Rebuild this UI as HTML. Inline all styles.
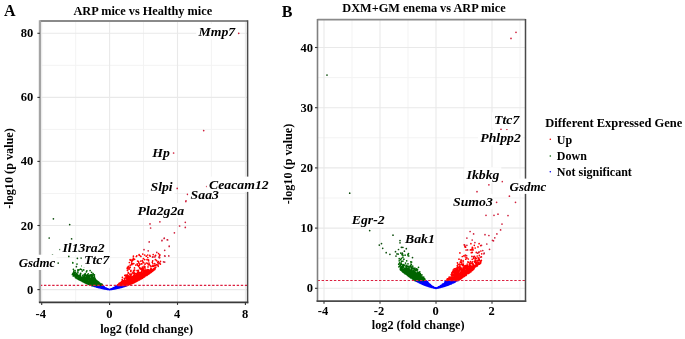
<!DOCTYPE html>
<html><head><meta charset="utf-8"><style>
html,body{margin:0;padding:0;background:#fff;width:685px;height:339px;overflow:hidden}
svg{display:block;filter:blur(0.3px)}
text{font-family:"Liberation Serif", serif;font-weight:bold;fill:#000}
.tk{font-size:12.5px}
.ttl{font-size:12.3px}
.ax{font-size:12.2px}
.lb{font-size:12.2px;font-style:italic}
.pl{font-size:16px}
.lg{font-size:12px}
.lgt{font-size:12.5px}
</style></head><body>
<svg width="685" height="339" viewBox="0 0 685 339">
<rect width="685" height="339" fill="#fff"/>
<!-- Panel A -->
<line x1="75.7" y1="21.0" x2="75.7" y2="302.4" stroke="#f3f3f3" stroke-width="1"/>
<line x1="143.5" y1="21.0" x2="143.5" y2="302.4" stroke="#f3f3f3" stroke-width="1"/>
<line x1="211.4" y1="21.0" x2="211.4" y2="302.4" stroke="#f3f3f3" stroke-width="1"/>
<line x1="39.9" y1="257.6" x2="247.6" y2="257.6" stroke="#f3f3f3" stroke-width="1"/>
<line x1="39.9" y1="193.5" x2="247.6" y2="193.5" stroke="#f3f3f3" stroke-width="1"/>
<line x1="39.9" y1="129.4" x2="247.6" y2="129.4" stroke="#f3f3f3" stroke-width="1"/>
<line x1="39.9" y1="65.3" x2="247.6" y2="65.3" stroke="#f3f3f3" stroke-width="1"/>
<line x1="41.7" y1="21.0" x2="41.7" y2="302.4" stroke="#e9e9e9" stroke-width="1.1"/>
<line x1="109.6" y1="21.0" x2="109.6" y2="302.4" stroke="#e9e9e9" stroke-width="1.1"/>
<line x1="177.5" y1="21.0" x2="177.5" y2="302.4" stroke="#e9e9e9" stroke-width="1.1"/>
<line x1="245.4" y1="21.0" x2="245.4" y2="302.4" stroke="#e9e9e9" stroke-width="1.1"/>
<line x1="39.9" y1="289.6" x2="247.6" y2="289.6" stroke="#e9e9e9" stroke-width="1.1"/>
<line x1="39.9" y1="225.5" x2="247.6" y2="225.5" stroke="#e9e9e9" stroke-width="1.1"/>
<line x1="39.9" y1="161.4" x2="247.6" y2="161.4" stroke="#e9e9e9" stroke-width="1.1"/>
<line x1="39.9" y1="97.4" x2="247.6" y2="97.4" stroke="#e9e9e9" stroke-width="1.1"/>
<line x1="39.9" y1="33.3" x2="247.6" y2="33.3" stroke="#e9e9e9" stroke-width="1.1"/>
<path d="M109.6 289.6h0M104.5 288.5h0M104.9 288.1h0M101.9 287.9h0M108.6 289.5h0M101.2 287.3h0M99.1 287.5h0M101.3 287.3h0M103.5 287.6h0M107.8 289.2h0M109.1 289.5h0M97.8 286.8h0M101.8 287.8h0M105.6 289.0h0M105.0 288.5h0M106.9 289.2h0M106.4 289.1h0M100.5 286.0h0M108.8 289.4h0M107.7 289.0h0M101.5 286.8h0M95.9 285.7h0M109.0 289.5h0M94.6 285.5h0M99.7 287.5h0M107.7 289.3h0M107.7 289.3h0M108.5 289.4h0M108.3 289.4h0M107.6 289.3h0M98.7 287.1h0M108.3 289.4h0M99.8 287.6h0M106.4 288.5h0M108.5 289.4h0M98.3 285.8h0M106.2 289.1h0M101.7 287.2h0M107.4 289.0h0M99.8 286.5h0M106.3 289.1h0M94.3 286.0h0M101.7 287.0h0M107.9 289.1h0M104.0 287.7h0M103.3 288.0h0M105.4 288.5h0M102.3 287.8h0M104.4 287.7h0M103.6 287.2h0M107.6 289.3h0M106.3 288.9h0M109.4 289.6h0M102.1 286.8h0M98.5 287.2h0M109.2 289.5h0M98.3 286.8h0M103.8 287.9h0M109.5 289.6h0M99.7 287.1h0M103.7 288.3h0M104.4 288.3h0M106.8 289.2h0M95.5 285.6h0M106.1 288.8h0M101.2 287.1h0M106.6 288.9h0M106.1 289.1h0M100.8 286.0h0M108.3 289.4h0M109.0 289.5h0M105.2 288.9h0M95.0 286.5h0M93.1 285.5h0M106.3 288.9h0M108.1 289.4h0M99.6 287.5h0M107.6 289.3h0M103.4 288.6h0M95.2 286.0h0M96.4 286.6h0M107.4 289.3h0M108.5 289.3h0M105.0 288.4h0M106.9 288.9h0M100.4 287.5h0M108.7 289.5h0M99.0 287.4h0M107.0 289.1h0M109.4 289.6h0M97.8 286.0h0M104.1 286.7h0M109.5 289.6h0M103.2 288.6h0M104.5 288.6h0M98.2 286.7h0M91.7 285.5h0M103.9 288.5h0M106.1 288.7h0M98.9 287.4h0M97.1 287.1h0M109.2 289.5h0M108.4 289.4h0M96.8 287.1h0M101.9 287.1h0M100.4 287.4h0M107.2 289.2h0M101.0 287.8h0M104.7 287.7h0M109.0 289.5h0M102.1 286.9h0M101.0 287.1h0M98.9 286.4h0M104.5 288.8h0M107.0 289.2h0M109.2 289.5h0M98.1 286.7h0M103.1 287.7h0M100.0 287.5h0M107.2 288.9h0M100.4 287.9h0M96.3 285.5h0M101.9 288.1h0M101.2 288.1h0M94.8 286.2h0M109.4 289.6h0M95.3 286.5h0M105.2 288.5h0M108.8 289.4h0M105.4 288.9h0M108.9 289.4h0M95.0 286.3h0M106.8 289.2h0M101.0 286.7h0M108.6 289.4h0M102.7 288.3h0M98.4 285.8h0M94.6 286.2h0M106.3 288.8h0M103.6 287.6h0M103.8 288.3h0M108.1 289.1h0M109.4 289.6h0M101.8 287.7h0M97.0 286.0h0M108.2 289.2h0M108.2 289.3h0M104.7 288.9h0M109.2 289.5h0M100.6 286.7h0M108.8 289.4h0M106.9 289.1h0M108.8 289.4h0M108.7 289.4h0M108.9 289.5h0M100.2 287.8h0M105.9 289.0h0M100.9 287.5h0M98.0 287.2h0M107.3 289.0h0M109.5 289.6h0M101.7 287.5h0M103.2 288.5h0M105.4 288.8h0M108.6 289.3h0M108.2 289.4h0M105.0 288.2h0M106.6 288.6h0M103.9 288.0h0M109.5 289.6h0M103.0 286.8h0M94.0 286.1h0M98.2 286.8h0M107.7 289.2h0M105.9 288.6h0M105.3 288.8h0M106.1 288.9h0M108.7 289.4h0M100.2 287.5h0M108.6 289.5h0M99.8 287.2h0M98.8 286.8h0M101.0 286.2h0M108.5 289.4h0M103.7 287.8h0M108.5 289.3h0M102.9 287.3h0M105.7 289.0h0M105.8 288.8h0M107.7 289.3h0M105.6 288.9h0M94.6 285.8h0M96.5 286.0h0M99.8 287.4h0M104.3 288.5h0M99.4 287.5h0M106.4 289.1h0M109.6 289.6h0M101.8 287.8h0M105.2 288.4h0M106.2 288.7h0M104.2 288.4h0M105.2 288.7h0M100.2 287.3h0M106.3 289.0h0M99.5 287.7h0M108.9 289.5h0M95.1 286.2h0M101.0 287.4h0M104.6 288.5h0M106.1 288.7h0M106.0 288.7h0M104.6 288.7h0M104.5 288.3h0M108.9 289.5h0M106.1 288.8h0M108.2 289.2h0M101.1 287.4h0M108.7 289.4h0M103.0 287.7h0M95.1 285.9h0M107.1 289.0h0M103.3 288.5h0M98.8 286.2h0M105.9 288.5h0M108.6 289.4h0M106.6 288.9h0M107.6 289.2h0M101.6 285.9h0M107.4 289.2h0M103.0 287.7h0M103.8 288.6h0M96.1 286.8h0M106.4 288.9h0M105.9 288.9h0M106.6 289.0h0M102.9 288.3h0M103.2 288.3h0M106.0 288.9h0M101.7 288.2h0M99.5 287.1h0M103.1 287.8h0M104.6 288.8h0M106.6 289.1h0M98.6 287.3h0M106.8 289.0h0M103.1 288.5h0M103.9 288.5h0M101.8 288.2h0M108.8 289.4h0M100.5 287.9h0M104.4 288.2h0M108.8 289.5h0M94.6 286.2h0M109.5 289.6h0M98.6 286.5h0M100.8 287.3h0M103.0 288.3h0M105.7 288.9h0M99.6 286.7h0M107.0 289.2h0M99.4 287.7h0M108.8 289.5h0M107.9 289.1h0M108.7 289.4h0M108.9 289.5h0M98.5 286.0h0M108.6 289.5h0M97.0 286.4h0M103.2 287.8h0M95.9 286.4h0M99.7 287.0h0M102.3 288.1h0M104.2 287.9h0M105.5 288.5h0M109.1 289.5h0M106.9 289.2h0M108.8 289.4h0M96.9 286.6h0M103.6 288.3h0M100.7 287.2h0M104.8 288.4h0M102.8 288.4h0M94.8 285.8h0M102.9 287.1h0M109.1 289.5h0M108.2 289.3h0M108.0 289.4h0M108.5 289.4h0M108.9 289.5h0M107.3 289.2h0M96.6 286.0h0M108.5 289.3h0M99.3 287.3h0M108.6 289.4h0M107.8 289.3h0M105.4 288.8h0M106.5 289.0h0M97.3 285.8h0M105.6 288.9h0M100.3 287.9h0M105.6 288.3h0M109.5 289.6h0M108.5 289.4h0M99.1 286.5h0M104.6 288.2h0M108.0 289.4h0M107.0 289.1h0M106.9 289.0h0M102.4 288.3h0M103.3 286.5h0M105.0 288.3h0M100.2 287.6h0M108.0 289.3h0M105.6 288.8h0M107.2 289.3h0M107.2 289.1h0M102.1 288.2h0M100.2 287.6h0M101.8 287.2h0M105.5 288.2h0M104.8 288.5h0M103.1 287.7h0M98.5 286.2h0M105.2 288.2h0M98.8 286.4h0M102.3 287.0h0M106.1 289.0h0M105.6 288.6h0M107.1 289.1h0M103.2 287.3h0M98.8 286.7h0M103.3 288.2h0M105.0 288.3h0M107.8 289.2h0M105.5 288.0h0M102.4 288.2h0M102.9 288.2h0M107.7 289.3h0M96.5 287.0h0M108.6 289.5h0M99.7 286.7h0M102.9 287.2h0M104.3 287.7h0M103.5 288.2h0M99.7 287.3h0M108.7 289.5h0M104.4 288.3h0M103.4 288.1h0M99.4 286.6h0M94.9 285.7h0M103.9 288.1h0M103.1 288.3h0M99.4 285.8h0M109.3 289.6h0M107.5 289.1h0M100.4 287.1h0M98.0 286.9h0M104.3 288.6h0M104.5 288.6h0M96.2 286.4h0M100.4 287.3h0M108.9 289.5h0M106.9 289.0h0M108.8 289.4h0M106.2 288.4h0M109.1 289.5h0M106.4 289.0h0M106.2 289.1h0M103.9 288.0h0M98.4 286.7h0M101.2 286.7h0M101.2 285.9h0M101.5 288.0h0M105.5 288.9h0M106.1 289.1h0M97.7 286.1h0M98.1 286.2h0M105.2 288.8h0M108.4 289.3h0M103.6 287.4h0M102.1 286.6h0M108.5 289.4h0M105.9 288.4h0M107.5 289.3h0M107.6 289.1h0M101.9 287.5h0M95.5 286.4h0M98.3 287.2h0M96.7 285.7h0M107.2 288.7h0M106.0 288.7h0M99.1 287.1h0M103.9 287.7h0M101.1 286.5h0M103.5 287.7h0M109.1 289.5h0M103.6 287.5h0M105.8 288.9h0M103.2 287.7h0M107.7 289.3h0M105.6 288.8h0M103.4 287.2h0M101.2 287.2h0M98.2 285.5h0M101.0 286.6h0M100.0 285.9h0M98.8 287.0h0M106.3 289.1h0M102.2 287.2h0M98.0 285.7h0M103.8 288.7h0M103.4 287.6h0M97.0 285.8h0M104.0 286.9h0M99.3 287.1h0M103.8 288.5h0M105.3 288.1h0M109.2 289.5h0M101.1 287.8h0M108.2 289.3h0M103.8 287.9h0M104.6 287.6h0M107.7 289.2h0M104.3 287.9h0M108.4 289.4h0M100.4 287.5h0M109.1 289.5h0M97.6 287.0h0M98.1 287.0h0M108.6 289.3h0M108.4 289.4h0M104.7 288.6h0M108.0 289.3h0M102.2 288.1h0M108.2 289.4h0M103.3 286.8h0M108.4 289.3h0M105.5 289.0h0M100.6 287.2h0M97.6 287.2h0M106.1 288.9h0M105.0 288.8h0M107.5 289.3h0M98.1 286.5h0M108.2 289.4h0M100.8 286.8h0M98.2 287.0h0M100.6 287.9h0M98.3 286.5h0M104.6 288.8h0M100.4 287.5h0M103.3 287.8h0M98.6 286.0h0M103.3 288.0h0M104.3 288.2h0M106.2 288.4h0M96.8 286.0h0M102.2 288.3h0M107.7 289.3h0M103.5 287.0h0M107.8 289.3h0M98.9 286.6h0M109.0 289.5h0M102.4 288.0h0M102.9 288.1h0M102.6 288.1h0M106.8 288.9h0M105.2 288.8h0M106.1 288.9h0M107.8 289.3h0M104.8 288.9h0M108.1 289.3h0M97.4 287.1h0M108.0 289.4h0M98.7 286.7h0M100.2 287.3h0M97.3 286.4h0M108.9 289.5h0M101.7 287.4h0M95.3 286.3h0M101.4 287.5h0M109.1 289.5h0M101.5 286.7h0M102.6 287.1h0M107.1 289.0h0M106.4 288.8h0M101.7 287.5h0M100.2 287.2h0M108.3 289.4h0M98.9 287.1h0M99.8 285.7h0M105.9 288.6h0M101.5 285.6h0M99.4 285.6h0M106.9 289.2h0M96.6 286.1h0M101.1 287.7h0M108.2 289.4h0M104.1 288.7h0M101.3 286.6h0M104.9 288.5h0M109.3 289.6h0M107.7 289.3h0M104.2 288.3h0M105.3 288.3h0M107.0 289.2h0M107.7 289.2h0M101.8 288.2h0M102.2 286.7h0M104.4 288.3h0M104.9 288.7h0M107.6 289.3h0M107.4 289.1h0M109.2 289.6h0M105.5 288.1h0M98.3 286.9h0M106.5 289.1h0M105.9 288.8h0M97.0 285.8h0M107.5 289.3h0M107.9 289.4h0M108.8 289.5h0M106.4 288.6h0M98.2 287.2h0M104.9 288.4h0M97.1 286.0h0M109.0 289.5h0M101.3 286.2h0M100.7 287.9h0M97.7 286.6h0M107.1 288.9h0M108.4 289.4h0M101.8 286.0h0M106.4 288.7h0M98.8 286.8h0M108.0 289.3h0M103.5 288.4h0M102.4 286.2h0M102.7 287.9h0M98.7 286.4h0M103.6 288.3h0M109.1 289.5h0M100.5 286.9h0M101.2 287.1h0M108.5 289.4h0M109.1 289.5h0M100.0 286.4h0M102.4 288.0h0M106.0 289.1h0M94.6 285.9h0M104.2 288.4h0M98.3 287.5h0M97.1 285.8h0M108.4 289.3h0M101.9 287.9h0M108.3 289.4h0M98.8 285.4h0M105.7 288.8h0M94.5 286.1h0M103.3 288.4h0M94.1 286.2h0M109.1 289.5h0M101.2 287.7h0M107.2 289.2h0M109.3 289.5h0M108.0 289.2h0M99.9 286.4h0M103.8 288.2h0M105.5 288.5h0M106.9 289.2h0M108.2 289.4h0M102.8 287.4h0M101.8 286.4h0M95.6 285.7h0M103.5 287.8h0M103.0 287.9h0M102.5 287.7h0M103.3 287.0h0M103.1 288.0h0M102.2 287.7h0M108.6 289.4h0M108.8 289.5h0M104.7 288.8h0M105.8 288.8h0M103.3 288.2h0M97.3 287.0h0M97.5 287.1h0M105.9 288.3h0M105.0 288.7h0M98.5 285.6h0M104.5 288.8h0M104.2 288.8h0M108.6 289.4h0M106.3 288.9h0M107.5 289.3h0M99.7 286.4h0M105.4 288.9h0M108.9 289.5h0M104.6 288.0h0M94.6 286.3h0M103.6 288.2h0M96.2 286.5h0M105.1 288.5h0M107.6 289.2h0M94.8 285.9h0M102.7 287.6h0M95.7 286.3h0M94.6 285.9h0M94.9 285.9h0M103.3 288.5h0M98.9 286.6h0M101.4 285.9h0M94.8 285.7h0M96.9 285.9h0M107.7 289.2h0M105.0 288.4h0M105.7 288.8h0M106.8 289.0h0M105.0 288.7h0M106.0 289.0h0M109.6 289.6h0M97.5 285.9h0M107.4 289.1h0M105.9 288.2h0M94.1 286.1h0M96.1 286.8h0M103.7 288.2h0M98.1 287.1h0M104.5 288.8h0M96.3 286.9h0M105.8 289.0h0M106.1 288.6h0M100.4 286.7h0M106.0 289.1h0M102.8 287.4h0M102.1 286.4h0M108.8 289.5h0M106.5 288.7h0M103.4 288.3h0M101.0 286.3h0M103.6 288.4h0M108.6 289.5h0M107.4 289.1h0M104.4 287.6h0M109.0 289.5h0M101.3 288.0h0M98.1 286.9h0M106.9 288.5h0M97.4 286.3h0M97.2 286.9h0M108.9 289.4h0M98.6 286.1h0M96.7 286.2h0M104.2 288.7h0M109.5 289.6h0M107.2 289.3h0M103.6 287.9h0M99.1 286.5h0M99.2 286.2h0M108.7 289.5h0M108.6 289.4h0M108.0 289.3h0M107.5 288.9h0M106.8 289.0h0M101.3 287.9h0M100.5 287.5h0M108.8 289.5h0M103.3 287.8h0M109.1 289.5h0M101.1 286.5h0M99.5 287.7h0M105.4 288.9h0M103.9 288.7h0M105.9 289.0h0M103.2 286.9h0M108.6 289.5h0M109.5 289.6h0M108.2 289.3h0M107.1 289.2h0M100.3 287.1h0M105.7 288.6h0M98.7 287.5h0M94.4 286.1h0M101.2 287.1h0M107.1 288.8h0M106.6 288.9h0M106.0 288.8h0M100.6 288.0h0M103.3 288.2h0M109.3 289.5h0M92.8 285.5h0M108.2 289.4h0M106.4 288.5h0M95.5 286.3h0M102.8 288.0h0M105.4 288.7h0M99.3 286.7h0M109.1 289.5h0M105.8 288.8h0M98.5 286.6h0M103.5 288.6h0M103.9 288.0h0M104.8 288.8h0M98.4 286.2h0M107.4 289.3h0M104.3 288.7h0M103.1 286.9h0M103.5 287.9h0M93.9 285.6h0M105.9 289.1h0M103.8 288.3h0M98.1 286.9h0M101.9 288.0h0M92.9 285.8h0M106.2 288.8h0M101.4 288.1h0M101.9 287.3h0M105.6 289.0h0M102.4 288.4h0M96.2 286.5h0M101.3 288.1h0M106.6 288.3h0M96.5 285.9h0M98.8 287.6h0M104.0 288.3h0M108.0 289.2h0M97.6 286.7h0M108.7 289.4h0M107.4 289.3h0M97.4 286.4h0M104.0 288.5h0M99.4 286.1h0M100.5 286.6h0M101.0 286.3h0M102.5 287.4h0M106.8 289.2h0M95.2 285.7h0M99.7 287.3h0M107.9 289.2h0M106.2 288.7h0M108.2 289.4h0M106.6 289.1h0M100.6 285.7h0M109.0 289.5h0M105.2 288.4h0M106.4 289.0h0M108.6 289.3h0M96.5 286.7h0M99.4 286.7h0M99.0 287.1h0M106.5 289.1h0M96.8 285.7h0M105.9 288.7h0M104.7 288.8h0M105.2 289.0h0M109.1 289.5h0M105.9 289.1h0M106.0 288.6h0M104.9 288.7h0M102.5 288.1h0M103.0 288.5h0M96.7 286.9h0M108.6 289.4h0M97.5 286.1h0M101.3 287.5h0M106.5 288.8h0M102.7 287.9h0M94.1 285.6h0M105.9 288.8h0M104.1 288.5h0M103.9 288.6h0M103.9 288.2h0M104.4 288.0h0M100.5 287.4h0M99.8 286.2h0M98.7 286.4h0M99.0 287.6h0M99.9 285.9h0M104.3 288.0h0M102.6 288.3h0M104.8 288.2h0M96.8 287.1h0M107.1 289.1h0M97.5 286.6h0M97.6 287.0h0M94.1 286.1h0M109.2 289.5h0M106.6 288.5h0M108.0 289.2h0M106.8 288.8h0M107.8 289.2h0M108.8 289.4h0M103.9 288.7h0M104.9 287.7h0M107.6 289.2h0M105.8 288.8h0M94.4 286.3h0M101.4 287.9h0M97.4 286.9h0M97.6 285.5h0M103.9 288.7h0M104.7 288.8h0M104.9 288.4h0M99.3 286.9h0M99.8 287.6h0M102.7 288.4h0M102.1 288.0h0M107.1 289.1h0M107.9 289.3h0M101.9 288.0h0M103.7 287.7h0M106.7 289.2h0M106.0 288.7h0M107.9 289.0h0M101.7 288.2h0M105.8 288.8h0M108.2 289.4h0M105.2 288.6h0M100.6 288.0h0M108.6 289.4h0M103.7 287.4h0M100.9 287.3h0M101.3 287.8h0M96.8 286.0h0M99.8 286.2h0M104.8 288.6h0M107.9 289.4h0M109.0 289.5h0M106.7 289.1h0M102.9 288.4h0M102.4 285.9h0M102.8 288.3h0M106.2 288.8h0M101.0 287.9h0M105.4 288.8h0M97.4 286.4h0M102.5 285.9h0M102.5 288.3h0M94.5 286.0h0M97.9 286.7h0M98.9 287.3h0M107.1 288.8h0M107.1 289.1h0M103.4 287.8h0M108.1 289.3h0M100.1 286.2h0M102.4 288.0h0M103.2 288.5h0M107.7 289.3h0M106.8 289.1h0M106.2 289.0h0M102.3 288.0h0M110.3 289.5h0M110.2 289.5h0M117.0 288.1h0M112.6 288.9h0M113.3 289.0h0M113.0 288.9h0M113.3 287.8h0M112.7 288.5h0M113.7 288.2h0M112.4 289.1h0M114.4 288.4h0M117.6 287.0h0M119.9 286.9h0M119.8 286.5h0M111.7 289.2h0M115.8 288.4h0M116.4 288.4h0M111.0 289.3h0M112.5 289.0h0M114.6 288.7h0M112.4 289.1h0M121.7 286.1h0M117.5 287.7h0M117.4 287.6h0M114.4 288.8h0M113.9 288.8h0M116.2 288.3h0M112.4 289.1h0M114.7 288.8h0M112.0 289.3h0M112.2 289.2h0M118.4 287.5h0M115.0 287.6h0M112.9 289.0h0M118.0 287.7h0M110.8 289.4h0M114.4 288.7h0M119.4 287.4h0M112.5 289.1h0M111.0 289.4h0M111.6 289.2h0M114.4 288.5h0M117.0 287.7h0M122.4 286.7h0M118.1 288.0h0M121.6 286.9h0M114.0 288.7h0M114.8 288.7h0M115.7 288.6h0M113.5 288.5h0M112.1 288.9h0M117.0 288.0h0M119.5 287.2h0M109.8 289.6h0M114.0 288.3h0M124.7 286.1h0M116.1 288.1h0M110.6 289.4h0M117.3 287.1h0M111.5 289.1h0M110.7 289.4h0M123.1 286.6h0M117.2 286.3h0M115.4 288.6h0M112.1 289.2h0M114.0 287.6h0M126.1 285.7h0M112.5 289.1h0M115.4 287.3h0M116.1 288.5h0M119.0 287.6h0M117.4 286.3h0M119.0 287.3h0M125.8 285.8h0M118.7 286.3h0M112.3 288.8h0M122.3 287.0h0M116.7 287.7h0M116.8 288.1h0M115.3 288.1h0M117.1 286.7h0M125.5 285.5h0M113.3 288.9h0M123.4 285.6h0M112.3 289.1h0M114.1 287.8h0M123.9 286.3h0M119.7 287.3h0M112.7 288.5h0M114.3 288.4h0M120.1 287.0h0M122.8 285.7h0M115.3 288.6h0M117.0 287.1h0M112.5 289.0h0M120.1 286.8h0M120.8 285.5h0M117.5 287.7h0M116.4 288.3h0M118.0 288.0h0M125.8 285.8h0M116.0 288.5h0M122.7 286.0h0M112.1 289.1h0M117.1 287.7h0M112.0 288.9h0M115.8 287.5h0M115.7 288.2h0M109.9 289.5h0M118.8 287.0h0M110.7 289.5h0M116.2 288.1h0M123.8 285.7h0M121.3 286.2h0M117.2 288.2h0M117.8 286.2h0M114.9 288.5h0M114.6 288.7h0M115.1 287.4h0M119.6 286.0h0M124.3 285.8h0M112.0 289.1h0M117.4 288.0h0M113.4 289.0h0M117.0 287.4h0M110.3 289.4h0M116.9 288.2h0M110.5 289.4h0M116.4 287.9h0M110.7 289.4h0M119.0 287.7h0M116.9 287.0h0M118.2 288.1h0M112.4 289.0h0M119.0 287.4h0M112.4 288.8h0M115.2 288.6h0M109.8 289.6h0M117.9 287.8h0M111.2 289.3h0M123.0 286.5h0M114.0 288.9h0M114.0 288.8h0M116.5 288.4h0M118.1 287.4h0M113.5 288.8h0M115.1 288.7h0M123.4 286.3h0M115.1 288.6h0M112.1 289.0h0M118.2 287.1h0M120.8 287.0h0M113.7 288.9h0M122.1 286.9h0M112.4 288.8h0M120.2 286.8h0M113.3 288.7h0M109.9 289.6h0M110.9 289.4h0M112.5 289.1h0M121.1 287.1h0M109.7 289.6h0M116.1 288.3h0M118.0 287.8h0M119.1 286.9h0M110.2 289.4h0M116.5 287.9h0M124.5 285.7h0M115.7 288.0h0M114.2 288.5h0M111.1 289.2h0M121.6 286.5h0M111.6 289.1h0M114.0 288.8h0M122.3 287.0h0M115.0 288.4h0M111.5 289.2h0M122.0 286.5h0M110.3 289.5h0M120.9 286.7h0M115.8 288.5h0M122.8 286.3h0M117.7 287.7h0M111.6 289.1h0M120.8 287.4h0M119.3 285.6h0M116.9 288.0h0M116.5 288.2h0M113.8 288.9h0M114.5 288.9h0M117.6 288.1h0M122.0 286.5h0M119.0 285.5h0M110.8 289.3h0M116.3 288.2h0M110.1 289.5h0M123.4 286.2h0M113.4 288.8h0M117.9 286.4h0M114.5 288.2h0M112.0 288.9h0M122.2 286.4h0M125.3 285.5h0M113.3 288.7h0M113.1 288.7h0M112.5 289.1h0M111.8 289.0h0M118.7 285.5h0M111.2 289.3h0M118.4 288.0h0M120.6 286.9h0M124.0 286.3h0M116.1 287.8h0M111.9 289.1h0M115.7 288.6h0M114.7 287.9h0M114.7 288.6h0M112.3 288.8h0M114.3 288.6h0M116.1 287.9h0M115.4 287.9h0M113.7 288.9h0M113.8 288.7h0M122.2 287.1h0M110.5 289.4h0M118.1 286.8h0M116.8 287.6h0M121.1 287.4h0M116.2 288.4h0M112.6 288.8h0M125.3 285.8h0M120.3 285.7h0M113.4 288.3h0M115.9 288.6h0M113.9 288.3h0M114.5 288.5h0M114.0 288.9h0M117.7 288.0h0M113.2 289.1h0M111.9 289.1h0M124.3 285.5h0M109.7 289.6h0M122.9 286.0h0M114.1 287.6h0M112.1 289.1h0M116.5 287.4h0M118.9 287.7h0M110.3 289.5h0M111.2 289.2h0M112.0 289.2h0M120.8 286.8h0M116.7 288.2h0M114.1 288.3h0M114.6 288.8h0M125.5 285.8h0M121.6 286.9h0M112.7 289.1h0M114.3 288.9h0M115.7 288.5h0M126.1 285.8h0M118.5 287.2h0M119.4 287.2h0M111.6 289.2h0M117.5 288.1h0M112.0 289.3h0M119.6 287.6h0M125.7 285.6h0M114.7 288.5h0M113.1 289.0h0M111.4 289.2h0M124.5 286.1h0M121.4 286.0h0M114.9 288.7h0M117.2 286.9h0M110.9 289.4h0M116.0 288.2h0M115.8 288.4h0M111.8 289.1h0M116.7 288.1h0M121.5 286.8h0M114.0 288.8h0M111.4 289.3h0M112.8 288.3h0M110.5 289.5h0M119.8 287.1h0M120.0 285.4h0M111.1 289.3h0M115.7 286.3h0M114.1 288.7h0M118.2 287.9h0M118.1 287.7h0M118.5 285.9h0M116.1 288.2h0M113.1 288.7h0M118.8 286.3h0M115.9 288.5h0M112.4 289.1h0M117.1 288.1h0M119.7 287.6h0M110.0 289.6h0M118.6 287.3h0M111.8 289.3h0M119.9 285.9h0M114.5 288.7h0M115.6 288.2h0M121.6 287.2h0M121.1 286.8h0M114.9 287.3h0M121.0 287.2h0M112.5 289.0h0M115.8 288.4h0M117.1 288.1h0M112.8 289.1h0M116.4 288.4h0M112.3 288.6h0M110.2 289.5h0M116.2 287.8h0M112.7 289.1h0M122.1 286.4h0M117.6 288.0h0M116.4 288.3h0M113.6 288.5h0M118.2 287.7h0M115.7 288.6h0M112.8 288.9h0M111.1 289.3h0M123.8 286.4h0M111.2 289.4h0M118.3 285.7h0M112.5 289.1h0M110.0 289.5h0M118.2 287.8h0M114.1 288.5h0M112.0 289.2h0M113.1 288.8h0M124.1 285.8h0M116.5 287.4h0M116.0 287.0h0M118.9 286.1h0M113.0 288.7h0M112.5 288.9h0M118.0 288.1h0M121.1 285.6h0M120.1 287.6h0M116.0 287.1h0M121.8 286.8h0M112.4 289.2h0M118.4 285.5h0M123.7 285.9h0M123.3 285.5h0M114.9 288.6h0M117.2 288.2h0M122.1 286.7h0M123.9 286.0h0M112.1 289.2h0M121.1 286.8h0M115.3 287.8h0M117.0 287.4h0M110.6 289.4h0M120.2 286.8h0M116.3 287.8h0M115.3 288.5h0M115.7 288.5h0M114.4 287.7h0M116.6 287.7h0M116.9 287.3h0M120.7 286.7h0M112.8 288.6h0M114.6 287.8h0M113.2 288.3h0M115.9 288.3h0M112.6 288.7h0M109.6 289.6h0M120.5 285.7h0M114.1 288.5h0M119.0 287.8h0M118.2 286.5h0M112.0 289.1h0M110.3 289.5h0M112.0 289.0h0M112.0 289.0h0M113.6 289.0h0M117.8 287.7h0M113.6 288.9h0M113.7 288.9h0M114.5 288.7h0M110.7 289.4h0M110.9 289.2h0M115.2 287.7h0M124.3 286.1h0M124.3 286.4h0M113.7 288.7h0M109.9 289.6h0M120.4 287.5h0M116.0 288.4h0M124.0 285.8h0M122.3 286.4h0M121.3 286.7h0M119.1 285.9h0M114.2 288.5h0M120.6 287.2h0M113.0 288.6h0M114.9 288.7h0M116.0 287.4h0M109.7 289.6h0M115.3 287.8h0M124.4 285.8h0M122.5 286.9h0M118.5 286.7h0M110.3 289.5h0M109.8 289.6h0M113.7 288.8h0M111.8 289.2h0M115.4 286.9h0M113.9 288.8h0M114.9 288.4h0M120.1 286.6h0M122.1 286.7h0M114.2 288.4h0M125.1 285.6h0M109.7 289.6h0M124.8 286.0h0M114.7 287.3h0M120.3 286.0h0M118.5 287.7h0M110.6 289.3h0M123.1 285.8h0M122.0 286.9h0M119.4 287.2h0M120.2 287.0h0M121.3 287.0h0M112.6 288.9h0M120.4 287.0h0M119.0 287.0h0M113.4 288.9h0M117.7 286.3h0M115.2 288.5h0M115.7 287.0h0M112.4 288.6h0M113.9 288.9h0M120.3 287.5h0M111.0 289.4h0M113.3 289.0h0M122.4 286.1h0M111.7 289.0h0M114.3 288.7h0M117.5 286.9h0M122.6 285.5h0M112.4 289.2h0M120.5 285.8h0M110.3 289.4h0M118.7 287.3h0M119.8 287.7h0M114.6 288.4h0M115.4 288.6h0M118.0 286.4h0M114.7 288.0h0M124.1 286.4h0M116.5 287.9h0M115.8 288.2h0M113.3 288.7h0M110.6 289.4h0M118.8 287.1h0M114.6 288.2h0M114.7 288.8h0M112.7 289.0h0M122.9 286.1h0M122.0 287.0h0M123.2 286.0h0M111.3 289.3h0M120.3 287.0h0M121.4 287.2h0M120.8 287.4h0M121.6 285.9h0M113.9 288.9h0M116.5 287.9h0M117.4 287.1h0M117.4 288.0h0M114.6 288.6h0M118.5 285.8h0M112.3 288.9h0M118.2 287.5h0M118.5 287.3h0M122.9 286.6h0M114.2 288.6h0M113.0 288.8h0M120.0 287.0h0M121.6 286.0h0M113.5 289.0h0M119.0 287.9h0M123.4 285.7h0M110.0 289.6h0M109.7 289.6h0M116.0 287.4h0M110.8 289.3h0M116.2 287.4h0M121.0 285.8h0M110.4 289.4h0M119.7 287.7h0M119.4 287.8h0M110.9 289.3h0M118.6 287.6h0M122.3 286.8h0M115.6 288.6h0M121.5 285.8h0M118.8 285.9h0M113.9 288.6h0M109.8 289.6h0M112.9 288.6h0M120.3 287.5h0M111.2 289.1h0M112.8 289.1h0M111.8 288.9h0M122.1 286.7h0M117.2 286.7h0M111.2 289.3h0M115.2 288.5h0M111.1 289.2h0M118.6 285.9h0M117.9 286.6h0M109.8 289.6h0M114.8 288.5h0M119.1 287.8h0M110.4 289.5h0M122.4 285.7h0M112.3 289.0h0M116.5 287.2h0M114.2 288.8h0M112.1 289.1h0M112.1 288.9h0M118.2 286.1h0M117.7 287.7h0M117.7 288.2h0M121.5 286.0h0M119.3 287.5h0M119.4 287.6h0M112.7 289.1h0M124.4 285.7h0M109.7 289.6h0M124.4 285.8h0M111.1 289.4h0M120.0 287.6h0M114.0 288.8h0M120.3 287.5h0M110.7 289.3h0M114.7 288.6h0M120.7 286.9h0M109.8 289.6h0M113.5 289.0h0M113.4 289.0h0M116.0 288.5h0M112.7 289.1h0M123.8 286.5h0M110.6 289.4h0M119.3 287.6h0M112.5 289.1h0M120.2 285.6h0M115.1 288.2h0M125.8 285.5h0M111.4 289.3h0M110.2 289.5h0M113.5 288.9h0M112.7 289.0h0M117.4 287.7h0M110.0 289.5h0M114.5 288.6h0M111.4 289.2h0M111.5 289.3h0M110.7 289.4h0M123.2 286.1h0M118.4 287.2h0M112.2 289.0h0M116.2 288.4h0M120.6 287.1h0M114.4 288.6h0M115.5 288.0h0M121.0 286.1h0M110.0 289.5h0M112.3 289.2h0M110.5 289.3h0M113.8 288.9h0M126.5 285.6h0M110.5 289.5h0M120.0 285.8h0M115.7 288.0h0M125.2 285.9h0M114.6 288.3h0M109.9 289.5h0M116.8 286.3h0M123.8 286.1h0M112.3 289.2h0M121.5 285.5h0M119.1 286.4h0M115.8 288.5h0M112.4 289.2h0M114.5 288.7h0M112.0 289.3h0M116.9 288.2h0M110.4 289.4h0M116.2 287.4h0M112.5 289.1h0M121.1 286.7h0M116.8 288.2h0M113.0 289.1h0M116.3 286.7h0M115.0 288.7h0M120.8 285.6h0M117.5 288.2h0M121.8 286.9h0M111.0 289.3h0M117.1 285.5h0M110.5 289.3h0M115.6 288.5h0M119.0 286.4h0M109.7 289.6h0M115.8 288.5h0M115.9 287.6h0M113.6 288.5h0M112.6 288.9h0M118.1 287.8h0M110.9 289.3h0M124.5 285.9h0M120.4 286.3h0M116.4 287.4h0M118.5 287.4h0M110.9 289.4h0M111.7 289.2h0M113.9 288.6h0M111.3 289.4h0M115.4 288.3h0M114.6 288.1h0M113.3 288.8h0M110.2 289.4h0M119.2 287.4h0M121.6 287.1h0M115.1 288.4h0M111.6 289.3h0M116.4 287.5h0M123.6 285.7h0M117.5 287.0h0M111.9 289.2h0M114.5 288.8h0M123.4 286.7h0M114.2 288.9h0M118.9 287.2h0M121.8 286.4h0M116.5 288.2h0M123.7 286.1h0M125.0 286.2h0M113.2 288.9h0M114.5 287.8h0M113.4 288.8h0M112.5 289.1h0M115.9 288.5h0M123.1 286.2h0M119.4 286.3h0M117.6 286.9h0M112.3 289.2h0M115.5 287.9h0M114.8 287.2h0M119.0 285.4h0M111.7 289.0h0M112.7 288.7h0M112.5 289.2h0M115.9 288.4h0M111.4 289.3h0M115.2 288.4h0M109.8 289.6h0M113.7 288.9h0M117.5 288.0h0M115.8 287.6h0M118.3 287.1h0M117.4 287.9h0M121.4 286.1h0M112.9 289.1h0M113.2 289.0h0M114.7 287.6h0M121.0 285.5h0M117.1 288.2h0M112.1 289.2h0M118.7 287.4h0M115.4 288.5h0M112.5 288.6h0M123.4 285.7h0M114.1 288.7h0M116.6 287.8h0M111.1 289.4h0M114.3 288.9h0M109.6 289.6h0M122.4 286.8h0M116.2 288.2h0M114.1 288.7h0M112.5 289.2h0M117.3 287.7h0M123.2 285.5h0M120.3 287.6h0M111.5 289.1h0M115.3 288.1h0M113.4 288.3h0M123.3 286.1h0M113.4 288.4h0M114.6 288.2h0M111.3 289.2h0M123.1 286.2h0M110.0 289.5h0M121.4 286.7h0M111.8 289.0h0M110.0 289.5h0M114.9 288.8h0M115.3 288.7h0M123.3 285.8h0M111.4 289.2h0M110.5 289.4h0M119.8 287.5h0M117.4 286.5h0M115.2 288.3h0M112.5 289.2h0M119.4 285.9h0M113.1 289.0h0M115.6 287.9h0M112.2 289.1h0M114.3 288.8h0M121.3 286.4h0M117.7 286.0h0M110.0 289.5h0M110.2 289.5h0M122.2 286.5h0M118.4 286.1h0M117.1 287.0h0M122.2 286.8h0M116.1 287.9h0M110.2 289.5h0M117.0 287.7h0M117.2 286.4h0M116.8 288.2h0M120.7 286.3h0M125.2 285.9h0M112.0 289.2h0M113.7 288.9h0M116.5 287.9h0M113.5 288.9h0M119.0 286.9h0M115.3 288.6h0M117.0 286.2h0M118.7 287.4h0M111.4 289.3h0M122.2 286.7h0M113.1 288.7h0M119.0 287.7h0M116.8 288.3h0M117.8 287.4h0M118.9 286.5h0M115.3 288.4h0M115.6 288.5h0M117.7 287.8h0M111.2 289.3h0M121.2 286.1h0M117.7 288.0h0M111.3 289.3h0M121.3 286.4h0M116.4 288.2h0M112.1 289.2h0M119.3 287.5h0M114.5 288.6h0M111.5 289.3h0M116.1 287.9h0M116.4 288.1h0M116.6 287.0h0M118.3 287.6h0M110.2 289.5h0M119.5 287.1h0M111.3 289.3h0M115.3 288.7h0M117.5 287.4h0M118.3 287.8h0M112.1 289.2h0M113.8 288.7h0M121.6 286.7h0M122.9 286.5h0M121.6 286.9h0M115.7 288.5h0M120.0 285.8h0M111.4 289.4h0M115.4 288.5h0M111.8 288.8h0M113.8 288.4h0M114.4 288.2h0M113.3 289.1h0M117.9 286.4h0M118.7 287.7h0M120.0 286.2h0M117.8 288.0h0M114.0 288.0h0M123.7 286.3h0M120.6 286.3h0M120.8 287.0h0M112.2 289.2h0M111.9 289.3h0M116.5 288.3h0M121.0 285.8h0M119.2 286.1h0M118.1 287.0h0M118.8 287.8h0M118.7 287.8h0M115.0 288.7h0M113.8 288.1h0M115.9 288.5h0M123.2 286.5h0M112.5 289.0h0M110.2 289.5h0M124.2 285.5h0M114.7 288.3h0M117.1 287.8h0M119.9 287.0h0M114.1 288.8h0M120.7 286.5h0M114.7 287.4h0M113.9 288.8h0M110.8 289.4h0M110.7 289.5h0M117.5 287.6h0M119.0 287.5h0M115.8 288.3h0M110.5 289.4h0M113.3 288.9h0M119.5 287.5h0M121.6 286.1h0M119.2 286.9h0M114.9 288.8h0M113.5 288.8h0M113.6 288.5h0M113.4 288.8h0M118.1 287.8h0M113.0 289.1h0M120.4 285.7h0M118.6 287.4h0M124.3 285.5h0M113.5 288.9h0M115.3 288.7h0M111.7 289.0h0M125.1 285.4h0M115.4 288.4h0M113.7 288.9h0M113.2 288.0h0M119.1 287.2h0M115.5 288.6h0M113.1 288.4h0M118.9 287.2h0M110.8 289.4h0M125.5 285.9h0M115.2 288.4h0M116.6 286.9h0M110.0 289.5h0M123.6 285.7h0M112.5 289.1h0M113.0 288.8h0M110.3 289.5h0M113.4 289.0h0M112.9 288.9h0M109.9 289.6h0M111.9 289.1h0M116.1 288.5h0M113.0 289.0h0M117.4 287.9h0M110.1 289.5h0M112.8 289.0h0M110.2 289.5h0M119.7 286.1h0M111.4 289.3h0M119.3 287.4h0M114.1 288.8h0M119.8 287.6h0M110.8 289.3h0M113.1 288.9h0M118.1 287.6h0M124.2 285.8h0M113.6 289.0h0M118.5 286.4h0M113.2 288.9h0M115.5 286.9h0M111.0 289.4h0M112.5 288.9h0M117.1 287.1h0M114.2 288.9h0M117.6 287.5h0M117.6 287.7h0M115.2 288.2h0M116.2 287.7h0M121.2 286.2h0M122.1 286.2h0M115.7 288.4h0M113.7 288.7h0M119.6 287.6h0M117.1 287.6h0M116.0 287.7h0M123.5 285.8h0M117.3 287.4h0M119.4 286.4h0M114.1 288.3h0M115.1 288.3h0M114.4 288.0h0M121.0 287.4h0M116.0 288.5h0M118.7 287.8h0M123.4 286.7h0M112.4 288.9h0M123.0 286.3h0M122.7 285.8h0M113.2 288.3h0M117.8 288.1h0M125.4 285.7h0M109.7 289.6h0M116.9 287.1h0M112.1 289.1h0M109.6 289.6h0M109.8 289.6h0M110.5 289.4h0M115.7 287.9h0M122.3 285.5h0M125.7 285.5h0M116.1 288.3h0M122.0 286.1h0M114.8 288.7h0M116.0 286.6h0M117.5 286.0h0M120.8 286.0h0M112.8 288.7h0M118.9 286.5h0M114.0 288.7h0M124.2 285.7h0M121.9 285.7h0M115.2 288.6h0M113.5 288.8h0M121.7 286.5h0M110.0 289.5h0M123.7 286.1h0M117.6 288.1h0M123.0 286.3h0M115.3 288.0h0M116.8 288.0h0M114.4 287.3h0M121.8 287.1h0M119.5 287.2h0M110.4 289.4h0M119.3 287.5h0M119.0 286.8h0M116.2 288.4h0M118.0 288.1h0M119.4 286.1h0M122.0 286.1h0M112.0 289.2h0M121.6 287.1h0M110.4 289.5h0M113.4 288.5h0M118.0 287.1h0M114.0 288.7h0M111.6 289.2h0M112.8 288.6h0M116.9 287.7h0M110.9 289.4h0M115.3 287.0h0M115.7 288.6h0M111.5 289.3h0M116.1 288.5h0M111.1 289.3h0M122.5 285.7h0M122.1 286.7h0M116.1 287.8h0M120.4 287.4h0M112.6 289.1h0M121.4 287.2h0M124.2 285.8h0M115.6 288.6h0M121.3 287.1h0M118.0 286.4h0M119.5 286.2h0M118.6 287.6h0M112.3 289.2h0M112.0 289.2h0M120.3 287.5h0M111.0 289.3h0M117.8 288.2h0M119.0 287.0h0M113.1 288.6h0M119.3 287.5h0M110.9 289.4h0M110.7 289.4h0M116.9 288.3h0M119.9 286.8h0M118.2 286.5h0M120.1 287.2h0M122.0 287.0h0M118.2 287.1h0M111.9 289.3h0M116.4 288.4h0M120.3 287.1h0M114.1 288.8h0M117.9 288.2h0M110.7 289.4h0M114.9 288.3h0M112.2 289.2h0M120.0 286.1h0M124.7 285.6h0M121.0 286.7h0M110.4 289.5h0M113.6 287.9h0M113.3 288.6h0M118.2 287.0h0M118.9 285.8h0M110.3 289.5h0M121.3 286.9h0M114.3 288.6h0M113.1 289.0h0M118.9 287.0h0M114.6 288.4h0M114.8 288.4h0M113.5 288.7h0M113.9 288.9h0M111.9 289.1h0M112.1 288.7h0M117.5 287.9h0M115.9 287.2h0M117.7 287.6h0M113.2 289.0h0M114.0 288.5h0M118.4 287.6h0M125.0 285.5h0M114.9 288.5h0M115.3 288.2h0M114.7 288.4h0M111.9 289.2h0M118.3 287.9h0M112.4 289.1h0M116.7 287.9h0M112.4 289.2h0M116.4 287.4h0M119.7 287.1h0M109.9 289.5h0M113.4 289.0h0M115.8 288.5h0M110.2 289.5h0M110.1 289.5h0M117.6 287.6h0M110.7 289.4h0M115.4 288.5h0" stroke="#0000ff" stroke-width="1.70" stroke-linecap="round" fill="none"/>
<path d="M94.5 283.8h0M92.8 277.1h0M86.9 281.0h0M93.8 285.4h0M86.8 279.0h0M77.3 275.8h0M87.7 282.5h0M78.3 279.1h0M88.1 283.1h0M83.6 279.6h0M93.0 282.6h0M91.6 274.8h0M95.9 282.9h0M88.8 284.0h0M86.5 282.6h0M83.3 281.2h0M95.0 284.2h0M75.7 272.3h0M96.7 285.1h0M89.2 284.3h0M98.0 281.8h0M85.2 279.0h0M98.1 285.0h0M89.5 282.9h0M90.2 274.9h0M87.1 278.4h0M96.1 284.4h0M98.6 284.1h0M75.8 276.2h0M88.3 283.4h0M97.9 283.9h0M83.7 279.3h0M90.7 280.4h0M89.8 284.7h0M91.7 283.5h0M87.7 274.7h0M81.0 277.4h0M75.1 276.4h0M94.3 283.2h0M99.0 284.4h0M97.7 284.5h0M92.1 284.9h0M91.7 280.2h0M75.7 276.8h0M90.4 281.3h0M73.5 274.7h0M80.0 276.5h0M96.8 284.6h0M95.3 284.7h0M83.5 278.0h0M88.4 283.0h0M85.1 282.4h0M93.1 283.4h0M91.0 284.8h0M96.1 281.8h0M87.9 283.5h0M88.3 276.7h0M93.2 282.7h0M100.1 285.2h0M86.2 281.3h0M95.9 282.3h0M81.5 280.2h0M85.7 280.7h0M84.9 275.4h0M79.7 279.6h0M90.8 282.0h0M89.0 281.8h0M86.9 279.6h0M89.6 279.6h0M86.1 283.1h0M93.5 284.9h0M93.2 279.0h0M95.5 279.6h0M94.0 283.8h0M83.9 276.7h0M88.4 283.9h0M95.0 279.1h0M77.7 276.1h0M84.4 281.2h0M90.2 284.4h0M80.9 278.6h0M95.7 284.9h0M92.4 276.0h0M81.7 280.4h0M73.8 271.2h0M83.9 280.5h0M93.1 283.3h0M81.7 279.6h0M92.8 283.4h0M92.6 283.4h0M96.3 285.3h0M75.2 275.6h0M86.0 281.2h0M94.5 285.4h0M85.0 280.4h0M90.0 278.5h0M97.9 283.0h0M76.2 278.0h0M87.0 277.7h0M89.7 283.2h0M93.6 280.3h0M90.4 280.7h0M95.9 284.8h0M91.9 283.0h0M91.0 284.2h0M88.0 282.8h0M87.1 283.4h0M80.4 275.3h0M84.8 278.7h0M96.5 283.9h0M91.3 274.8h0M89.4 283.0h0M83.7 279.2h0M100.2 284.2h0M78.8 278.6h0M83.0 281.2h0M93.2 278.4h0M83.9 282.1h0M82.4 277.1h0M90.8 280.7h0M94.8 284.9h0M82.6 281.4h0M95.1 284.6h0M83.7 280.4h0M92.7 274.9h0M75.4 275.2h0M91.9 285.2h0M88.4 281.6h0M90.8 284.0h0M87.9 277.3h0M94.2 284.5h0M91.2 283.7h0M83.7 279.8h0M76.5 276.4h0M86.6 282.9h0M84.5 282.3h0M93.3 278.3h0M93.6 282.2h0M77.9 275.2h0M99.6 284.4h0M81.0 280.3h0M76.6 274.5h0M85.7 282.2h0M97.6 282.2h0M80.6 280.5h0M98.1 284.8h0M96.4 284.4h0M89.7 275.4h0M90.1 284.6h0M90.1 283.3h0M90.7 282.3h0M91.6 283.5h0M91.2 285.1h0M100.9 284.4h0M87.5 280.4h0M85.1 281.3h0M92.6 279.1h0M80.2 278.0h0M96.3 284.9h0M92.1 277.7h0M89.0 277.7h0M93.8 284.1h0M95.9 284.7h0M77.4 275.9h0M86.7 281.7h0M86.8 278.9h0M90.5 283.7h0M82.7 279.6h0M81.2 279.3h0M92.9 283.5h0M88.4 277.5h0M91.4 282.5h0M91.9 284.9h0M101.1 283.9h0M95.6 283.0h0M92.2 284.9h0M87.7 283.8h0M83.6 281.0h0M93.0 282.3h0M95.1 285.1h0M84.2 282.3h0M96.4 285.3h0M96.8 284.1h0M91.2 275.8h0M93.3 282.2h0M94.2 282.5h0M80.4 274.8h0M91.2 284.8h0M78.9 275.7h0M90.8 283.3h0M83.7 278.9h0M91.1 282.3h0M90.4 278.2h0M97.4 285.1h0M96.8 283.5h0M93.1 273.7h0M89.0 279.4h0M78.5 276.5h0M78.0 278.2h0M77.2 274.6h0M92.0 284.6h0M83.2 281.0h0M92.4 285.2h0M86.9 281.0h0M95.7 285.4h0M93.3 281.1h0M86.0 281.4h0M86.0 282.8h0M91.3 275.3h0M91.9 283.4h0M91.3 285.2h0M84.0 281.1h0M93.0 278.9h0M86.1 280.7h0M95.7 284.0h0M77.5 275.2h0M90.6 284.8h0M87.7 274.5h0M77.9 272.7h0M97.0 285.1h0M91.9 282.9h0M99.3 285.3h0M93.5 281.2h0M86.5 283.2h0M86.8 283.3h0M74.4 273.3h0M93.0 274.7h0M89.2 284.2h0M81.4 280.3h0M83.9 277.0h0M100.5 285.0h0M89.8 276.3h0M92.5 280.8h0M83.2 279.1h0M93.6 284.0h0M84.3 279.0h0M87.6 277.0h0M88.0 282.9h0M79.9 275.1h0M82.5 281.3h0M88.2 273.8h0M97.8 285.3h0M92.7 282.3h0M97.2 284.6h0M91.4 280.8h0M92.6 282.6h0M81.8 278.2h0M80.8 279.2h0M94.4 284.8h0M96.8 284.8h0M80.7 280.5h0M90.3 279.9h0M94.2 283.8h0M76.4 277.3h0M86.8 280.7h0M84.7 280.2h0M93.2 277.3h0M96.3 284.3h0M91.9 284.6h0M84.0 277.2h0M94.1 280.8h0M83.8 281.7h0M92.0 278.4h0M92.1 278.4h0M91.0 283.3h0M94.1 284.9h0M95.1 284.8h0M93.9 282.6h0M94.1 281.9h0M98.9 283.6h0M89.0 283.3h0M75.7 277.1h0M83.6 281.8h0M93.0 285.2h0M81.7 279.2h0M85.2 281.8h0M94.5 281.5h0M92.2 283.2h0M90.4 282.8h0M97.1 283.4h0M97.7 284.8h0M82.5 279.4h0M92.0 281.9h0M93.4 283.1h0M97.5 285.4h0M74.7 273.4h0M89.0 275.7h0M76.9 277.6h0M80.6 279.8h0M98.0 282.3h0M75.2 276.0h0M80.9 280.3h0M88.9 282.1h0M90.7 280.5h0M76.0 277.6h0M79.0 277.5h0M94.4 276.6h0M89.1 281.2h0M75.6 274.9h0M84.0 276.9h0M99.2 284.4h0M81.0 277.1h0M78.3 275.7h0M76.0 277.6h0M87.2 278.8h0M85.1 282.3h0M91.2 276.1h0M90.7 278.6h0M94.0 284.6h0M83.2 280.2h0M84.3 280.0h0M76.5 275.0h0M99.3 285.4h0M85.9 281.4h0M82.9 280.2h0M96.9 284.6h0M98.3 284.4h0M94.0 279.7h0M74.4 272.6h0M84.2 274.7h0M82.7 279.8h0M83.6 279.2h0M94.0 280.8h0M88.9 284.2h0M98.7 282.2h0M76.0 277.4h0M97.8 284.1h0M88.6 283.9h0M84.9 279.0h0M86.5 280.6h0M81.9 279.5h0M89.0 282.1h0M80.6 278.5h0M93.0 284.2h0M92.5 284.6h0M96.3 281.1h0M90.1 284.7h0M93.0 283.1h0M93.4 284.1h0M74.0 274.8h0M85.1 282.7h0M79.5 278.5h0M96.1 285.0h0M94.5 284.6h0M89.8 279.8h0M96.0 284.5h0M85.0 281.9h0M89.9 284.5h0M93.7 282.2h0M89.1 282.6h0M80.0 279.0h0M87.3 275.8h0M95.8 285.2h0M90.9 283.7h0M94.9 283.2h0M74.0 275.4h0M96.5 283.7h0M79.3 278.3h0M93.9 283.4h0M97.0 283.6h0M90.2 284.6h0M94.7 281.2h0M93.2 278.8h0M91.4 283.8h0M91.6 272.4h0M90.3 282.5h0M75.3 276.3h0M83.3 281.3h0M87.2 279.5h0M91.7 284.1h0M85.7 277.8h0M73.4 274.8h0M94.3 285.2h0M92.0 281.1h0M97.6 283.9h0M89.4 277.2h0M86.1 281.3h0M89.4 284.5h0M90.9 285.2h0M88.2 282.7h0M87.5 283.7h0M93.8 283.2h0M89.4 280.9h0M97.5 281.3h0M90.7 282.8h0M89.2 283.9h0M99.6 284.0h0M95.6 284.2h0M95.9 284.7h0M78.1 279.0h0M80.7 280.3h0M76.4 273.7h0M93.2 283.3h0M96.2 283.4h0M98.5 283.3h0M92.2 283.2h0M92.1 283.2h0M93.3 285.2h0M94.1 284.6h0M83.0 278.8h0M92.2 281.2h0M91.8 285.4h0M91.6 281.5h0M94.3 285.4h0M92.2 284.6h0M75.3 276.2h0M79.4 275.8h0M93.3 284.1h0M98.4 284.6h0M78.9 279.6h0M85.3 280.6h0M79.9 278.9h0M91.5 279.9h0M75.0 275.8h0M93.2 285.4h0M82.6 279.8h0M91.7 283.6h0M86.3 276.6h0M99.9 283.8h0M79.8 279.9h0M93.1 281.2h0M95.5 284.4h0M80.1 276.2h0M75.9 275.2h0M86.2 277.2h0M90.2 282.4h0M90.8 282.9h0M92.6 285.3h0M97.9 284.4h0M90.6 283.8h0M83.3 278.2h0M97.7 285.1h0M96.9 284.4h0M77.9 271.0h0M89.7 282.2h0M90.1 284.3h0M90.0 281.4h0M93.4 284.6h0M82.4 280.6h0M84.6 281.5h0M90.8 277.9h0M90.3 282.0h0M73.3 272.9h0M98.7 285.1h0M75.0 276.5h0M84.8 280.8h0M100.3 285.2h0M97.0 284.2h0M89.2 281.7h0M94.4 284.6h0M91.9 280.0h0M96.7 281.6h0M91.2 280.2h0M86.8 281.7h0M96.9 284.3h0M90.2 281.2h0M96.3 282.6h0M75.5 277.6h0M91.6 279.5h0M86.9 282.6h0M79.4 276.1h0M91.7 284.6h0M87.6 279.3h0M91.6 277.0h0M93.5 285.2h0M95.2 282.8h0M102.2 284.4h0M91.8 283.0h0M95.7 284.7h0M81.8 279.3h0M93.9 284.5h0M92.4 285.3h0M78.7 278.2h0M90.1 283.5h0M82.1 278.5h0M72.5 274.4h0M95.9 284.4h0M77.7 278.8h0M95.1 284.6h0M93.9 284.3h0M89.7 283.4h0M90.3 278.0h0M86.0 282.9h0M95.6 285.4h0M86.4 282.3h0M80.0 276.1h0M94.5 279.1h0M94.5 282.4h0M79.9 278.7h0M84.2 278.7h0M95.0 281.3h0M84.9 282.0h0M89.3 283.4h0M87.4 283.8h0M83.8 277.6h0M88.2 283.8h0M98.1 283.5h0M98.7 285.2h0M89.5 283.8h0M89.0 281.0h0M89.5 282.0h0M86.5 275.4h0M83.6 278.9h0M94.1 283.5h0M85.1 277.4h0M98.3 285.1h0M93.9 285.2h0M91.6 282.6h0M89.4 282.3h0M90.3 275.4h0M75.2 274.6h0M88.7 284.3h0M97.6 285.3h0M93.9 284.3h0M86.1 283.2h0M94.4 274.9h0M88.1 282.3h0M99.7 283.2h0M85.9 279.4h0M91.6 282.3h0M83.9 279.4h0M84.4 282.1h0M89.6 284.2h0M85.2 273.6h0M82.6 281.2h0M88.7 278.4h0M80.5 277.8h0M92.6 279.7h0M82.3 276.8h0M80.7 277.5h0M94.2 280.1h0M95.3 285.3h0M82.6 281.4h0M90.8 278.6h0M83.2 280.8h0M85.6 274.8h0M85.3 279.6h0M78.9 278.7h0M82.1 281.3h0M94.6 285.0h0M97.4 285.4h0M88.2 282.9h0M100.4 284.9h0M92.9 275.2h0M86.9 279.2h0M88.6 283.0h0M94.6 277.7h0M87.7 283.2h0M87.4 281.7h0M88.1 283.9h0M78.2 278.0h0M86.7 283.1h0M81.9 278.3h0M75.5 276.5h0M84.2 281.8h0M98.1 284.3h0M80.6 275.0h0M90.0 281.5h0M87.3 279.2h0M86.3 283.3h0M92.9 282.1h0M79.3 277.2h0M99.9 285.4h0M73.3 276.0h0M82.8 275.3h0M72.4 274.4h0M90.5 282.5h0M93.4 284.8h0M88.7 281.9h0M92.9 280.6h0M89.9 281.7h0M99.0 284.1h0M78.7 277.9h0M84.7 279.1h0M82.6 281.4h0M83.2 280.5h0M89.2 283.4h0M80.7 273.3h0M92.8 282.8h0M76.8 273.9h0M87.6 276.2h0M89.1 283.5h0M96.4 284.1h0M94.2 285.3h0M88.5 279.1h0M87.2 282.7h0M81.9 279.8h0M96.8 283.4h0M90.1 275.9h0M88.6 281.1h0M84.9 280.1h0M96.0 283.7h0M80.4 273.9h0M85.5 281.5h0M93.3 283.0h0M85.5 282.6h0M95.8 280.2h0M93.6 284.8h0M96.9 281.4h0M80.6 278.3h0M95.1 278.7h0M84.7 277.4h0M83.9 280.7h0M84.2 282.0h0M98.5 284.9h0M82.8 281.6h0M92.1 285.2h0M84.4 279.5h0M98.0 285.2h0M89.2 284.5h0M97.5 284.1h0M77.1 278.6h0M88.3 282.7h0M87.1 282.8h0M93.6 284.1h0M91.9 283.7h0M98.5 283.8h0M94.2 277.4h0M92.2 284.2h0M95.3 282.6h0M95.1 284.4h0M94.2 285.1h0M92.6 282.6h0M97.0 285.2h0M88.9 278.8h0M81.7 278.6h0M79.2 279.0h0M96.1 283.7h0M84.3 280.7h0M88.8 281.4h0M89.6 280.2h0M80.8 279.5h0M96.6 280.5h0M87.9 279.9h0M98.2 284.0h0M101.7 285.3h0M85.0 281.7h0M75.2 276.1h0M89.5 280.6h0M97.0 282.0h0M80.4 279.1h0M96.7 281.8h0M77.5 275.3h0M92.3 279.3h0M85.7 279.4h0M89.0 282.7h0M84.1 281.4h0M86.2 266.1h0M73.4 269.3h0M77.9 269.9h0M86.5 263.6h0M88.3 266.3h0M78.9 269.9h0M82.3 271.0h0M80.4 269.2h0M90.0 262.6h0M77.0 264.1h0M75.1 270.6h0M84.1 266.9h0M86.4 271.8h0M72.8 263.0h0M72.8 262.5h0M90.1 270.6h0M81.6 269.5h0M83.7 269.9h0M86.9 270.8h0M82.1 265.9h0" stroke="#006400" stroke-width="1.70" stroke-linecap="round" fill="none"/>
<path d="M129.9 282.7h0M129.9 277.5h0M120.7 283.1h0M130.0 280.3h0M140.4 277.2h0M132.8 276.5h0M123.6 284.6h0M141.9 272.2h0M127.7 280.5h0M131.7 278.6h0M130.6 284.0h0M128.9 281.7h0M133.0 282.9h0M154.7 269.4h0M127.6 283.6h0M136.0 280.4h0M123.4 282.2h0M121.3 285.0h0M131.3 282.3h0M139.5 272.9h0M125.9 280.3h0M127.0 284.4h0M137.1 276.7h0M144.3 275.5h0M124.5 284.0h0M121.0 284.9h0M128.7 280.8h0M138.4 272.2h0M151.7 269.3h0M140.3 276.6h0M141.6 275.1h0M121.5 284.6h0M127.3 285.2h0M129.6 281.3h0M118.6 285.2h0M136.3 280.8h0M126.2 276.9h0M125.1 282.5h0M130.0 276.3h0M124.7 278.6h0M129.4 283.8h0M143.2 276.4h0M136.2 278.5h0M148.6 272.9h0M120.4 285.2h0M142.2 275.4h0M129.0 282.4h0M129.8 278.0h0M125.2 284.2h0M134.3 280.3h0M128.0 284.4h0M138.6 280.0h0M131.0 283.2h0M131.5 277.3h0M123.1 285.3h0M132.0 282.7h0M136.8 279.2h0M140.4 277.8h0M121.1 285.3h0M150.0 271.8h0M128.7 281.3h0M130.7 280.6h0M138.2 274.5h0M128.2 282.1h0M138.4 278.3h0M127.6 281.8h0M134.8 281.9h0M129.1 283.8h0M121.4 283.2h0M135.8 280.9h0M121.8 284.9h0M129.6 274.1h0M127.2 284.0h0M132.5 272.9h0M143.6 272.4h0M131.4 281.5h0M151.4 270.5h0M129.4 282.0h0M132.9 282.3h0M134.6 280.5h0M127.6 283.1h0M137.9 277.5h0M123.6 283.1h0M140.3 278.5h0M123.4 284.9h0M123.0 282.6h0M132.1 281.4h0M133.4 278.4h0M123.1 283.1h0M125.4 283.1h0M133.1 281.2h0M132.7 280.8h0M126.7 283.0h0M150.2 272.6h0M137.7 279.8h0M125.6 284.9h0M128.5 284.6h0M120.9 285.3h0M131.0 281.3h0M127.6 281.7h0M133.5 278.2h0M139.9 278.1h0M134.4 281.4h0M146.6 273.4h0M149.6 272.5h0M142.4 277.7h0M124.7 283.6h0M128.7 277.6h0M141.2 277.6h0M135.5 279.3h0M127.6 279.6h0M147.0 271.8h0M150.5 272.6h0M145.2 275.0h0M142.2 274.4h0M143.6 275.3h0M126.4 283.7h0M122.6 280.7h0M130.3 274.8h0M133.1 282.7h0M127.9 282.9h0M124.0 285.0h0M135.3 281.6h0M142.0 276.2h0M121.4 284.3h0M122.4 284.0h0M122.8 283.3h0M121.8 283.0h0M138.5 277.9h0M127.3 282.9h0M131.6 280.5h0M133.2 281.9h0M123.7 285.4h0M120.5 285.3h0M127.6 283.5h0M141.8 272.7h0M127.6 283.5h0M145.3 275.8h0M144.6 274.5h0M126.6 278.6h0M155.0 269.0h0M124.6 284.1h0M122.7 284.9h0M151.2 270.9h0M126.3 285.0h0M136.1 278.7h0M141.1 277.4h0M121.9 283.8h0M121.3 284.2h0M124.6 281.7h0M126.4 283.5h0M137.6 272.5h0M127.4 282.8h0M138.2 279.5h0M128.1 273.1h0M124.5 278.9h0M131.5 282.4h0M138.4 277.9h0M131.0 278.6h0M134.0 281.2h0M135.2 281.4h0M139.7 277.5h0M123.2 283.9h0M152.6 269.5h0M130.8 279.2h0M124.7 278.5h0M129.9 276.2h0M146.4 274.6h0M129.6 284.0h0M142.5 275.3h0M121.1 284.9h0M149.8 272.7h0M135.5 280.7h0M126.8 283.1h0M124.0 283.7h0M129.5 281.7h0M149.9 271.8h0M133.1 280.7h0M126.8 283.8h0M131.3 283.6h0M128.8 282.0h0M149.7 272.3h0M153.0 270.0h0M150.2 272.8h0M124.7 284.3h0M133.4 282.0h0M144.6 276.6h0M145.4 273.1h0M139.9 279.5h0M142.7 276.4h0M136.9 275.1h0M127.2 285.4h0M130.3 281.8h0M149.6 272.9h0M127.7 277.0h0M144.2 272.4h0M124.8 284.4h0M132.0 283.5h0M130.3 282.6h0M139.8 277.0h0M142.7 275.6h0M123.6 284.5h0M123.0 283.4h0M127.5 279.5h0M145.2 271.1h0M132.9 280.7h0M137.0 280.5h0M150.5 272.2h0M147.3 270.6h0M135.5 281.5h0M132.4 282.8h0M122.7 285.3h0M121.8 282.6h0M145.4 274.0h0M149.6 271.0h0M130.8 277.1h0M131.9 282.2h0M132.3 282.3h0M129.1 277.5h0M126.3 280.0h0M125.8 282.2h0M144.1 277.0h0M128.1 283.6h0M150.5 272.1h0M124.0 283.4h0M136.6 280.8h0M133.3 280.2h0M144.2 274.3h0M147.8 273.9h0M129.4 284.3h0M132.7 277.2h0M139.7 278.5h0M124.6 284.5h0M137.9 280.1h0M139.6 279.7h0M154.4 269.5h0M140.5 276.8h0M142.4 277.0h0M135.0 278.8h0M127.4 283.6h0M127.4 284.2h0M128.4 283.5h0M122.9 284.8h0M149.5 272.9h0M134.2 275.5h0M121.0 284.3h0M124.8 284.9h0M124.0 282.8h0M133.5 282.3h0M144.5 273.7h0M134.0 276.1h0M126.7 285.2h0M142.9 274.2h0M147.5 273.7h0M136.9 281.0h0M131.5 280.5h0M137.5 279.0h0M134.9 280.6h0M128.4 284.6h0M124.3 278.6h0M147.5 273.6h0M120.6 283.6h0M137.9 278.2h0M139.5 278.7h0M128.3 281.9h0M130.1 282.1h0M154.7 268.2h0M141.0 278.9h0M147.7 272.1h0M131.3 282.2h0M128.7 283.2h0M127.0 283.6h0M141.2 277.1h0M136.8 274.0h0M128.2 281.0h0M139.2 279.5h0M149.7 273.2h0M141.3 275.7h0M127.5 276.4h0M133.6 282.1h0M122.2 284.8h0M142.5 275.1h0M145.4 273.9h0M151.4 271.6h0M137.5 280.5h0M141.3 277.2h0M131.4 283.7h0M128.1 277.8h0M122.3 284.3h0M134.7 276.3h0M135.2 278.7h0M140.3 279.1h0M146.7 273.5h0M135.0 278.4h0M139.7 278.5h0M140.2 279.2h0M142.2 272.8h0M134.8 281.8h0M133.1 282.3h0M152.1 271.3h0M131.2 280.6h0M140.3 279.1h0M134.9 281.9h0M134.4 279.9h0M135.5 277.3h0M132.2 280.6h0M134.8 282.0h0M134.1 282.3h0M133.0 281.4h0M151.3 272.0h0M134.1 282.3h0M130.5 274.4h0M148.5 273.8h0M150.1 272.1h0M134.4 276.1h0M126.6 284.6h0M151.3 270.9h0M132.9 280.0h0M124.0 285.0h0M121.6 281.7h0M127.9 281.7h0M127.0 283.5h0M127.8 279.5h0M130.5 279.2h0M138.1 279.8h0M125.0 283.3h0M126.6 275.9h0M123.7 284.1h0M126.7 284.7h0M127.5 274.9h0M121.1 284.9h0M130.0 283.6h0M140.7 277.2h0M131.4 280.2h0M128.8 282.9h0M147.9 274.2h0M133.0 283.1h0M123.0 280.6h0M142.3 277.0h0M154.9 268.7h0M135.0 281.9h0M137.9 277.2h0M122.4 277.4h0M123.8 284.1h0M146.6 272.6h0M124.6 285.0h0M134.0 281.0h0M117.6 284.8h0M124.9 283.1h0M122.5 282.8h0M126.4 283.5h0M130.9 282.2h0M122.8 284.7h0M143.2 274.3h0M122.1 283.9h0M153.4 270.3h0M125.8 284.7h0M136.5 280.7h0M130.6 280.9h0M149.7 273.0h0M141.3 277.5h0M120.8 284.8h0M136.3 281.5h0M125.8 284.2h0M144.1 270.2h0M127.6 279.2h0M142.7 277.4h0M147.0 273.6h0M134.3 282.4h0M135.7 278.6h0M128.4 283.4h0M133.4 273.7h0M133.7 281.1h0M134.4 281.3h0M128.4 283.3h0M136.8 281.1h0M130.3 278.3h0M124.7 280.3h0M138.7 279.1h0M122.4 282.9h0M132.8 278.6h0M125.7 284.5h0M126.7 282.0h0M138.1 277.3h0M124.1 285.4h0M137.5 279.9h0M139.1 272.6h0M131.0 281.6h0M126.3 285.0h0M129.4 284.5h0M134.0 282.3h0M130.2 279.6h0M134.8 278.0h0M118.9 284.9h0M144.6 275.6h0M129.4 281.2h0M137.3 277.1h0M140.0 274.6h0M144.7 273.1h0M123.9 284.3h0M148.4 273.1h0M135.0 279.1h0M154.9 268.6h0M138.5 278.7h0M128.7 284.1h0M128.2 284.1h0M131.6 283.1h0M155.1 268.6h0M136.5 279.0h0M140.2 278.1h0M126.5 282.1h0M128.8 278.4h0M130.0 279.7h0M134.4 282.0h0M130.5 276.3h0M133.6 282.0h0M125.6 284.7h0M129.5 280.3h0M141.3 278.2h0M133.0 277.0h0M129.3 276.8h0M136.4 281.0h0M119.4 283.1h0M134.1 273.7h0M129.2 282.3h0M148.7 272.7h0M150.4 272.5h0M127.3 280.7h0M133.8 276.0h0M135.5 276.9h0M124.6 284.6h0M143.8 271.8h0M138.9 274.1h0M139.3 272.6h0M122.0 284.0h0M125.3 284.5h0M124.3 283.8h0M136.2 278.5h0M127.3 284.3h0M146.3 275.0h0M128.6 284.3h0M142.2 274.0h0M127.6 282.0h0M150.9 271.6h0M126.9 285.1h0M124.6 283.5h0M150.9 268.2h0M128.3 277.4h0M129.0 283.9h0M132.8 282.5h0M135.0 281.3h0M131.2 283.3h0M154.9 268.9h0M135.9 279.6h0M133.3 282.8h0M122.4 285.2h0M119.1 284.3h0M130.5 284.1h0M136.6 280.2h0M126.8 283.6h0M141.1 277.1h0M143.0 274.7h0M131.6 282.3h0M135.0 281.6h0M119.5 284.8h0M152.4 270.2h0M134.6 273.4h0M121.3 284.5h0M131.9 282.8h0M150.6 272.5h0M145.3 275.2h0M125.6 285.0h0M131.7 283.6h0M130.0 276.8h0M142.9 275.9h0M147.7 273.7h0M148.6 272.8h0M131.0 283.6h0M140.5 272.6h0M138.5 276.7h0M129.8 283.4h0M131.2 274.0h0M132.3 280.4h0M128.1 281.2h0M142.9 277.5h0M143.2 274.5h0M123.4 281.4h0M126.6 277.1h0M127.0 285.3h0M122.5 284.8h0M120.9 282.9h0M150.9 271.8h0M130.8 283.3h0M142.0 276.8h0M150.7 269.6h0M137.3 278.2h0M130.5 279.5h0M138.7 279.9h0M145.7 274.4h0M136.0 281.0h0M147.3 274.5h0M129.5 283.0h0M130.2 283.6h0M129.5 281.5h0M124.3 283.5h0M141.3 275.7h0M129.5 283.1h0M132.4 278.6h0M128.5 278.3h0M136.9 280.4h0M126.6 283.7h0M128.6 281.3h0M125.9 284.1h0M147.7 270.9h0M123.8 282.1h0M136.3 278.5h0M131.4 274.6h0M133.4 271.2h0M127.5 282.8h0M122.4 285.0h0M136.1 280.4h0M121.9 282.9h0M126.8 284.5h0M135.5 281.5h0M126.4 285.1h0M133.7 282.8h0M132.4 282.2h0M120.6 284.1h0M154.3 269.4h0M129.4 279.6h0M132.5 281.7h0M125.7 284.6h0M151.4 270.0h0M127.7 285.1h0M127.2 282.7h0M132.1 278.8h0M121.5 282.5h0M125.4 277.9h0M137.8 278.7h0M122.8 285.2h0M148.9 273.3h0M130.6 282.6h0M123.1 284.6h0M137.4 279.1h0M135.1 279.9h0M128.2 278.8h0M124.8 283.9h0M138.3 276.7h0M144.3 273.5h0M132.4 282.6h0M146.9 274.3h0M136.1 281.5h0M123.4 282.3h0M138.3 279.0h0M131.1 278.5h0M137.4 279.7h0M125.2 285.4h0M133.8 282.1h0M124.3 285.4h0M126.2 282.2h0M154.4 268.9h0M150.6 270.7h0M124.2 280.6h0M137.3 280.1h0M143.9 274.4h0M148.8 269.9h0M124.0 284.7h0M136.9 273.7h0M125.5 285.0h0M123.0 282.7h0M136.5 277.7h0M126.2 282.0h0M140.8 273.4h0M144.8 275.5h0M139.0 279.7h0M144.1 276.0h0M124.2 284.3h0M122.1 285.1h0M134.0 276.5h0M132.6 281.8h0M143.7 274.6h0M139.3 278.5h0M142.6 277.6h0M128.6 278.8h0M127.3 283.0h0M134.2 281.0h0M139.4 276.9h0M136.7 278.7h0M128.8 282.0h0M135.8 280.7h0M141.6 275.3h0M136.8 279.8h0M130.6 282.5h0M127.0 285.3h0M133.6 273.0h0M139.2 275.8h0M135.5 280.7h0M134.4 281.1h0M119.3 284.2h0M137.3 275.9h0M122.4 283.9h0M128.6 277.9h0M152.6 271.1h0M152.8 269.6h0M137.3 275.7h0M132.8 282.8h0M133.5 275.8h0M133.2 282.2h0M137.3 278.1h0M147.1 273.5h0M153.3 269.6h0M122.0 282.6h0M141.0 277.6h0M148.6 273.9h0M126.2 282.6h0M137.2 274.3h0M122.4 283.9h0M150.7 272.6h0M127.3 285.4h0M134.7 277.7h0M124.3 283.6h0M140.7 277.0h0M139.4 276.2h0M131.8 280.6h0M134.8 282.1h0M121.5 284.4h0M137.2 279.2h0M124.2 282.7h0M145.9 274.0h0M124.8 284.4h0M137.9 273.3h0M141.8 276.8h0M146.3 274.7h0M151.1 271.0h0M131.2 281.8h0M140.2 278.7h0M145.8 274.6h0M144.1 274.4h0M125.3 284.9h0M135.5 281.4h0M129.7 279.2h0M148.1 274.3h0M125.0 284.2h0M136.6 279.9h0M136.6 273.6h0M119.0 285.3h0M138.7 278.5h0M118.9 284.7h0M123.8 283.7h0M121.1 283.8h0M128.3 280.1h0M129.8 280.5h0M147.3 272.6h0M126.7 281.7h0M125.4 285.3h0M129.6 282.2h0M124.8 275.4h0M134.2 270.1h0M119.4 284.8h0M124.8 284.1h0M152.7 269.7h0M129.7 280.4h0M121.5 285.0h0M137.2 278.5h0M127.7 279.6h0M131.3 279.5h0M144.2 276.0h0M128.1 283.4h0M134.8 281.2h0M141.2 275.5h0M123.2 285.3h0M139.0 276.8h0M151.0 269.4h0M131.3 281.1h0M137.2 280.2h0M132.1 283.4h0M142.5 276.7h0M137.0 276.7h0M137.7 276.8h0M128.3 284.6h0M137.9 280.6h0M121.0 284.2h0M135.8 275.1h0M136.1 279.7h0M136.0 280.8h0M135.1 280.9h0M131.2 283.5h0M139.0 274.3h0M144.5 275.6h0M149.1 273.1h0M125.5 280.9h0M149.9 272.0h0M141.1 276.2h0M132.4 280.3h0M132.5 280.9h0M138.3 279.9h0M138.0 275.4h0M149.1 272.8h0M128.2 281.6h0M147.7 273.3h0M137.5 277.2h0M128.7 283.8h0M125.0 282.9h0M141.2 276.8h0M125.6 283.5h0M127.7 277.0h0M140.0 276.5h0M145.9 275.6h0M122.4 284.6h0M135.8 277.4h0M149.9 271.3h0M141.6 275.9h0M145.1 273.8h0M138.7 276.3h0M152.1 271.5h0M123.9 282.2h0M144.5 274.0h0M120.9 283.1h0M141.6 277.6h0M124.6 285.2h0M134.2 278.9h0M127.5 284.8h0M145.1 275.3h0M132.1 278.8h0M137.6 278.7h0M131.1 276.4h0M131.1 282.6h0M135.9 281.0h0M119.1 284.4h0M122.7 281.9h0M134.9 281.6h0M149.9 273.1h0M140.6 277.3h0M130.6 274.3h0M140.7 277.3h0M141.0 275.5h0M142.4 277.6h0M143.3 277.5h0M127.2 282.9h0M122.7 285.2h0M132.3 283.1h0M138.4 275.0h0M129.2 281.4h0M127.9 282.1h0M130.1 282.4h0M148.7 273.3h0M131.0 280.5h0M125.0 281.2h0M129.3 278.1h0M125.2 284.4h0M142.9 276.1h0M143.3 276.5h0M151.4 270.0h0M134.4 274.4h0M132.4 281.4h0M120.9 282.3h0M132.2 282.8h0M149.1 271.8h0M126.9 281.0h0M123.1 281.8h0M139.1 279.5h0M131.6 277.4h0M128.8 276.2h0M125.3 280.0h0M134.4 272.8h0M132.7 280.7h0M153.6 270.1h0M125.0 282.2h0M142.0 274.9h0M122.9 281.7h0M130.7 282.5h0M131.0 283.7h0M122.3 283.8h0M124.5 282.6h0M119.2 284.6h0M144.5 274.5h0M144.1 275.5h0M122.2 283.3h0M135.5 281.7h0M133.6 281.8h0M131.0 279.9h0M121.6 283.2h0M138.7 279.7h0M147.2 272.7h0M148.4 273.6h0M122.2 279.7h0M139.9 277.0h0M144.4 275.8h0M148.9 273.7h0M134.4 275.1h0M139.8 279.0h0M146.3 274.3h0M132.9 277.5h0M137.7 280.0h0M131.6 280.8h0M147.0 273.8h0M149.8 271.7h0M154.5 269.3h0M136.2 278.6h0M150.6 271.3h0M130.5 279.4h0M125.0 284.1h0M135.0 277.5h0M125.3 280.4h0M136.8 276.3h0M124.2 283.1h0M140.1 279.3h0M136.3 279.5h0M120.0 285.4h0M146.2 273.8h0M143.2 274.0h0M127.5 284.1h0M140.5 275.6h0M142.6 275.3h0M134.4 280.6h0M146.7 274.7h0M153.6 270.2h0M127.0 280.4h0M130.8 282.1h0M151.1 271.6h0M141.4 274.6h0M129.5 280.4h0M133.8 278.7h0M131.4 279.8h0M130.7 280.5h0M135.2 280.0h0M147.5 272.8h0M135.1 278.1h0M136.5 278.0h0M128.7 282.7h0M127.6 284.3h0M127.9 284.3h0M149.4 273.5h0M144.6 275.6h0M132.1 279.9h0M123.9 280.7h0M122.2 283.0h0M152.7 270.8h0M122.2 285.4h0M136.9 280.2h0M153.1 269.5h0M143.0 270.8h0M118.4 284.8h0M129.3 281.0h0M136.5 281.2h0M131.3 283.2h0M137.2 281.0h0M128.9 281.5h0M131.5 280.8h0M135.6 278.5h0M146.6 275.4h0M141.4 277.4h0M127.7 281.0h0M137.0 274.8h0M139.5 275.3h0M130.8 271.5h0M137.3 278.0h0M125.7 282.9h0M127.7 276.1h0M128.5 280.7h0M134.6 270.4h0M136.2 280.1h0M143.2 277.4h0M129.0 284.0h0M126.0 276.4h0M132.0 282.5h0M121.0 285.0h0M131.4 282.9h0M140.3 277.2h0M127.4 283.3h0M141.7 276.4h0M120.4 284.0h0M126.6 280.1h0M128.9 284.7h0M133.7 280.5h0M124.7 285.2h0M128.6 284.6h0M144.8 276.5h0M129.6 283.2h0M139.8 275.8h0M147.3 274.9h0M137.7 279.1h0M128.2 280.0h0M132.2 281.1h0M144.3 273.5h0M128.1 278.9h0M149.3 272.0h0M127.2 285.3h0M125.3 285.2h0M130.9 270.6h0M125.7 284.1h0M141.8 278.5h0M120.6 284.0h0M132.1 282.7h0M129.7 282.0h0M133.8 281.4h0M146.7 274.4h0M151.2 271.0h0M126.5 284.1h0M141.9 277.1h0M121.3 282.5h0M131.8 281.6h0M125.7 281.4h0M127.6 284.7h0M141.5 276.7h0M139.7 279.5h0M134.4 277.7h0M154.0 269.9h0M145.8 273.2h0M128.7 281.4h0M143.8 274.6h0M129.8 280.0h0M124.9 285.2h0M129.1 277.6h0M131.5 280.5h0M136.0 277.6h0M131.4 280.7h0M134.8 273.2h0M136.4 281.0h0M136.0 278.0h0M135.3 281.9h0M140.3 277.8h0M127.1 283.9h0M125.1 283.9h0M144.3 276.0h0M141.0 275.5h0M146.0 273.5h0M137.1 276.7h0M132.9 276.4h0M137.6 280.8h0M124.1 281.0h0M139.2 279.9h0M127.0 284.4h0M145.2 272.9h0M150.6 271.6h0M144.3 276.9h0M125.1 281.9h0M125.8 284.2h0M132.6 276.8h0M150.4 271.2h0M145.7 273.4h0M126.2 285.0h0M137.0 279.5h0M140.0 273.9h0M129.2 282.1h0M137.3 280.5h0M136.5 278.9h0M142.7 277.6h0M130.9 279.5h0M130.0 283.2h0M128.1 282.9h0M148.8 271.9h0M132.1 281.6h0M154.4 269.5h0M133.4 282.2h0M130.0 283.9h0M131.0 283.6h0M125.8 285.0h0M131.7 283.0h0M124.0 285.0h0M145.3 275.7h0M128.3 281.5h0M126.8 282.6h0M135.4 280.4h0M142.7 276.4h0M134.3 282.4h0M134.4 276.3h0M131.1 283.9h0M134.0 272.4h0M141.2 275.0h0M139.1 276.8h0M132.9 282.0h0M154.0 268.6h0M138.8 277.4h0M132.1 280.2h0M133.7 282.6h0M142.1 276.6h0M125.3 284.9h0M121.8 282.8h0M127.8 277.9h0M140.8 278.7h0M132.7 278.6h0M152.4 270.0h0M134.2 280.0h0M127.3 284.6h0M137.9 278.2h0M140.4 277.3h0M120.0 285.1h0M134.8 279.4h0M134.0 277.1h0M141.7 276.8h0M149.3 273.4h0M137.1 276.9h0M120.6 283.6h0M126.8 284.2h0M136.9 275.3h0M129.2 282.3h0M118.2 285.4h0M135.7 281.7h0M152.7 270.6h0M139.1 277.7h0M127.8 281.6h0M123.3 284.5h0M126.6 282.5h0M145.8 270.6h0M129.1 278.9h0M127.4 284.9h0M132.3 282.8h0M135.1 279.3h0M145.7 273.9h0M135.3 280.4h0M135.8 280.4h0M150.9 272.0h0M125.9 280.4h0M126.7 283.6h0M146.2 274.5h0M128.4 272.7h0M124.9 284.2h0M130.2 282.5h0M131.7 279.2h0M128.4 276.9h0M119.5 284.5h0M132.9 278.3h0M125.8 275.0h0M145.9 271.7h0M127.1 282.5h0M130.6 281.6h0M132.9 282.0h0M136.9 275.4h0M141.4 275.8h0M119.9 285.3h0M145.7 273.5h0M127.7 285.2h0M134.5 278.4h0M134.4 279.4h0M128.9 284.4h0M149.8 272.8h0M145.6 273.4h0M122.1 284.6h0M141.0 278.9h0M131.7 283.0h0M140.2 277.7h0M119.2 285.3h0M130.2 274.5h0M154.0 269.0h0M141.0 277.7h0M122.9 284.0h0M123.6 284.0h0M142.3 278.2h0M152.1 270.8h0M128.8 277.1h0M135.1 273.5h0M126.2 283.5h0M148.6 273.7h0M120.8 284.5h0M128.2 283.2h0M138.2 279.8h0M122.7 285.0h0M125.3 284.3h0M131.0 270.8h0M138.5 276.5h0M123.8 282.3h0M134.8 279.1h0M154.5 269.6h0M128.2 284.9h0M130.9 275.2h0M145.9 274.8h0M126.1 285.3h0M152.7 270.6h0M126.7 275.0h0M137.5 276.7h0M145.2 272.5h0M128.7 284.1h0M126.9 284.0h0M121.5 283.4h0M119.7 284.7h0M125.6 283.1h0M124.6 280.1h0M125.3 283.7h0M140.5 277.2h0M142.0 271.6h0M155.0 268.8h0M135.8 276.7h0M130.5 283.0h0M128.5 280.5h0M134.3 273.2h0M124.7 283.5h0M125.7 281.9h0M132.4 283.3h0M130.1 281.0h0M125.2 285.4h0M135.9 281.6h0M140.2 274.3h0M151.1 272.3h0M133.4 273.5h0M133.6 280.2h0M136.6 278.1h0M124.5 284.6h0M126.9 285.1h0M134.6 282.1h0M140.8 278.9h0M128.5 276.2h0M133.8 280.4h0M127.5 284.8h0M136.8 276.3h0M131.6 281.6h0M118.7 283.8h0M132.5 282.0h0M141.3 274.5h0M124.3 284.2h0M127.3 285.3h0M127.3 285.3h0M123.4 284.4h0M153.7 270.1h0M151.4 271.5h0M132.4 279.4h0M133.8 281.5h0M127.5 283.0h0M138.7 278.7h0M124.1 284.4h0M134.2 276.2h0M135.4 278.5h0M127.8 283.3h0M132.0 282.6h0M125.9 285.4h0M135.4 278.1h0M137.1 279.8h0M146.2 275.2h0M122.0 282.1h0M145.8 274.9h0M139.8 279.2h0M133.6 276.3h0M139.2 273.8h0M130.6 275.5h0M122.0 285.1h0M135.4 280.2h0M139.8 274.0h0M122.6 285.0h0M147.7 272.3h0M126.8 283.6h0M134.8 281.3h0M125.3 283.4h0M143.1 276.9h0M154.4 268.7h0M121.6 284.7h0M123.6 283.2h0M137.4 280.4h0M143.7 275.7h0M123.7 281.1h0M149.1 273.0h0M139.5 278.7h0M127.8 282.2h0M134.0 282.0h0M133.6 282.5h0M125.3 284.7h0M133.4 256.2h0M159.4 263.0h0M153.1 265.4h0M137.6 261.1h0M152.7 271.0h0M140.9 256.4h0M130.1 267.2h0M148.0 266.9h0M160.3 264.1h0M149.1 270.5h0M157.7 262.3h0M133.3 258.1h0M143.7 262.7h0M136.8 255.8h0M158.6 253.7h0M131.7 264.7h0M127.5 270.6h0M144.7 255.0h0M140.7 269.1h0M133.8 263.6h0M157.9 265.3h0M136.4 256.5h0M134.6 259.3h0M149.5 264.3h0M159.6 255.6h0M140.8 261.1h0M152.3 262.2h0M128.5 266.4h0M155.2 255.9h0M144.9 266.5h0M148.6 260.8h0M142.4 267.2h0M127.2 268.4h0M139.7 264.2h0M132.1 259.7h0M132.7 263.8h0M154.8 263.6h0M138.4 270.6h0M154.6 269.3h0M152.5 257.1h0M150.2 265.6h0M142.8 254.1h0M128.9 268.2h0M154.3 269.2h0M127.5 267.3h0M139.6 267.7h0M156.7 260.5h0M152.2 271.0h0M146.3 256.2h0M148.0 269.6h0M158.3 263.2h0M152.8 266.0h0M145.0 264.2h0M139.2 255.2h0M130.4 260.2h0M154.8 265.4h0M153.5 266.3h0M148.5 259.9h0M156.9 264.6h0M127.6 270.4h0M130.1 259.7h0M147.0 259.7h0M160.5 261.3h0M158.2 265.1h0M148.3 264.8h0M130.2 267.4h0M145.2 268.0h0M147.5 263.3h0M153.1 269.3h0M159.9 263.2h0M152.9 263.5h0M144.0 266.3h0M152.1 266.3h0M138.6 261.5h0M142.4 270.7h0M144.7 259.6h0M139.1 254.6h0M159.9 254.9h0M136.3 256.5h0M148.5 271.0h0M134.5 267.9h0M160.4 264.1h0M138.4 270.4h0M147.1 269.7h0M158.2 266.3h0M149.8 255.3h0M146.3 263.0h0M129.2 269.1h0M140.9 268.8h0M141.6 271.2h0M150.2 271.1h0M143.0 261.9h0M135.8 265.1h0M144.6 267.8h0M139.4 265.3h0M154.3 265.8h0M142.4 260.7h0M142.0 263.8h0M150.7 266.1h0M144.8 271.2h0M141.3 263.9h0M129.4 262.5h0M142.2 268.7h0M155.9 265.2h0M159.5 257.4h0M155.5 267.6h0M130.2 265.2h0M156.6 260.7h0M143.4 258.7h0M150.1 256.2h0M147.8 257.5h0M143.4 269.5h0M133.8 259.1h0M138.8 262.9h0M138.5 266.3h0M152.7 270.8h0M131.7 263.2h0M128.9 268.4h0M155.4 259.7h0M149.0 263.0h0M145.7 270.1h0M131.6 261.1h0M130.9 270.3h0M149.2 270.1h0M131.8 261.6h0M155.6 255.4h0M132.3 260.4h0M147.7 255.0h0M134.6 270.0h0M137.2 270.6h0M137.6 265.2h0M127.4 270.3h0M140.8 268.3h0M155.9 267.0h0M143.5 268.1h0M133.1 259.9h0M144.2 266.4h0M158.3 261.6h0M142.4 269.9h0M143.0 262.2h0M152.7 260.8h0M128.9 269.1h0M137.2 263.9h0M140.0 268.7h0M137.0 270.6h0M145.2 269.8h0M153.0 270.8h0M140.5 256.0h0M153.2 254.6h0M141.6 269.8h0" stroke="#ff0000" stroke-width="1.70" stroke-linecap="round" fill="none"/>
<path d="M238.7 33.3h0M203.7 130.6h0M173.6 153.0h0M177.2 188.4h0M187.5 194.3h0M206.7 186.6h0M186.0 200.8h0M185.8 201.6h0M150.0 223.9h0M159.9 221.8h0M150.6 228.0h0M185.3 222.3h0M179.6 226.0h0M185.3 227.4h0M174.4 232.8h0M164.1 238.4h0M167.2 239.8h0M162.0 240.4h0M149.2 241.9h0M169.2 246.0h0M144.0 249.7h0M148.2 250.8h0M156.8 252.4h0M164.7 250.3h0M168.8 255.9h0M164.7 255.9h0M158.9 257.0h0M154.8 257.0h0M164.7 262.1h0M161.9 240.7h0M164.3 238.2h0M167.6 239.9h0M169.2 246.4h0M165.1 256.1h0M159.5 257.7h0M163.5 261.8h0M158.6 263.4h0M153.0 256.9h0" stroke="#d0203c" stroke-width="1.7" stroke-linecap="round" fill="none"/>
<path d="M53.4 218.8h0M69.7 224.6h0M49.2 238.0h0M71.6 238.9h0M60.1 249.5h0M52.5 255.2h0M68.8 256.4h0M75.5 253.9h0M58.2 263.1h0M77.4 258.3h0M81.2 258.1h0M76.4 266.7h0" stroke="#0e4e0e" stroke-width="1.7" stroke-linecap="round" fill="none"/>
<line x1="39.9" y1="285.4" x2="247.6" y2="285.4" stroke="#dc2040" stroke-width="1.1" stroke-dasharray="2.4 1.7"/>
<line x1="39.9" y1="21.0" x2="247.6" y2="21.0" stroke="#8a8a8a" stroke-width="1.8"/>
<line x1="247.6" y1="20.2" x2="247.6" y2="303.2" stroke="#4a4a4a" stroke-width="1.5"/>
<line x1="39.9" y1="20.2" x2="39.9" y2="302.4" stroke="#a4a4a4" stroke-width="2.2"/>
<line x1="38.9" y1="302.4" x2="248.29999999999998" y2="302.4" stroke="#3a3a3a" stroke-width="1.6"/>
<line x1="41.7" y1="302.4" x2="41.7" y2="304.9" stroke="#333" stroke-width="1.1"/>
<text x="40.7" y="318.0" text-anchor="middle" class="tk">-4</text>
<line x1="109.6" y1="302.4" x2="109.6" y2="304.9" stroke="#333" stroke-width="1.1"/>
<text x="109.3" y="318.0" text-anchor="middle" class="tk">0</text>
<line x1="177.5" y1="302.4" x2="177.5" y2="304.9" stroke="#333" stroke-width="1.1"/>
<text x="177.2" y="318.0" text-anchor="middle" class="tk">4</text>
<line x1="245.4" y1="302.4" x2="245.4" y2="304.9" stroke="#333" stroke-width="1.1"/>
<text x="245.1" y="318.0" text-anchor="middle" class="tk">8</text>
<line x1="37.4" y1="289.6" x2="39.9" y2="289.6" stroke="#333" stroke-width="1.1"/>
<text x="33.3" y="293.6" text-anchor="end" class="tk">0</text>
<line x1="37.4" y1="225.5" x2="39.9" y2="225.5" stroke="#333" stroke-width="1.1"/>
<text x="33.3" y="229.5" text-anchor="end" class="tk">20</text>
<line x1="37.4" y1="161.4" x2="39.9" y2="161.4" stroke="#333" stroke-width="1.1"/>
<text x="33.3" y="165.4" text-anchor="end" class="tk">40</text>
<line x1="37.4" y1="97.4" x2="39.9" y2="97.4" stroke="#333" stroke-width="1.1"/>
<text x="33.3" y="101.4" text-anchor="end" class="tk">60</text>
<line x1="37.4" y1="33.3" x2="39.9" y2="33.3" stroke="#333" stroke-width="1.1"/>
<text x="33.3" y="37.3" text-anchor="end" class="tk">80</text>
<rect x="196.2" y="24.0" width="41.4" height="15.3" fill="#fff"/>
<rect x="150.0" y="144.7" width="21.6" height="15.3" fill="#fff"/>
<rect x="148.2" y="179.5" width="26.3" height="15.3" fill="#fff"/>
<rect x="206.7" y="176.6" width="60.9" height="15.3" fill="#fff"/>
<rect x="188.3" y="187.5" width="31.9" height="15.3" fill="#fff"/>
<rect x="135.3" y="202.8" width="50.5" height="15.3" fill="#fff"/>
<rect x="60.2" y="239.8" width="45.4" height="15.3" fill="#fff"/>
<rect x="81.8" y="252.5" width="28.1" height="15.3" fill="#fff"/>
<rect x="16.4" y="254.7" width="40.1" height="15.3" fill="#fff"/>
<text transform="translate(198.5 35.9) scale(1.13 1)" class="lb">Mmp7</text>
<text transform="translate(152.3 156.6) scale(1.13 1)" class="lb">Hp</text>
<text transform="translate(150.5 191.4) scale(1.13 1)" class="lb">Slpi</text>
<text transform="translate(209.0 188.5) scale(1.13 1)" class="lb">Ceacam12</text>
<text transform="translate(190.6 199.4) scale(1.13 1)" class="lb">Saa3</text>
<text transform="translate(137.6 214.7) scale(1.13 1)" class="lb">Pla2g2a</text>
<text transform="translate(62.5 251.7) scale(1.13 1)" class="lb">Il13ra2</text>
<text transform="translate(84.1 264.4) scale(1.13 1)" class="lb">Ttc7</text>
<text transform="translate(18.7 266.6) scale(1.06 1)" class="lb">Gsdmc</text>
<text x="4" y="15.8" class="pl">A</text>
<text x="142.8" y="14.7" text-anchor="middle" class="ttl">ARP mice vs Healthy mice</text>
<text x="146.6" y="332.5" text-anchor="middle" class="ax">log2 (fold change)</text>
<text transform="translate(12.8 168.5) rotate(-90)" text-anchor="middle" class="ax">-log10 (p value)</text>
<!-- Panel B -->
<line x1="352.0" y1="19.7" x2="352.0" y2="301.2" stroke="#f3f3f3" stroke-width="1"/>
<line x1="408.0" y1="19.7" x2="408.0" y2="301.2" stroke="#f3f3f3" stroke-width="1"/>
<line x1="464.0" y1="19.7" x2="464.0" y2="301.2" stroke="#f3f3f3" stroke-width="1"/>
<line x1="520.0" y1="19.7" x2="520.0" y2="301.2" stroke="#f3f3f3" stroke-width="1"/>
<line x1="317.5" y1="258.2" x2="525.5" y2="258.2" stroke="#f3f3f3" stroke-width="1"/>
<line x1="317.5" y1="198.0" x2="525.5" y2="198.0" stroke="#f3f3f3" stroke-width="1"/>
<line x1="317.5" y1="137.8" x2="525.5" y2="137.8" stroke="#f3f3f3" stroke-width="1"/>
<line x1="317.5" y1="77.6" x2="525.5" y2="77.6" stroke="#f3f3f3" stroke-width="1"/>
<line x1="324.0" y1="19.7" x2="324.0" y2="301.2" stroke="#e9e9e9" stroke-width="1.1"/>
<line x1="380.0" y1="19.7" x2="380.0" y2="301.2" stroke="#e9e9e9" stroke-width="1.1"/>
<line x1="436.0" y1="19.7" x2="436.0" y2="301.2" stroke="#e9e9e9" stroke-width="1.1"/>
<line x1="492.0" y1="19.7" x2="492.0" y2="301.2" stroke="#e9e9e9" stroke-width="1.1"/>
<line x1="317.5" y1="288.3" x2="525.5" y2="288.3" stroke="#e9e9e9" stroke-width="1.1"/>
<line x1="317.5" y1="228.1" x2="525.5" y2="228.1" stroke="#e9e9e9" stroke-width="1.1"/>
<line x1="317.5" y1="167.9" x2="525.5" y2="167.9" stroke="#e9e9e9" stroke-width="1.1"/>
<line x1="317.5" y1="107.7" x2="525.5" y2="107.7" stroke="#e9e9e9" stroke-width="1.1"/>
<line x1="317.5" y1="47.5" x2="525.5" y2="47.5" stroke="#e9e9e9" stroke-width="1.1"/>
<path d="M423.2 282.8h0M432.5 286.5h0M433.2 287.6h0M434.5 288.0h0M434.5 288.0h0M427.4 283.7h0M428.5 286.2h0M423.6 281.6h0M424.7 284.8h0M431.2 286.4h0M426.6 285.1h0M427.7 284.6h0M433.6 287.7h0M428.6 285.2h0M418.8 280.9h0M428.2 285.8h0M426.9 285.8h0M431.3 287.1h0M429.3 286.1h0M422.1 282.5h0M427.7 285.9h0M430.3 285.3h0M425.2 283.9h0M430.9 286.3h0M419.7 282.4h0M432.4 286.7h0M424.0 284.4h0M433.5 287.5h0M435.5 288.1h0M426.7 285.6h0M429.6 286.5h0M425.7 284.0h0M431.5 287.1h0M433.6 287.4h0M427.5 284.9h0M427.2 282.5h0M425.6 283.3h0M421.5 283.3h0M434.7 288.0h0M425.2 284.7h0M426.7 281.9h0M429.8 286.7h0M433.4 287.7h0M427.0 284.3h0M420.8 282.5h0M421.9 282.1h0M417.6 281.7h0M428.5 284.0h0M421.7 282.3h0M430.1 285.8h0M433.0 287.5h0M421.5 281.3h0M431.6 286.0h0M428.1 283.3h0M429.6 286.2h0M433.3 287.1h0M425.8 283.2h0M435.0 287.9h0M435.2 288.1h0M423.8 284.2h0M422.2 282.9h0M424.5 281.9h0M423.7 283.4h0M425.0 282.0h0M423.5 284.2h0M424.3 283.2h0M434.8 288.0h0M427.8 284.7h0M428.1 285.0h0M434.5 287.9h0M435.6 288.2h0M431.0 287.0h0M421.4 283.0h0M425.2 284.6h0M435.9 288.3h0M433.5 287.4h0M430.1 285.5h0M434.3 287.9h0M427.7 283.7h0M434.7 287.8h0M424.4 283.8h0M424.4 283.0h0M420.7 282.4h0M433.2 287.6h0M429.4 285.1h0M428.5 285.9h0M420.6 281.1h0M431.1 286.5h0M428.0 285.6h0M429.3 284.5h0M425.9 284.3h0M428.0 286.2h0M428.7 285.7h0M425.9 282.3h0M432.5 287.1h0M431.6 287.1h0M423.5 283.3h0M419.8 280.6h0M425.0 284.7h0M430.8 286.7h0M428.6 285.2h0M425.0 283.3h0M430.1 286.0h0M427.2 285.4h0M431.8 286.0h0M427.4 282.5h0M431.8 287.0h0M434.8 287.9h0M434.3 287.6h0M422.7 283.6h0M435.0 288.0h0M431.7 287.0h0M423.4 284.4h0M428.0 286.2h0M420.9 282.9h0M429.0 286.2h0M431.0 287.0h0M423.6 283.3h0M432.6 287.0h0M431.5 286.8h0M419.7 280.9h0M429.4 285.1h0M428.5 285.6h0M421.5 283.3h0M426.4 285.0h0M430.1 286.7h0M428.0 284.6h0M416.9 280.7h0M422.7 283.4h0M423.9 281.6h0M427.3 285.1h0M431.1 286.8h0M435.9 288.3h0M435.0 287.9h0M434.1 287.7h0M431.4 287.2h0M435.1 288.0h0M424.2 283.9h0M430.2 285.4h0M434.8 288.0h0M424.4 283.7h0M430.4 285.8h0M429.2 286.5h0M429.5 286.3h0M429.7 286.4h0M430.2 286.7h0M432.1 286.9h0M431.1 286.9h0M432.8 287.3h0M427.2 285.6h0M429.4 286.1h0M432.8 287.5h0M429.2 286.3h0M429.6 286.4h0M426.5 281.7h0M429.7 285.8h0M430.8 286.8h0M421.4 280.9h0M424.9 281.9h0M425.2 281.4h0M424.2 284.0h0M435.6 288.2h0M432.0 286.6h0M425.5 285.2h0M433.3 287.5h0M434.9 288.0h0M425.0 283.8h0M435.8 288.2h0M427.0 284.0h0M423.3 283.9h0M424.2 282.9h0M422.1 280.8h0M422.3 280.6h0M428.3 286.0h0M426.0 284.8h0M429.3 285.2h0M417.3 280.6h0M432.6 287.4h0M419.2 281.6h0M434.9 288.0h0M425.9 285.2h0M423.8 282.6h0M431.5 286.9h0M428.0 283.7h0M424.8 283.2h0M436.0 288.3h0M424.2 283.0h0M435.8 288.2h0M424.1 284.7h0M426.1 283.5h0M427.3 281.5h0M433.0 287.6h0M420.1 282.5h0M434.3 287.8h0M435.6 288.2h0M420.8 283.3h0M434.9 288.0h0M423.6 284.3h0M430.2 286.8h0M428.5 285.9h0M432.9 287.5h0M434.4 287.9h0M423.6 281.8h0M430.3 286.9h0M430.4 286.4h0M430.4 285.7h0M433.5 287.8h0M434.0 287.7h0M423.4 282.0h0M427.2 285.0h0M430.2 286.9h0M421.9 283.1h0M430.0 285.9h0M426.6 284.7h0M434.3 287.9h0M434.2 287.9h0M432.9 287.1h0M428.9 285.4h0M428.8 286.5h0M427.6 284.2h0M430.8 286.7h0M425.7 284.8h0M434.4 287.8h0M432.5 286.7h0M425.4 285.2h0M429.6 286.6h0M431.2 285.9h0M434.2 287.7h0M432.4 287.3h0M431.9 287.3h0M424.2 283.8h0M435.2 288.1h0M422.8 281.5h0M419.6 282.3h0M428.5 286.2h0M421.2 281.7h0M433.1 287.1h0M421.9 283.5h0M423.9 283.7h0M427.5 283.2h0M426.0 284.3h0M434.8 288.0h0M423.5 281.8h0M432.9 287.3h0M417.3 281.4h0M431.8 286.1h0M435.2 288.0h0M425.2 284.4h0M430.3 286.9h0M423.9 284.7h0M435.2 288.1h0M418.1 281.7h0M422.1 283.7h0M429.0 286.2h0M433.9 287.7h0M429.6 286.0h0M424.9 283.7h0M423.0 281.0h0M430.4 286.6h0M434.3 287.9h0M433.7 287.5h0M431.7 286.5h0M424.4 283.5h0M433.4 287.6h0M427.7 285.2h0M422.8 282.6h0M425.3 285.0h0M419.1 281.0h0M435.9 288.3h0M426.2 285.2h0M423.3 284.5h0M426.1 284.7h0M422.6 283.7h0M433.9 287.7h0M424.7 281.2h0M424.3 281.8h0M420.5 283.1h0M423.4 281.6h0M433.4 287.7h0M421.7 282.1h0M424.1 284.6h0M434.1 287.7h0M432.7 287.4h0M433.8 287.8h0M431.9 287.2h0M429.3 285.1h0M430.7 286.1h0M435.4 288.1h0M423.3 284.2h0M428.1 285.6h0M420.4 282.9h0M429.3 286.3h0M434.7 288.0h0M428.2 285.8h0M434.5 287.9h0M428.5 285.3h0M425.5 282.6h0M434.3 287.8h0M420.1 282.7h0M427.5 285.4h0M426.7 285.7h0M428.1 286.1h0M425.8 285.3h0M430.7 287.0h0M428.8 284.3h0M431.2 287.2h0M434.4 287.9h0M433.4 287.3h0M435.7 288.2h0M433.4 287.3h0M434.8 288.0h0M430.7 286.3h0M426.0 285.2h0M424.4 281.2h0M423.4 283.7h0M424.1 281.8h0M425.7 283.0h0M432.3 287.2h0M431.0 286.9h0M429.7 285.4h0M432.0 287.2h0M433.5 287.7h0M429.7 286.3h0M425.7 285.4h0M430.9 286.5h0M418.3 280.5h0M432.1 287.0h0M424.3 283.5h0M427.6 285.8h0M431.2 287.1h0M425.6 284.8h0M427.6 284.9h0M423.4 284.3h0M434.1 287.9h0M425.1 281.5h0M420.5 283.0h0M422.9 282.1h0M432.8 287.3h0M420.3 281.1h0M433.6 287.7h0M428.1 285.0h0M417.3 281.3h0M431.2 287.0h0M433.2 287.5h0M433.9 287.7h0M435.1 288.1h0M427.7 284.2h0M430.7 286.9h0M432.7 287.5h0M427.4 284.6h0M425.5 284.8h0M429.1 286.0h0M428.0 285.6h0M430.0 286.6h0M423.0 284.3h0M425.8 285.2h0M425.5 282.9h0M429.2 286.6h0M425.9 281.2h0M434.4 287.8h0M427.5 285.7h0M429.2 286.4h0M423.7 283.5h0M431.2 286.6h0M423.8 283.5h0M434.1 287.9h0M430.9 287.1h0M428.4 286.1h0M426.7 285.3h0M425.9 284.9h0M430.3 285.5h0M434.5 287.9h0M422.0 282.8h0M418.4 281.2h0M427.9 285.8h0M430.7 286.4h0M425.7 285.3h0M431.4 287.2h0M431.0 287.1h0M433.8 287.8h0M422.3 283.9h0M417.4 280.8h0M428.3 285.5h0M432.7 287.4h0M432.4 287.4h0M427.7 284.7h0M434.1 287.8h0M427.0 285.7h0M425.0 284.6h0M431.4 285.8h0M425.4 284.9h0M427.2 282.7h0M426.9 285.7h0M431.1 286.2h0M421.3 281.8h0M433.2 287.2h0M428.4 286.3h0M424.2 283.6h0M431.2 286.4h0M434.2 287.7h0M433.4 287.4h0M431.1 286.7h0M429.4 285.8h0M429.2 284.4h0M433.0 287.0h0M429.7 286.7h0M426.7 285.7h0M423.5 282.5h0M429.0 285.7h0M417.3 280.6h0M433.8 287.8h0M433.5 287.6h0M429.4 286.4h0M419.0 282.4h0M432.3 287.0h0M431.5 287.2h0M428.1 285.7h0M433.1 287.5h0M427.8 282.3h0M432.5 287.1h0M430.7 285.8h0M421.7 281.8h0M434.5 287.7h0M424.1 284.8h0M434.4 287.9h0M432.7 287.1h0M430.2 285.7h0M426.1 284.0h0M433.2 287.6h0M428.6 286.1h0M421.8 281.2h0M425.1 284.5h0M424.0 284.1h0M425.5 283.9h0M427.6 286.0h0M426.9 285.4h0M434.6 287.8h0M421.4 282.8h0M434.7 287.8h0M425.8 284.7h0M419.0 281.8h0M419.6 282.8h0M426.5 283.2h0M425.1 284.6h0M423.5 283.4h0M428.5 285.7h0M420.2 282.7h0M433.1 287.4h0M425.0 284.5h0M427.3 284.5h0M430.2 286.4h0M427.9 286.0h0M418.2 281.4h0M434.9 288.0h0M427.8 284.1h0M432.1 287.4h0M426.7 284.9h0M429.4 286.6h0M427.7 284.9h0M424.1 284.4h0M432.3 287.4h0M432.6 287.1h0M418.5 280.8h0M434.0 287.3h0M429.5 286.6h0M433.1 287.2h0M435.7 288.2h0M425.3 282.9h0M434.9 287.9h0M435.7 288.2h0M425.0 283.3h0M434.1 287.7h0M424.0 284.6h0M422.5 282.0h0M429.5 285.7h0M421.6 282.0h0M430.4 286.4h0M436.0 288.3h0M435.6 288.2h0M421.4 282.6h0M426.0 282.3h0M429.8 286.1h0M421.7 283.3h0M435.3 288.1h0M427.7 284.0h0M427.5 286.0h0M433.2 286.8h0M430.3 285.1h0M429.4 284.8h0M422.8 283.6h0M429.0 285.8h0M435.0 288.0h0M433.1 287.4h0M420.7 280.7h0M424.5 284.8h0M429.7 284.8h0M422.3 283.6h0M433.6 287.5h0M429.9 286.3h0M419.1 280.6h0M419.7 281.7h0M425.7 284.6h0M430.2 286.9h0M422.1 281.7h0M425.6 284.8h0M426.1 285.3h0M434.0 287.7h0M427.7 285.5h0M435.2 288.1h0M435.5 288.2h0M428.0 286.1h0M429.2 286.5h0M433.6 287.7h0M419.9 280.6h0M425.9 283.4h0M435.5 288.1h0M426.1 282.8h0M433.9 287.6h0M431.3 287.0h0M431.8 287.3h0M423.1 281.7h0M433.9 287.8h0M435.8 288.3h0M432.1 287.1h0M434.5 287.9h0M429.2 286.1h0M434.1 287.8h0M418.7 280.8h0M415.2 280.5h0M421.2 283.2h0M432.5 287.2h0M426.6 282.8h0M433.5 287.6h0M419.4 281.0h0M430.3 284.7h0M428.5 285.1h0M419.5 281.0h0M420.6 280.7h0M435.3 288.1h0M433.2 287.4h0M423.0 284.2h0M426.7 284.1h0M429.7 284.2h0M428.4 286.2h0M435.3 288.0h0M422.6 281.7h0M430.9 286.5h0M423.9 283.7h0M434.2 287.9h0M434.1 287.8h0M423.9 281.1h0M422.2 283.9h0M431.9 287.1h0M430.2 284.7h0M426.4 283.1h0M425.6 284.9h0M429.9 286.5h0M427.8 286.1h0M426.0 284.6h0M433.0 287.6h0M432.4 286.8h0M429.9 286.0h0M426.7 284.8h0M432.5 287.0h0M423.7 282.8h0M428.1 285.5h0M432.0 287.3h0M434.9 288.1h0M422.0 283.4h0M422.6 281.0h0M431.4 286.0h0M420.3 282.2h0M421.0 283.3h0M420.0 282.1h0M429.1 286.1h0M433.9 287.8h0M435.8 288.3h0M418.1 282.0h0M430.7 287.0h0M421.0 282.8h0M435.0 288.1h0M427.7 285.2h0M430.2 286.5h0M428.5 283.8h0M429.8 286.0h0M423.3 282.3h0M425.4 284.1h0M419.9 282.8h0M425.4 282.0h0M425.0 282.5h0M432.7 287.1h0M421.9 282.3h0M433.9 287.7h0M432.2 287.3h0M425.2 284.4h0M434.6 288.0h0M431.4 287.0h0M429.8 285.8h0M435.9 288.3h0M435.7 288.2h0M431.4 287.0h0M435.2 288.1h0M433.3 287.0h0M430.4 286.9h0M418.1 281.3h0M424.5 283.4h0M433.6 287.3h0M428.3 286.1h0M427.9 285.8h0M419.5 282.6h0M425.1 282.9h0M431.2 286.5h0M431.8 286.7h0M428.4 285.9h0M434.1 287.9h0M424.7 284.1h0M434.8 288.1h0M429.1 285.7h0M421.5 282.7h0M435.8 288.2h0M423.7 280.6h0M429.7 286.5h0M431.4 285.6h0M424.6 280.7h0M416.6 281.2h0M425.4 283.4h0M428.6 283.5h0M423.6 282.2h0M424.0 284.5h0M427.3 284.1h0M430.0 286.6h0M427.9 284.7h0M425.6 282.0h0M433.1 286.8h0M433.7 287.8h0M430.1 286.0h0M424.4 284.4h0M427.4 286.0h0M430.3 286.8h0M430.0 286.8h0M435.7 288.2h0M423.6 284.6h0M435.3 288.1h0M435.5 288.1h0M430.1 286.6h0M417.9 281.6h0M431.2 287.0h0M427.3 284.2h0M431.7 287.3h0M430.1 286.7h0M433.5 287.6h0M428.7 286.4h0M427.3 283.7h0M419.0 281.3h0M435.0 288.1h0M431.5 286.8h0M423.1 281.9h0M423.9 284.0h0M427.3 285.6h0M433.2 287.4h0M434.9 288.0h0M426.0 284.5h0M430.6 287.0h0M434.8 288.0h0M420.9 281.3h0M428.4 285.8h0M427.7 286.0h0M434.2 287.8h0M432.5 287.0h0M427.8 285.7h0M425.8 283.9h0M433.9 287.6h0M431.0 286.5h0M428.5 285.8h0M428.7 284.9h0M427.1 285.9h0M429.4 286.1h0M421.5 280.8h0M435.3 288.1h0M431.8 286.8h0M430.4 286.6h0M434.2 287.8h0M432.3 287.0h0M420.9 282.7h0M431.4 286.6h0M427.7 284.9h0M417.3 280.8h0M423.7 283.9h0M435.8 288.2h0M417.4 281.2h0M433.1 287.6h0M435.1 288.0h0M423.0 283.0h0M431.3 287.1h0M423.8 283.9h0M432.4 287.4h0M428.2 286.3h0M423.8 282.7h0M424.4 284.0h0M423.7 283.6h0M423.8 280.8h0M425.5 281.9h0M421.8 281.6h0M424.7 282.0h0M422.6 283.1h0M432.7 287.5h0M422.1 282.8h0M434.4 287.9h0M421.5 282.5h0M426.4 285.5h0M432.6 287.2h0M433.8 287.6h0M434.3 287.9h0M434.8 288.0h0M423.0 283.1h0M431.8 287.1h0M428.9 284.9h0M434.5 287.7h0M431.2 286.6h0M435.6 288.2h0M425.2 285.2h0M435.1 288.1h0M428.2 285.8h0M426.2 285.5h0M419.9 282.0h0M425.6 284.5h0M434.8 287.9h0M430.0 285.2h0M427.4 284.9h0M422.7 283.5h0M422.3 280.7h0M428.6 283.3h0M426.2 283.3h0M423.7 281.0h0M424.7 284.9h0M425.8 285.0h0M425.2 281.3h0M432.9 287.5h0M432.8 287.4h0M422.9 281.8h0M435.0 288.1h0M425.0 282.0h0M434.2 287.7h0M430.0 286.5h0M428.0 285.2h0M429.3 286.3h0M428.5 284.5h0M429.3 285.6h0M428.6 284.5h0M422.7 281.7h0M420.2 281.0h0M430.1 286.2h0M422.9 281.3h0M426.4 284.8h0M419.3 281.3h0M424.3 281.9h0M430.7 287.0h0M425.2 282.6h0M431.3 286.9h0M420.0 282.7h0M428.7 286.2h0M434.5 287.7h0M432.7 287.5h0M426.7 284.8h0M423.4 284.0h0M429.2 284.8h0M432.4 287.0h0M426.7 284.4h0M432.7 287.1h0M433.9 287.6h0M434.9 288.1h0M432.9 287.4h0M429.4 286.5h0M426.4 284.2h0M435.9 288.3h0M421.6 282.6h0M427.5 285.0h0M419.3 282.2h0M424.0 284.4h0M423.6 281.9h0M421.8 283.7h0M429.6 285.4h0M430.0 286.8h0M422.3 281.9h0M427.3 283.1h0M429.9 286.8h0M427.3 285.8h0M428.1 285.1h0M429.0 285.4h0M435.2 288.1h0M425.1 284.6h0M424.3 284.6h0M421.6 283.2h0M422.4 281.5h0M416.5 280.6h0M428.0 285.3h0M435.2 288.1h0M431.3 286.8h0M424.3 281.4h0M424.3 284.6h0M431.7 286.3h0M435.7 288.2h0M427.8 285.1h0M423.7 281.1h0M432.9 287.3h0M430.6 286.3h0M430.6 286.5h0M430.4 286.6h0M432.4 287.5h0M432.6 287.2h0M434.4 287.9h0M427.5 285.5h0M422.7 283.3h0M432.0 287.3h0M428.1 285.8h0M434.7 288.0h0M433.7 287.5h0M431.2 286.2h0M418.1 280.7h0M434.3 287.9h0M418.7 281.0h0M422.6 282.4h0M431.0 286.4h0M428.8 286.1h0M434.3 287.9h0M417.5 281.2h0M429.4 286.4h0M418.9 281.9h0M424.5 283.3h0M432.0 287.1h0M430.5 286.1h0M426.5 285.1h0M425.1 282.9h0M424.9 281.5h0M424.7 284.8h0M422.4 280.9h0M421.1 283.5h0M434.4 287.9h0M420.0 280.5h0M427.5 285.3h0M427.9 285.5h0M415.7 280.5h0M423.2 283.4h0M427.0 285.1h0M428.8 285.4h0M415.8 280.5h0M422.0 283.8h0M433.0 287.6h0M426.9 285.4h0M425.5 285.2h0M424.8 282.6h0M428.1 284.7h0M422.0 280.7h0M425.7 282.6h0M432.9 287.1h0M430.8 286.8h0M429.2 286.3h0M426.6 282.8h0M427.2 285.6h0M428.8 285.5h0M430.4 286.6h0M425.7 284.6h0M435.4 288.1h0M429.6 286.5h0M434.4 287.8h0M433.2 287.0h0M417.6 280.7h0M432.7 287.4h0M429.4 285.2h0M435.3 288.1h0M435.0 288.0h0M430.0 285.6h0M419.2 281.0h0M426.9 285.1h0M425.0 282.7h0M431.3 286.4h0M428.4 286.3h0M435.9 288.3h0M433.8 287.8h0M426.0 282.4h0M416.4 281.0h0M429.6 286.2h0M420.9 283.0h0M427.5 285.9h0M421.8 283.7h0M434.7 287.9h0M431.7 286.8h0M432.6 287.0h0M422.7 283.0h0M432.5 287.1h0M426.1 281.0h0M435.8 288.3h0M424.4 284.8h0M433.1 287.4h0M432.6 287.5h0M428.0 285.1h0M434.4 287.9h0M420.1 282.8h0M430.2 286.7h0M431.2 287.1h0M430.1 286.4h0M432.8 287.2h0M422.0 281.5h0M430.3 286.3h0M426.8 285.3h0M422.3 282.6h0M435.6 288.2h0M425.9 285.1h0M418.7 282.1h0M432.2 287.4h0M435.7 288.2h0M426.7 281.0h0M431.7 287.1h0M430.9 287.0h0M434.7 287.9h0M431.3 286.4h0M428.9 286.2h0M424.3 284.8h0M429.1 286.1h0M418.7 281.2h0M432.0 287.1h0M425.1 285.2h0M430.1 286.5h0M435.0 288.0h0M432.0 287.3h0M424.6 283.9h0M434.1 287.8h0M434.0 287.8h0M435.4 288.1h0M433.7 287.6h0M431.2 285.9h0M425.2 285.2h0M422.8 283.9h0M425.4 281.4h0M424.4 284.7h0M419.7 280.9h0M427.5 285.5h0M432.5 286.9h0M418.0 280.9h0M424.9 280.8h0M427.8 282.9h0M427.5 285.5h0M433.4 287.3h0M420.9 281.6h0M427.4 285.3h0M427.7 285.0h0M432.6 287.3h0M429.5 286.4h0M420.8 283.3h0M433.5 287.7h0M426.3 283.6h0M432.8 287.4h0M426.2 285.5h0M434.4 287.9h0M425.6 284.0h0M427.0 284.2h0M434.2 287.9h0M431.7 287.3h0M434.2 287.8h0M431.3 286.1h0M427.8 283.5h0M424.9 282.6h0M435.9 288.3h0M427.8 282.2h0M428.5 285.3h0M435.8 288.2h0M427.2 286.0h0M426.5 285.0h0M434.1 287.8h0M422.1 282.5h0M433.7 287.5h0M434.1 287.8h0M429.2 286.5h0M419.6 281.0h0M425.1 282.8h0M429.4 285.8h0M424.7 281.9h0M427.9 285.5h0M425.1 282.3h0M430.2 286.7h0M424.2 281.0h0M422.9 284.2h0M426.5 285.3h0M423.7 283.2h0M434.2 287.9h0M421.1 283.3h0M422.7 284.2h0M429.9 286.5h0M432.4 287.0h0M418.2 280.8h0M425.7 284.6h0M431.4 287.2h0M435.1 288.1h0M430.9 286.2h0M435.9 288.3h0M427.4 285.6h0M431.7 286.4h0M431.0 286.9h0M424.1 284.7h0M435.5 288.2h0M427.1 285.9h0M423.2 281.3h0M433.9 287.7h0M422.4 280.9h0M424.2 283.9h0M426.1 284.9h0M424.4 284.8h0M422.0 282.0h0M435.5 288.2h0M423.6 283.9h0M433.6 287.7h0M427.9 286.0h0M426.6 285.3h0M432.0 287.0h0M434.8 288.1h0M432.5 287.4h0M435.0 288.0h0M433.9 287.7h0M423.5 283.9h0M420.5 283.1h0M423.0 283.4h0M423.3 284.5h0M423.6 281.4h0M434.7 287.8h0M431.5 286.6h0M428.4 285.8h0M429.4 286.2h0M428.5 284.2h0M430.8 286.7h0M423.7 281.6h0M421.2 282.8h0M434.1 287.7h0M424.7 283.6h0M422.6 284.2h0M430.2 286.8h0M427.4 283.5h0M428.5 285.9h0M423.7 280.7h0M430.9 286.8h0M433.4 287.5h0M425.9 285.2h0M428.1 286.2h0M420.8 282.7h0M435.0 288.0h0M423.0 283.4h0M423.7 283.6h0M425.2 284.3h0M429.8 285.9h0M432.6 287.5h0M417.6 280.6h0M431.8 287.3h0M430.7 286.5h0M426.3 282.6h0M424.3 283.2h0M434.6 287.9h0M435.4 288.2h0M423.5 284.2h0M425.0 281.7h0M430.0 286.0h0M415.7 280.7h0M423.4 281.0h0M420.9 281.8h0M427.0 285.1h0M431.6 287.2h0M420.4 282.5h0M430.6 286.8h0M425.9 282.9h0M427.2 284.4h0M424.8 284.0h0M433.9 287.7h0M429.5 286.4h0M431.7 286.8h0M429.8 285.6h0M418.1 280.5h0M435.5 288.2h0M423.2 283.3h0M426.3 285.0h0M425.1 283.4h0M433.2 287.5h0M427.2 285.7h0M427.1 282.2h0M430.2 286.8h0M432.9 286.7h0M428.7 284.9h0M421.2 282.7h0M431.3 286.3h0M434.0 287.8h0M432.0 287.2h0M432.5 287.5h0M423.5 282.4h0M430.3 286.8h0M422.0 283.7h0M419.0 282.0h0M425.3 283.6h0M433.3 287.1h0M433.2 287.7h0M434.9 288.0h0M433.3 287.4h0M423.7 282.8h0M433.0 287.0h0M424.3 282.6h0M430.6 286.8h0M435.9 288.3h0M430.1 285.8h0M427.3 284.6h0M434.1 287.7h0M425.7 284.2h0M431.4 286.4h0M425.5 285.0h0M424.9 284.4h0M435.9 288.3h0M430.6 286.9h0M434.2 287.9h0M432.8 287.3h0M430.7 286.7h0M431.4 287.1h0M420.7 282.1h0M434.3 287.8h0M423.4 284.0h0M418.0 281.4h0M423.5 283.8h0M432.6 287.1h0M435.4 288.1h0M425.1 285.0h0M426.5 284.5h0M427.9 285.1h0M421.7 281.7h0M427.9 284.4h0M431.8 287.2h0M434.4 287.9h0M420.9 282.4h0M418.2 280.9h0M427.1 284.0h0M427.4 284.7h0M426.9 282.3h0M433.3 287.4h0M426.6 281.9h0M434.6 287.9h0M432.2 286.9h0M434.2 287.9h0M434.3 287.7h0M432.0 287.3h0M435.1 288.0h0M426.9 284.2h0M431.9 287.2h0M418.1 280.7h0M425.0 283.2h0M433.9 287.8h0M434.1 287.7h0M426.1 284.4h0M423.8 284.4h0M435.0 288.1h0M431.5 286.4h0M423.5 282.8h0M420.1 282.7h0M432.1 286.8h0M430.8 286.7h0M420.8 282.4h0M433.6 287.7h0M435.5 288.2h0M433.3 287.6h0M423.2 283.9h0M421.1 283.1h0M422.9 283.5h0M421.9 282.2h0M420.6 280.6h0M421.6 281.2h0M430.2 286.3h0M423.7 281.2h0M424.7 284.6h0M432.1 286.6h0M436.0 288.3h0M420.9 282.4h0M451.5 281.6h0M442.5 286.6h0M441.6 286.8h0M444.6 285.6h0M442.6 286.0h0M456.1 280.6h0M447.9 284.8h0M445.8 281.0h0M452.3 282.0h0M448.3 282.8h0M443.7 286.2h0M447.3 280.8h0M438.8 287.6h0M436.1 288.3h0M440.7 286.8h0M447.1 280.6h0M446.0 285.5h0M455.1 281.4h0M439.8 287.4h0M446.1 282.6h0M448.9 284.0h0M437.5 287.9h0M442.0 285.8h0M444.5 283.6h0M443.6 285.8h0M446.7 284.5h0M443.3 286.5h0M442.9 286.4h0M447.0 284.8h0M436.6 288.2h0M449.2 282.4h0M442.2 285.6h0M453.4 281.7h0M439.4 287.5h0M447.3 284.4h0M443.7 284.8h0M442.8 285.9h0M442.3 285.6h0M449.4 283.1h0M441.2 286.7h0M440.4 286.9h0M447.2 284.5h0M443.0 286.3h0M451.0 281.8h0M453.0 281.9h0M438.9 287.6h0M446.1 285.6h0M436.3 288.2h0M440.5 286.5h0M438.5 287.7h0M441.5 286.7h0M440.8 287.0h0M444.8 284.3h0M444.5 284.8h0M444.3 285.6h0M445.0 285.6h0M438.8 287.4h0M451.8 282.2h0M438.2 287.5h0M440.2 287.2h0M453.1 281.3h0M442.8 286.4h0M439.6 287.5h0M445.7 285.1h0M443.9 284.0h0M438.5 287.7h0M438.4 287.5h0M451.1 282.5h0M445.2 281.2h0M450.4 284.0h0M437.7 287.9h0M454.3 281.2h0M436.9 288.0h0M441.5 286.8h0M441.3 286.7h0M441.9 286.6h0M447.2 280.9h0M440.4 286.7h0M438.8 287.5h0M447.1 285.2h0M445.3 285.2h0M436.5 288.2h0M449.5 284.3h0M442.4 286.8h0M444.9 285.9h0M449.2 284.1h0M450.8 283.7h0M448.4 284.1h0M440.8 286.8h0M447.2 285.2h0M445.6 284.6h0M443.9 286.1h0M441.3 287.0h0M453.1 280.8h0M451.3 282.7h0M442.8 284.6h0M450.5 282.0h0M443.7 286.1h0M439.4 287.5h0M440.4 286.9h0M443.0 286.6h0M438.4 287.8h0M442.7 286.5h0M451.1 283.1h0M437.8 287.9h0M439.0 287.2h0M442.3 286.1h0M439.2 287.6h0M442.8 286.5h0M447.2 282.1h0M453.3 282.5h0M446.0 285.4h0M450.1 283.1h0M446.7 284.3h0M441.0 287.1h0M454.1 282.1h0M453.0 281.0h0M450.5 282.5h0M445.1 285.5h0M450.8 283.5h0M438.9 287.7h0M452.7 283.0h0M439.7 287.3h0M454.0 280.9h0M436.7 288.1h0M447.4 280.9h0M447.1 282.6h0M437.6 287.9h0M446.6 283.8h0M436.2 288.3h0M443.6 286.3h0M441.7 287.0h0M436.7 288.1h0M436.2 288.3h0M447.3 283.8h0M438.8 287.7h0M445.8 283.9h0M444.4 285.7h0M440.3 287.3h0M439.8 287.4h0M449.7 283.2h0M439.5 286.9h0M438.1 287.4h0M449.9 284.0h0M439.7 287.2h0M451.0 282.3h0M456.1 280.7h0M438.8 287.6h0M447.8 283.3h0M438.6 287.6h0M438.6 287.3h0M437.3 288.0h0M436.8 288.0h0M448.3 284.9h0M442.0 286.6h0M452.0 281.4h0M438.3 287.8h0M455.2 281.8h0M444.2 285.9h0M444.8 285.5h0M437.5 288.0h0M436.1 288.3h0M440.7 286.8h0M444.4 285.5h0M448.4 284.7h0M451.2 282.7h0M437.6 288.0h0M446.1 285.0h0M445.9 285.2h0M441.2 285.9h0M438.3 287.6h0M437.0 288.1h0M450.0 283.1h0M451.4 280.8h0M439.8 287.5h0M437.8 287.8h0M454.3 281.1h0M438.9 287.6h0M436.1 288.3h0M439.3 287.3h0M448.2 283.3h0M436.1 288.3h0M444.0 286.1h0M445.2 283.3h0M450.1 283.8h0M438.4 287.5h0M439.4 287.6h0M441.4 287.0h0M450.6 282.8h0M442.5 286.6h0M440.2 287.1h0M439.3 287.4h0M444.0 286.0h0M445.9 285.7h0M436.4 288.2h0M440.4 286.9h0M441.3 287.1h0M437.4 288.0h0M436.3 288.2h0M440.1 287.4h0M452.6 282.3h0M446.8 284.8h0M445.8 285.1h0M442.2 286.9h0M438.6 287.5h0M443.4 284.7h0M451.3 283.1h0M441.8 286.8h0M437.8 287.7h0M445.1 283.8h0M448.2 283.4h0M443.2 284.0h0M452.7 281.8h0M442.1 286.7h0M437.2 288.0h0M446.9 285.4h0M452.3 283.0h0M436.2 288.2h0M444.1 286.0h0M446.9 283.9h0M441.7 286.7h0M441.3 287.0h0M443.3 285.9h0M441.6 287.0h0M448.0 281.2h0M445.6 285.1h0M445.1 283.4h0M446.6 283.4h0M443.0 286.0h0M452.2 282.5h0M455.2 280.9h0M446.9 285.1h0M447.6 285.0h0M445.2 285.5h0M444.1 286.1h0M447.0 283.8h0M439.4 287.5h0M437.6 287.8h0M442.5 286.7h0M450.7 283.9h0M438.8 287.3h0M445.0 284.3h0M444.0 285.1h0M450.0 283.4h0M439.7 286.9h0M440.5 287.1h0M448.2 283.8h0M449.7 281.8h0M447.9 283.7h0M437.7 287.9h0M441.5 286.7h0M447.1 284.4h0M443.2 285.9h0M436.1 288.3h0M449.3 283.9h0M441.3 286.4h0M444.6 284.4h0M444.8 285.5h0M444.1 284.8h0M444.4 285.6h0M452.9 282.4h0M442.0 286.0h0M441.0 287.0h0M449.9 282.4h0M448.6 284.0h0M441.4 286.5h0M438.6 287.8h0M438.4 287.7h0M445.3 285.8h0M450.1 283.1h0M440.0 286.8h0M436.5 288.2h0M438.6 287.5h0M439.5 287.0h0M436.1 288.3h0M440.9 286.9h0M450.8 283.2h0M446.6 285.2h0M443.6 285.7h0M439.8 286.6h0M449.3 281.8h0M441.0 286.7h0M447.4 284.7h0M444.6 285.6h0M449.8 282.4h0M439.0 287.4h0M453.3 280.7h0M437.1 287.9h0M448.1 281.5h0M440.6 287.0h0M436.0 288.3h0M444.5 285.5h0M449.6 280.8h0M452.4 280.7h0M439.5 287.2h0M436.1 288.3h0M437.4 288.0h0M442.1 286.0h0M448.1 284.9h0M444.6 285.1h0M441.0 286.4h0M445.5 285.8h0M450.0 281.1h0M444.4 286.2h0M441.2 286.4h0M437.9 287.8h0M437.8 287.9h0M447.0 282.1h0M447.3 281.8h0M440.3 286.9h0M441.9 286.7h0M447.0 284.5h0M438.1 287.5h0M442.8 286.3h0M440.2 286.4h0M437.8 287.9h0M436.1 288.3h0M436.1 288.3h0M440.0 287.2h0M436.8 288.1h0M449.3 282.3h0M437.1 288.1h0M452.5 280.6h0M445.6 285.4h0M448.6 284.2h0M441.9 285.4h0M451.9 283.2h0M441.6 286.7h0M441.1 286.7h0M445.1 285.9h0M439.1 287.5h0M439.3 287.4h0M443.3 285.0h0M449.4 282.6h0M445.0 284.3h0M441.3 287.1h0M440.5 286.5h0M437.8 287.9h0M454.0 281.2h0M450.5 281.1h0M444.5 285.6h0M436.9 287.9h0M436.3 288.2h0M446.4 285.0h0M443.9 286.3h0M443.1 285.1h0M442.0 286.5h0M448.8 283.1h0M450.3 283.8h0M444.6 284.9h0M436.4 288.2h0M444.3 285.8h0M436.8 288.1h0M450.1 282.3h0M436.1 288.3h0M442.9 286.4h0M455.2 281.1h0M442.0 286.7h0M444.9 284.2h0M439.7 287.5h0M439.5 286.9h0M441.4 286.6h0M441.0 286.4h0M438.2 287.5h0M454.6 281.2h0M441.7 287.0h0M442.5 285.9h0M441.3 286.8h0M437.9 287.6h0M453.6 282.3h0M443.4 286.3h0M444.1 285.5h0M441.5 285.4h0M438.4 287.7h0M439.3 287.6h0M438.3 287.6h0M453.2 282.6h0M447.0 284.0h0M444.9 284.5h0M437.1 288.0h0M447.6 283.3h0M446.0 284.2h0M448.8 284.4h0M443.2 286.5h0M442.4 286.7h0M436.6 288.2h0M440.1 287.3h0M447.3 282.0h0M449.5 282.6h0M441.8 287.0h0M441.9 285.7h0M440.7 286.4h0M436.3 288.2h0M446.8 282.5h0M440.3 287.0h0M445.6 281.9h0M448.5 284.7h0M447.9 280.7h0M443.2 286.1h0M437.8 287.7h0M445.6 285.5h0M437.9 287.9h0M438.3 287.8h0M455.5 280.6h0M454.4 281.0h0M438.2 287.7h0M440.4 287.0h0M438.3 287.5h0M439.2 287.3h0M447.7 282.8h0M449.2 282.5h0M440.5 287.1h0M436.9 288.1h0M440.0 286.7h0M442.0 286.6h0M440.6 285.6h0M437.4 287.9h0M440.3 286.9h0M438.4 287.7h0M447.3 282.5h0M436.2 288.3h0M450.6 282.8h0M449.0 283.1h0M449.7 283.7h0M444.1 285.9h0M441.7 286.7h0M447.5 284.9h0M453.6 281.3h0M444.5 284.7h0M448.6 283.5h0M450.1 281.8h0M442.0 286.8h0M445.5 284.4h0M451.8 282.8h0M443.2 286.4h0M446.5 282.3h0M442.1 286.6h0M445.5 285.3h0M439.1 287.5h0M441.5 286.9h0M438.7 287.5h0M439.0 287.6h0M436.0 288.3h0M440.5 286.4h0M440.6 286.9h0M454.4 280.7h0M442.4 286.3h0M451.1 281.7h0M454.2 282.3h0M444.0 286.0h0M437.5 288.0h0M442.6 286.6h0M445.7 285.1h0M450.7 282.9h0M440.6 287.2h0M439.0 287.6h0M441.5 286.0h0M445.9 281.2h0M442.8 285.0h0M443.1 284.7h0M448.9 283.5h0M439.2 287.6h0M442.9 286.6h0M436.7 288.2h0M447.9 282.0h0M455.0 281.9h0M440.9 287.2h0M439.7 287.4h0M437.8 287.7h0M439.8 287.0h0M454.3 281.7h0M448.0 282.0h0M447.9 284.8h0M455.7 280.5h0M439.3 287.4h0M441.8 286.5h0M442.7 284.9h0M448.2 283.3h0M439.0 287.6h0M443.2 286.5h0M452.5 282.4h0M445.9 283.7h0M438.4 287.8h0M453.4 282.7h0M437.5 287.9h0M442.7 285.5h0M447.4 283.4h0M440.1 287.2h0M445.2 285.3h0M443.8 286.1h0M446.2 285.4h0M450.2 283.4h0M446.7 284.8h0M448.6 282.2h0M439.8 287.5h0M443.7 285.8h0M443.7 286.3h0M442.7 286.6h0M451.5 281.4h0M436.8 288.1h0M455.4 280.9h0M439.7 287.4h0M441.8 287.0h0M439.0 287.7h0M439.3 287.3h0M449.8 284.2h0M444.6 285.5h0M445.3 284.8h0M437.2 287.8h0M443.0 286.5h0M442.1 286.7h0M436.7 288.2h0M437.1 288.0h0M438.6 287.7h0M442.6 286.7h0M440.5 286.8h0M446.7 283.0h0M447.8 281.5h0M440.4 286.9h0M449.8 281.0h0M452.5 282.4h0M447.0 284.1h0M440.8 287.2h0M452.7 281.6h0M440.3 287.1h0M453.1 282.7h0M438.7 287.7h0M451.3 283.3h0M445.1 285.8h0M443.8 285.5h0M442.1 285.3h0M454.8 280.5h0M438.0 287.5h0M446.8 283.1h0M444.6 285.1h0M446.9 284.7h0M449.4 284.5h0M450.1 280.5h0M455.8 281.2h0M443.8 286.1h0M447.7 284.6h0M448.5 282.5h0M440.8 286.8h0M449.2 283.6h0M451.9 281.9h0M441.3 286.7h0M444.2 286.0h0M441.6 286.3h0M444.3 285.0h0M437.8 287.9h0M445.5 285.3h0M436.9 287.9h0M443.0 286.1h0M444.4 286.1h0M437.8 287.7h0M441.8 286.7h0M455.9 281.2h0M441.4 286.3h0M438.1 287.9h0M450.0 283.9h0M441.3 286.9h0M446.9 284.9h0M450.1 284.0h0M438.0 287.4h0M444.9 284.4h0M437.8 287.7h0M447.4 284.8h0M441.1 286.6h0M446.9 284.5h0M449.6 282.4h0M448.2 284.5h0M445.2 282.4h0M438.0 287.6h0M446.5 283.7h0M443.8 285.7h0M451.6 283.5h0M447.9 283.1h0M437.9 287.9h0M450.5 280.7h0M449.7 284.0h0M447.7 283.9h0M438.9 287.6h0M451.1 281.4h0M445.1 283.1h0M437.9 287.7h0M447.4 284.0h0M445.2 283.3h0M439.0 287.6h0M447.3 282.1h0M451.4 281.5h0M453.2 281.0h0M451.8 281.2h0M449.0 283.3h0M446.2 284.9h0M439.9 287.4h0M449.3 283.8h0M440.5 287.3h0M448.4 281.2h0M448.3 284.7h0M438.9 287.3h0M447.3 285.2h0M441.0 286.7h0M436.9 288.0h0M444.1 286.3h0M446.2 283.9h0M442.8 286.2h0M443.5 285.8h0M440.3 287.0h0M451.7 282.4h0M442.4 284.8h0M444.8 284.5h0M446.7 283.5h0M436.5 288.2h0M439.1 287.2h0M443.0 284.8h0M451.3 283.0h0M446.6 282.7h0M454.4 281.1h0M439.0 287.6h0M442.8 286.1h0M447.9 281.8h0M454.2 281.7h0M438.2 287.8h0M444.2 285.4h0M454.9 281.5h0M446.2 285.2h0M449.0 283.3h0M439.8 286.9h0M443.6 285.7h0M440.0 286.6h0M442.9 286.5h0M453.4 281.2h0M453.4 282.0h0M438.2 287.7h0M442.5 285.6h0M445.2 285.9h0M445.8 284.7h0M437.7 287.8h0M444.8 285.0h0M452.4 281.6h0M438.9 286.9h0M438.7 287.4h0M438.6 287.5h0M442.3 285.1h0M443.6 285.5h0M452.3 280.5h0M437.3 287.9h0M448.2 284.4h0M440.9 286.5h0M453.0 281.3h0M447.0 285.3h0M437.5 287.9h0M440.4 287.1h0M440.7 287.0h0M451.0 281.6h0M442.3 285.9h0M446.9 283.7h0M441.8 286.9h0M449.4 284.0h0M448.7 283.9h0M448.2 284.6h0M436.5 288.2h0M452.2 283.0h0M447.6 284.2h0M450.7 282.6h0M439.7 286.5h0M442.8 286.0h0M437.3 287.9h0M438.4 287.8h0M438.4 287.6h0M449.1 283.5h0M446.8 284.3h0M437.9 287.9h0M451.6 283.4h0M450.4 280.7h0M445.5 285.8h0M445.1 285.1h0M441.0 286.6h0M453.2 282.2h0M444.0 286.1h0M436.3 288.2h0M441.1 286.4h0M438.5 287.3h0M441.2 286.8h0M452.6 282.1h0M445.5 284.7h0M441.1 286.9h0M453.4 281.2h0M440.1 287.3h0M440.5 286.9h0M436.6 288.2h0M436.6 288.2h0M444.4 286.0h0M441.6 286.1h0M448.0 283.0h0M442.1 286.0h0M436.2 288.3h0M437.3 287.9h0M449.2 284.4h0M439.6 287.4h0M437.9 287.8h0M447.4 283.2h0M450.3 281.3h0M450.0 283.2h0M445.4 285.7h0M447.8 283.1h0M438.2 287.8h0M443.6 285.0h0M436.9 288.1h0M443.5 286.3h0M437.6 287.8h0M450.4 281.5h0M439.9 287.5h0M443.6 286.3h0M443.6 285.9h0M438.9 286.9h0M449.3 283.8h0M444.0 285.9h0M438.0 287.9h0M439.9 287.0h0M436.4 288.2h0M437.4 287.9h0M444.1 286.2h0M442.8 286.3h0M441.2 287.0h0M440.0 287.4h0M452.5 283.0h0M436.8 288.1h0M453.7 280.6h0M445.9 284.8h0M447.1 284.0h0M439.7 287.3h0M450.1 284.0h0M446.8 281.8h0M439.9 286.8h0M438.1 287.7h0M439.9 287.4h0M451.1 282.0h0M447.3 284.8h0M447.4 283.1h0M439.7 287.3h0M450.6 281.4h0M445.4 285.9h0M436.5 288.2h0M448.1 283.6h0M451.6 281.1h0M437.5 287.6h0M443.9 285.4h0M450.2 284.0h0M453.6 280.5h0M440.1 286.3h0M439.8 286.4h0M437.9 287.9h0M441.4 286.5h0M452.6 281.5h0M445.5 284.3h0M443.7 285.5h0M441.6 286.4h0M436.4 288.2h0M437.8 287.8h0M454.5 282.0h0M436.4 288.2h0M449.2 280.6h0M441.8 286.7h0M448.1 282.9h0M440.4 287.2h0M439.2 287.3h0M447.4 282.4h0M436.9 288.1h0M452.4 281.0h0M439.8 287.1h0M436.3 288.2h0M448.7 280.8h0M442.8 285.3h0M444.0 285.1h0M436.8 288.1h0M440.4 286.5h0M448.9 283.1h0M442.1 286.8h0M450.8 283.3h0M442.1 286.7h0M447.1 285.0h0M442.2 286.2h0M445.0 284.6h0M453.3 281.3h0M441.7 285.0h0M436.8 288.1h0M442.0 286.8h0M438.3 287.7h0M444.8 284.2h0M436.4 288.2h0M438.5 287.7h0M447.9 285.0h0M447.1 285.3h0M436.3 288.2h0M439.9 287.0h0M438.5 287.3h0M448.4 283.2h0M448.6 281.1h0M443.5 284.8h0M445.3 285.0h0M447.1 284.5h0M450.9 281.2h0M444.3 286.1h0M444.1 286.3h0M449.5 282.1h0M441.3 286.1h0M451.6 282.4h0M439.1 286.9h0M436.4 288.2h0M443.7 286.0h0M438.4 287.8h0M446.5 283.4h0M439.8 286.7h0M445.9 285.2h0M454.9 281.7h0M447.8 285.0h0M441.5 286.0h0M442.9 286.2h0M440.9 286.4h0M437.6 287.8h0M451.2 283.4h0M445.3 284.6h0M447.5 284.4h0M442.0 285.3h0M448.3 281.8h0M439.5 287.5h0M441.4 287.0h0M447.0 285.1h0M442.5 284.6h0M447.3 283.3h0M446.6 284.2h0M453.9 281.3h0M446.8 282.7h0M439.3 287.2h0M443.8 286.4h0M436.2 288.3h0M441.0 286.5h0M450.0 281.5h0M445.5 285.5h0M441.6 286.5h0M437.8 287.9h0M447.2 283.6h0M437.5 288.0h0M444.9 285.3h0M443.2 285.9h0M451.3 283.7h0M446.9 282.8h0M443.5 286.5h0M442.3 286.1h0M454.8 281.4h0M437.9 287.8h0M440.9 286.5h0M450.9 283.4h0M443.3 285.1h0M439.7 287.4h0M441.4 286.8h0M440.2 287.1h0M439.0 287.6h0M441.1 286.6h0M446.1 285.1h0M436.5 288.2h0M446.9 282.2h0M445.5 284.7h0M448.0 284.9h0M439.7 287.5h0M450.0 282.2h0M439.3 287.5h0M439.1 287.6h0M448.7 284.7h0M442.6 285.2h0M445.3 282.7h0M454.6 281.9h0M440.1 286.8h0M446.9 284.4h0M447.8 285.0h0M445.7 284.9h0M450.3 283.4h0M444.7 285.3h0M437.6 287.9h0M438.6 287.7h0M436.1 288.3h0M453.1 282.8h0M449.9 283.1h0M448.1 283.6h0M455.6 281.2h0M454.3 282.2h0M436.4 288.2h0M455.0 281.8h0M440.2 287.2h0M450.8 282.2h0M439.9 286.8h0M452.9 280.8h0M446.3 283.4h0M442.4 286.5h0M438.9 287.5h0M450.9 281.8h0M445.9 284.2h0M436.5 288.1h0M442.7 285.1h0M439.7 287.2h0M445.9 285.7h0M446.7 284.6h0M438.0 287.7h0M447.9 283.8h0M438.2 287.7h0M447.3 283.9h0M444.0 285.9h0M447.5 285.0h0M438.3 287.5h0M444.8 285.4h0M447.2 282.9h0M443.6 286.1h0M437.9 287.7h0M447.1 281.3h0M445.5 285.5h0M436.2 288.3h0M440.9 287.0h0M440.1 287.2h0M436.5 288.2h0M447.3 285.2h0M439.7 287.5h0M454.3 281.6h0M454.0 282.3h0M438.7 287.7h0M448.1 284.0h0M455.4 280.9h0M441.1 286.6h0M436.4 288.2h0M445.0 285.3h0M444.3 283.4h0M436.9 287.9h0M448.7 283.3h0M437.1 288.0h0M441.2 286.4h0M436.4 288.2h0M446.6 284.4h0M436.5 288.2h0M439.3 287.5h0M455.2 281.2h0M440.0 287.4h0M443.2 286.3h0M444.5 286.0h0M438.1 287.8h0M443.8 285.6h0M445.4 283.6h0M453.5 282.7h0M437.3 288.0h0M442.9 286.4h0M446.7 285.0h0M439.7 287.5h0M443.1 285.9h0M437.3 287.9h0M441.1 285.4h0M437.8 287.7h0M437.2 288.0h0M448.4 283.7h0M442.5 286.6h0M447.3 284.9h0M441.9 286.4h0M440.8 286.7h0M446.1 284.8h0M451.6 282.7h0M451.9 281.9h0M447.4 284.7h0M440.0 286.9h0M453.8 281.3h0M453.3 282.6h0M440.7 287.1h0M440.1 287.4h0M447.6 284.8h0M436.9 288.1h0M444.8 284.2h0M453.2 281.1h0M450.0 283.4h0M443.3 286.2h0M452.8 282.7h0M445.5 283.5h0M448.1 284.9h0M438.9 287.3h0M450.7 281.6h0M445.3 285.5h0M451.3 281.6h0M441.7 286.9h0M449.5 281.6h0M452.4 282.7h0M444.9 284.8h0M448.1 284.8h0M440.4 286.5h0M441.8 286.5h0M445.4 285.3h0M452.6 280.9h0M446.2 285.1h0M442.4 286.8h0M441.7 285.8h0M444.5 284.5h0M454.7 280.6h0M439.8 286.7h0M442.3 285.7h0M437.3 288.0h0M436.6 288.1h0M446.1 283.4h0M437.1 288.0h0M437.0 288.0h0M446.7 281.9h0M436.1 288.3h0M442.9 286.6h0M441.1 285.8h0M455.2 280.7h0M444.8 285.6h0M445.0 285.8h0M442.0 286.1h0M438.8 287.7h0M439.6 286.6h0M437.1 288.0h0M446.2 284.6h0M437.5 287.9h0M443.2 286.4h0M443.6 285.5h0M447.4 282.3h0M443.4 285.8h0M447.3 284.6h0M439.9 286.9h0M440.0 287.4h0M444.4 285.0h0M452.6 282.4h0M436.2 288.2h0M452.2 281.4h0M441.0 287.0h0M454.9 281.1h0M440.8 286.5h0M448.1 281.7h0M445.9 285.3h0M449.3 284.0h0M446.3 284.9h0M436.2 288.3h0M443.3 286.2h0M438.1 287.8h0M440.5 287.3h0M444.0 286.3h0M439.6 286.7h0M446.2 284.6h0M436.8 288.1h0M447.2 283.8h0M439.6 286.9h0M436.3 288.2h0M439.3 287.5h0M452.5 282.0h0M453.8 281.9h0M445.9 285.1h0M445.2 285.8h0M446.4 285.4h0M450.6 281.0h0M440.7 286.0h0M442.9 284.3h0M452.7 281.7h0M440.1 287.3h0M442.4 286.6h0M439.2 287.5h0M443.9 283.6h0M449.1 282.6h0M437.2 288.1h0M438.4 287.7h0M449.8 281.5h0M439.4 287.4h0M444.2 286.2h0M437.5 287.9h0M439.3 287.2h0M447.2 283.3h0M442.9 285.2h0M436.2 288.3h0M437.2 288.0h0M445.1 284.1h0M450.8 281.1h0M442.4 286.3h0M449.0 282.4h0M445.5 285.9h0M445.0 286.0h0M437.6 287.8h0M447.6 285.0h0M444.0 286.2h0M437.9 287.9h0M438.5 287.4h0M436.9 288.1h0M445.2 284.2h0M437.0 288.1h0M439.9 287.2h0M443.6 284.7h0M439.2 287.0h0M447.5 284.0h0M450.4 281.0h0M445.4 285.3h0M448.9 284.5h0M452.4 280.6h0M445.3 284.8h0M449.3 283.0h0M442.3 285.1h0M442.5 285.9h0M445.6 285.0h0M450.3 282.4h0M438.2 287.6h0M446.0 285.7h0M455.5 280.6h0M453.9 281.2h0M451.9 281.2h0M438.1 287.7h0M446.8 284.3h0M436.9 288.1h0M438.2 287.7h0M443.4 284.9h0M448.0 284.5h0M444.9 284.6h0M442.4 285.6h0M454.5 280.7h0M443.4 286.1h0M444.6 284.8h0M444.9 285.1h0M438.2 287.5h0M444.4 285.1h0M439.8 286.7h0M455.6 280.5h0M440.7 286.9h0M445.2 285.9h0M441.6 286.5h0M445.4 285.0h0M450.8 281.2h0M443.5 286.4h0M437.5 288.0h0M441.0 286.8h0M444.5 284.8h0M442.8 286.5h0M444.0 285.8h0M439.2 287.6h0M447.6 284.3h0M438.4 287.8h0M443.3 285.3h0M441.0 286.7h0M449.9 282.3h0M445.5 283.8h0M449.1 284.4h0M437.8 287.7h0M449.3 281.0h0M437.6 287.7h0M441.9 286.7h0M438.2 287.8h0M451.0 283.6h0M441.3 286.1h0M445.0 285.4h0M447.4 283.9h0M443.8 286.4h0M445.8 284.9h0M449.4 282.8h0M444.7 284.3h0M437.9 287.6h0M452.0 283.1h0M447.0 285.2h0M438.1 287.7h0M444.7 285.0h0M438.0 287.7h0M444.7 285.3h0M443.9 286.2h0M437.2 287.9h0M453.3 282.0h0M450.1 281.4h0M440.3 286.6h0M443.3 286.1h0M441.1 286.5h0M443.0 286.6h0M441.5 286.7h0M439.7 286.8h0M441.3 286.8h0M453.0 282.1h0M436.5 288.1h0M449.1 284.3h0M439.5 287.4h0M448.3 282.9h0M440.0 286.9h0M450.1 281.9h0M436.6 288.2h0M446.1 283.8h0M443.9 286.2h0M445.0 285.4h0M447.6 282.7h0M442.2 285.6h0M437.3 288.0h0M451.0 283.0h0M437.1 288.0h0M442.9 284.6h0M446.3 282.7h0M443.9 284.6h0M444.1 285.6h0M440.7 287.0h0M437.8 287.7h0M442.2 286.6h0M438.8 287.4h0M438.9 287.6h0M443.7 285.2h0M451.5 282.6h0M447.1 284.2h0M441.3 285.4h0M444.3 285.6h0M450.5 282.4h0M444.0 286.2h0M437.0 288.0h0M440.1 286.8h0M441.2 286.9h0M436.8 288.0h0M436.3 288.2h0M446.0 285.1h0M440.1 287.3h0M447.7 283.4h0M438.0 287.8h0M438.7 287.5h0M440.3 287.0h0M437.0 288.0h0M438.7 287.3h0M439.2 287.4h0M441.0 286.2h0M442.5 286.6h0M445.3 285.1h0M446.0 284.2h0M445.5 284.6h0M444.1 285.7h0M453.9 281.4h0M448.2 282.7h0M448.0 284.9h0M448.5 284.7h0M443.6 284.6h0M452.3 280.7h0M445.6 285.0h0M446.5 282.5h0M445.4 283.6h0M437.9 287.8h0M443.3 286.5h0M450.2 283.5h0M439.3 287.6h0M441.7 286.1h0M447.6 284.6h0M454.5 281.9h0M438.7 287.5h0M444.7 285.2h0M449.3 283.6h0M439.0 287.2h0M443.8 286.0h0M446.9 285.2h0M436.5 288.2h0M453.9 281.9h0M454.9 281.0h0M451.3 280.8h0M437.7 287.8h0M449.8 283.6h0M447.9 280.8h0M446.6 283.2h0M450.3 281.6h0M453.2 281.6h0M443.1 286.2h0M451.3 283.7h0M442.8 285.1h0M441.7 286.4h0M452.1 283.1h0M436.5 288.2h0M442.6 286.7h0M444.4 286.2h0M450.0 280.9h0M436.6 288.2h0M446.4 285.2h0M446.6 285.2h0M439.2 287.5h0M437.7 288.0h0M442.6 286.6h0M439.8 287.3h0M449.8 284.0h0M445.0 285.0h0M437.3 287.9h0M440.5 287.2h0M446.5 285.0h0M439.2 287.4h0M442.5 286.7h0M442.0 285.7h0M446.5 284.6h0M441.6 286.1h0M441.2 286.8h0M442.3 286.0h0M442.3 286.3h0M448.5 283.7h0M440.4 287.1h0M438.2 287.8h0M442.0 286.0h0M452.8 281.4h0M442.1 286.4h0M448.8 283.3h0M444.0 286.2h0M443.7 286.3h0M441.7 286.9h0M450.6 282.8h0M443.3 286.0h0M444.4 286.1h0M438.8 287.3h0M436.5 288.1h0M437.3 288.0h0M447.5 283.6h0M445.3 285.9h0M443.4 286.3h0M444.2 284.9h0M441.4 286.3h0M445.0 285.7h0M451.5 281.2h0M439.1 287.3h0M445.4 285.4h0M444.5 284.8h0M443.6 286.4h0M443.0 286.4h0M441.0 286.8h0M440.8 286.4h0M450.5 282.2h0M436.2 288.2h0M447.7 283.9h0M445.1 284.7h0M442.5 286.6h0M445.6 285.3h0M439.7 287.2h0M436.5 288.2h0M442.9 285.8h0M438.6 287.8h0M441.6 286.7h0M446.6 283.6h0M445.9 282.9h0M444.1 286.0h0M444.6 286.0h0M436.4 288.2h0M443.7 286.4h0M437.3 287.9h0M449.5 281.7h0M443.4 284.4h0M438.4 287.3h0M442.3 286.0h0M441.8 285.7h0M449.7 282.1h0M437.5 287.8h0M444.9 285.5h0M446.1 284.7h0M440.5 287.3h0M445.8 283.7h0M447.0 285.1h0M450.9 281.2h0M449.9 281.6h0M439.4 287.5h0M441.6 286.2h0M437.4 287.9h0M446.3 285.2h0M446.4 284.4h0M454.9 280.8h0M444.6 286.1h0M440.2 287.2h0M440.2 287.2h0M441.1 287.1h0M440.9 286.7h0M437.1 288.1h0M444.5 285.5h0M440.5 286.9h0M442.5 285.8h0M437.9 287.9h0M443.0 285.6h0M436.3 288.2h0M437.0 288.0h0M451.3 283.2h0M437.0 288.1h0M447.9 283.9h0M449.4 283.0h0M436.0 288.3h0M453.7 282.1h0M444.7 284.6h0M451.6 281.3h0M436.9 288.1h0M449.7 282.2h0M448.2 280.7h0M448.9 282.9h0M443.9 286.3h0M446.3 283.1h0M444.9 286.1h0M442.8 285.9h0M449.0 284.5h0M447.7 284.6h0M447.8 285.1h0M451.7 280.8h0M438.5 287.6h0M444.3 284.4h0M443.5 285.9h0M449.8 281.5h0M439.7 287.4h0M449.7 283.3h0M453.7 281.0h0M443.2 286.6h0M448.8 281.5h0M445.6 285.8h0M449.0 282.7h0M446.8 282.3h0M444.3 286.1h0M444.7 283.8h0M442.0 286.7h0M439.1 287.6h0M436.8 288.1h0M445.1 285.3h0M436.1 288.3h0M442.1 286.5h0M450.6 282.6h0M436.5 288.2h0M440.3 286.4h0M447.0 284.2h0M437.9 287.9h0M455.0 280.5h0M446.0 285.0h0M447.0 282.3h0M441.1 286.5h0M450.6 282.5h0M453.1 281.2h0M438.1 287.9h0M449.3 284.1h0M438.2 287.6h0M447.5 285.1h0M442.9 286.5h0M445.0 285.8h0M439.0 287.6h0M452.4 282.9h0M439.4 287.3h0M444.9 282.3h0M456.0 280.9h0M437.0 288.1h0M446.8 282.5h0M445.8 283.6h0M453.0 281.9h0M436.4 288.2h0M438.4 287.8h0M438.2 287.7h0M450.7 282.6h0M438.4 287.6h0M438.3 287.5h0M448.1 284.0h0M436.7 288.1h0M449.2 281.0h0M436.3 288.2h0M451.5 280.9h0M438.6 287.6h0M438.7 287.8h0M447.5 283.0h0M439.5 287.4h0M439.6 287.2h0M444.6 283.9h0M437.4 287.8h0M447.9 284.9h0M441.0 286.7h0M438.2 287.6h0M451.6 282.4h0M445.0 285.6h0M449.3 284.4h0M444.7 283.8h0M450.4 282.2h0M442.4 285.7h0M444.6 285.2h0M442.7 286.7h0M448.6 282.4h0M443.1 285.0h0M441.5 286.6h0M443.0 285.5h0M454.6 280.9h0M446.1 285.4h0M441.5 286.8h0M446.3 285.6h0M442.7 286.6h0M452.5 282.8h0M445.5 285.4h0M442.3 286.8h0M442.0 285.5h0M441.3 286.5h0M450.1 282.4h0M444.5 284.1h0M446.1 285.0h0M445.6 285.0h0M436.7 288.1h0M440.2 287.2h0M447.2 284.6h0M440.6 287.2h0M437.7 287.9h0M452.5 282.1h0M437.5 288.0h0M447.8 285.1h0M447.4 282.6h0M454.0 281.1h0M451.8 281.2h0M437.3 288.0h0M436.5 288.2h0M438.3 287.8h0M454.5 282.2h0M448.5 282.3h0M442.8 286.3h0M436.1 288.3h0M438.0 287.8h0M441.9 286.9h0M453.9 281.5h0M448.0 284.3h0M444.8 284.9h0M446.8 284.3h0M436.5 288.1h0M443.8 286.4h0M449.4 282.8h0M442.9 286.1h0M448.1 284.7h0M452.4 281.7h0M444.8 285.3h0M438.7 287.5h0M440.9 287.2h0M439.5 286.9h0M448.7 284.6h0M451.7 282.6h0M450.2 283.1h0M450.9 283.5h0M440.0 287.2h0M443.4 286.1h0M439.4 287.5h0M445.8 285.2h0M444.7 284.8h0M446.0 283.5h0M443.2 285.7h0M437.4 288.0h0M437.9 287.9h0M440.3 287.4h0M451.1 281.9h0M446.8 285.0h0M447.1 283.0h0M439.3 287.1h0M449.1 283.3h0M446.5 285.5h0M436.8 288.1h0M454.7 281.1h0M450.3 282.9h0M444.3 286.2h0M442.9 286.2h0M442.5 285.6h0M445.9 285.0h0M452.1 282.8h0M444.4 285.7h0M440.6 287.0h0M445.8 283.9h0M454.4 282.0h0M437.6 287.9h0M440.4 286.7h0M445.6 282.5h0M448.8 284.2h0M436.8 288.1h0M443.8 284.6h0M444.4 285.8h0M447.6 284.9h0M436.0 288.3h0M446.6 285.0h0M440.8 286.9h0M447.8 285.1h0M444.2 285.4h0M443.9 286.0h0M447.6 283.3h0M448.6 281.1h0M437.1 288.0h0M445.9 285.6h0M447.1 285.3h0M448.7 284.3h0M443.8 286.4h0M443.0 285.1h0M443.1 286.5h0M437.4 288.0h0M447.8 282.4h0M445.4 283.7h0M448.1 283.3h0M440.5 286.5h0M448.5 284.5h0M442.2 284.8h0M442.0 286.6h0M446.4 282.9h0M437.7 287.9h0M437.5 287.9h0M441.5 286.0h0M444.8 286.0h0M439.7 287.0h0M442.6 284.0h0M445.6 284.8h0M444.4 285.5h0M438.6 287.7h0M448.2 284.4h0M445.3 285.3h0M448.4 283.3h0M438.2 287.7h0M448.0 284.8h0M442.7 286.4h0M438.6 287.4h0M443.0 286.6h0M454.6 281.7h0M444.3 285.4h0M445.2 285.6h0M437.6 287.9h0M446.7 281.2h0M450.4 283.5h0M443.2 285.8h0M445.9 285.3h0M444.7 285.9h0M440.7 287.0h0M439.2 287.3h0M444.4 285.6h0M447.4 282.8h0M440.8 286.6h0M442.3 285.5h0M439.5 287.5h0M437.0 288.0h0M439.8 287.0h0M448.7 283.2h0M445.3 285.7h0M454.4 281.8h0M448.1 284.3h0M443.5 286.2h0M438.1 287.8h0M447.9 284.2h0M444.7 285.0h0M436.6 288.2h0M443.7 286.3h0M443.6 285.2h0M450.6 280.7h0M436.7 288.2h0M441.2 287.0h0M443.8 285.8h0M441.1 286.4h0M440.7 287.3h0M437.2 288.0h0M443.4 285.9h0M442.2 286.4h0M445.5 285.1h0M446.2 285.5h0M440.3 287.1h0M446.8 284.8h0M437.5 287.8h0M444.7 285.0h0M439.5 287.5h0M436.7 288.1h0M439.8 287.5h0M444.7 286.0h0M441.8 285.8h0M445.1 283.3h0M450.3 282.3h0M438.6 287.7h0M449.6 283.5h0M457.8 280.6h0M450.7 283.1h0M448.5 284.6h0M444.4 285.6h0M437.3 288.0h0M447.9 284.7h0M445.4 285.0h0M444.4 286.1h0M445.7 283.6h0M438.5 287.8h0M440.4 287.2h0M455.3 281.3h0M443.2 286.1h0M450.8 283.1h0M441.5 286.8h0M443.4 286.3h0M445.1 283.7h0M438.9 287.7h0M441.3 287.0h0M447.1 285.0h0M453.2 281.3h0M440.5 287.0h0M440.7 286.6h0M441.3 286.8h0M448.1 283.1h0M441.5 286.9h0M448.8 284.2h0M449.3 282.1h0M449.9 282.4h0M439.3 287.5h0M444.5 286.1h0M441.2 286.5h0M450.8 283.9h0M436.2 288.2h0M444.0 285.8h0M438.5 287.4h0M445.6 283.5h0M437.6 287.9h0M453.1 282.0h0M438.9 287.3h0M443.3 286.3h0M441.4 287.0h0M445.5 285.4h0M448.8 282.4h0M439.7 287.0h0M444.6 284.1h0M445.9 285.3h0M442.7 285.0h0M444.5 284.3h0M437.0 288.1h0M449.8 281.3h0M445.5 283.6h0" stroke="#0000ff" stroke-width="1.70" stroke-linecap="round" fill="none"/>
<path d="M416.1 276.1h0M416.1 278.7h0M402.9 269.9h0M415.7 274.0h0M412.7 278.8h0M410.7 277.7h0M410.0 273.6h0M416.1 275.9h0M401.5 266.5h0M405.8 270.2h0M415.8 279.2h0M421.6 279.5h0M414.1 279.4h0M400.4 268.9h0M420.8 278.4h0M416.5 268.9h0M414.3 278.4h0M420.2 279.6h0M406.9 268.5h0M415.4 279.9h0M422.5 277.2h0M418.4 280.4h0M416.7 274.8h0M411.4 273.8h0M414.7 279.9h0M410.3 277.2h0M412.8 279.0h0M423.7 277.1h0M416.9 280.1h0M415.2 280.2h0M413.9 277.3h0M409.2 276.6h0M414.6 273.7h0M415.0 272.5h0M403.9 270.2h0M405.7 266.8h0M416.3 279.1h0M418.9 279.6h0M403.2 270.9h0M407.4 269.3h0M420.1 279.5h0M415.8 278.2h0M415.1 271.1h0M410.0 275.6h0M415.6 280.1h0M420.7 278.1h0M423.8 278.3h0M414.0 273.0h0M422.5 278.7h0M414.6 278.2h0M408.7 274.5h0M404.2 265.2h0M405.0 269.1h0M420.0 277.3h0M414.5 274.4h0M400.8 264.3h0M402.4 271.0h0M407.9 273.6h0M402.3 270.3h0M421.1 277.4h0M414.9 274.9h0M406.6 271.3h0M414.5 271.1h0M412.2 271.7h0M416.1 277.1h0M415.9 280.2h0M416.9 277.4h0M410.0 274.7h0M417.5 278.2h0M401.8 268.4h0M424.7 280.2h0M419.8 271.8h0M418.2 277.7h0M405.7 272.2h0M409.0 269.9h0M415.0 275.3h0M405.1 271.7h0M402.5 269.8h0M411.6 269.6h0M410.2 277.3h0M409.5 276.2h0M416.2 278.4h0M415.4 279.5h0M412.8 274.9h0M407.8 273.4h0M414.4 279.4h0M417.4 279.7h0M416.8 273.3h0M409.5 274.1h0M405.7 271.8h0M410.5 272.9h0M418.6 277.9h0M410.5 273.4h0M407.2 272.3h0M403.2 269.6h0M403.0 270.7h0M413.4 273.6h0M414.4 279.1h0M400.6 269.7h0M417.4 279.1h0M403.9 272.7h0M411.4 275.7h0M414.6 274.3h0M400.3 269.6h0M411.0 274.1h0M420.2 279.8h0M413.2 275.3h0M416.0 273.2h0M405.9 272.3h0M401.9 270.9h0M414.7 278.4h0M410.3 277.1h0M421.9 278.0h0M417.7 274.2h0M414.7 279.6h0M412.0 276.4h0M417.7 274.1h0M420.1 277.1h0M402.6 270.7h0M417.7 278.8h0M412.3 273.5h0M411.3 274.0h0M416.8 273.3h0M403.5 272.3h0M419.4 279.2h0M413.3 270.7h0M414.2 277.7h0M408.6 273.5h0M415.1 270.9h0M415.8 276.8h0M404.6 268.7h0M414.0 276.9h0M423.8 278.7h0M418.6 279.2h0M409.5 274.0h0M423.4 280.4h0M409.9 272.1h0M412.6 275.3h0M414.1 276.0h0M411.6 277.2h0M404.9 273.4h0M407.4 272.9h0M407.7 272.0h0M413.9 274.8h0M413.6 272.2h0M404.0 265.7h0M415.4 276.6h0M418.0 278.5h0M411.7 276.9h0M420.7 275.5h0M414.3 276.9h0M409.6 272.5h0M401.4 270.1h0M419.4 278.8h0M412.8 276.4h0M406.2 271.6h0M402.0 269.3h0M419.7 274.7h0M400.4 269.7h0M414.9 274.3h0M414.9 268.4h0M417.6 278.1h0M410.8 271.1h0M407.8 271.5h0M404.1 271.1h0M405.4 272.3h0M416.9 277.6h0M408.5 271.5h0M408.7 275.0h0M408.5 270.6h0M415.8 273.0h0M420.1 280.1h0M415.9 277.6h0M414.4 269.4h0M411.3 275.2h0M418.3 274.4h0M413.2 277.4h0M412.9 277.0h0M411.8 272.0h0M412.6 273.7h0M417.3 274.8h0M411.4 270.4h0M400.3 268.8h0M411.3 278.0h0M414.4 279.8h0M418.1 279.5h0M420.3 275.4h0M415.3 277.7h0M402.6 271.4h0M417.6 269.8h0M414.9 274.5h0M408.2 274.2h0M409.1 276.0h0M403.9 271.0h0M412.7 276.6h0M410.2 265.8h0M412.0 268.7h0M409.9 270.6h0M421.4 278.8h0M408.3 272.9h0M412.1 276.8h0M412.7 278.6h0M410.5 273.5h0M415.5 277.8h0M415.2 275.8h0M413.8 274.2h0M418.3 280.3h0M404.2 269.9h0M417.3 272.7h0M411.0 276.1h0M417.2 279.8h0M419.1 277.4h0M400.8 268.5h0M409.7 267.1h0M402.2 270.5h0M409.8 273.2h0M406.0 273.0h0M416.6 279.0h0M406.8 274.4h0M401.4 270.3h0M402.3 271.0h0M414.9 279.1h0M413.5 268.7h0M420.7 277.0h0M414.7 274.3h0M410.2 275.7h0M410.7 275.1h0M416.6 275.0h0M408.8 268.5h0M414.7 272.5h0M409.8 275.5h0M408.6 275.3h0M418.9 277.7h0M413.1 275.0h0M413.9 277.4h0M413.2 279.1h0M413.3 278.3h0M421.5 280.2h0M420.8 280.0h0M405.6 270.5h0M404.1 271.0h0M411.7 274.0h0M419.9 280.4h0M416.6 276.4h0M412.6 277.0h0M414.5 273.8h0M418.1 275.1h0M401.4 270.1h0M419.3 279.3h0M411.7 268.5h0M406.3 268.0h0M418.2 280.1h0M407.3 268.6h0M408.5 274.4h0M412.7 266.0h0M405.1 272.3h0M414.6 272.5h0M403.1 269.8h0M413.3 279.2h0M414.9 268.0h0M420.6 280.1h0M418.8 273.8h0M417.4 277.3h0M411.3 272.9h0M421.0 274.8h0M415.4 280.3h0M410.8 277.8h0M402.4 270.2h0M418.0 275.5h0M406.8 273.8h0M411.1 273.1h0M420.5 280.0h0M417.8 276.2h0M412.9 272.4h0M423.0 278.0h0M417.6 278.1h0M414.0 276.8h0M419.1 280.3h0M415.9 275.5h0M417.4 276.6h0M419.5 278.1h0M413.5 279.4h0M418.8 279.8h0M400.5 265.3h0M409.6 274.9h0M408.6 271.7h0M423.1 277.7h0M407.8 274.7h0M414.7 278.1h0M423.2 278.7h0M420.0 278.0h0M421.9 278.9h0M416.5 277.4h0M421.3 280.4h0M403.1 271.8h0M408.6 273.6h0M421.3 279.5h0M407.9 275.6h0M416.8 275.1h0M416.3 276.2h0M422.3 280.1h0M410.8 271.6h0M416.9 277.2h0M415.6 278.2h0M401.5 264.2h0M407.2 273.6h0M417.3 278.4h0M416.7 274.7h0M408.4 271.1h0M416.5 280.0h0M418.4 279.6h0M413.7 276.2h0M415.8 277.7h0M402.0 268.7h0M415.6 278.8h0M411.7 269.7h0M418.3 280.2h0M415.0 276.7h0M409.9 274.0h0M404.7 272.6h0M413.1 276.2h0M409.6 266.9h0M414.6 279.5h0M418.3 279.0h0M401.7 269.0h0M411.7 276.7h0M413.8 278.4h0M420.8 276.1h0M407.3 266.1h0M406.0 269.3h0M407.4 273.5h0M417.2 279.4h0M410.6 276.7h0M415.0 280.4h0M418.5 274.6h0M417.3 280.2h0M407.4 273.8h0M410.2 277.2h0M417.8 279.8h0M417.9 279.5h0M424.9 279.2h0M413.8 276.9h0M421.7 280.5h0M406.8 271.6h0M415.4 270.4h0M401.4 269.6h0M408.4 275.5h0M417.2 279.4h0M412.4 273.2h0M416.9 278.8h0M421.6 279.9h0M414.1 276.1h0M407.9 273.4h0M404.3 270.5h0M418.0 272.0h0M412.0 273.1h0M413.7 275.4h0M416.4 275.4h0M410.9 276.1h0M405.6 271.7h0M418.8 273.1h0M420.3 279.0h0M411.8 276.7h0M415.4 280.1h0M413.5 274.7h0M406.0 271.1h0M418.8 278.9h0M405.9 272.4h0M415.8 280.4h0M410.8 277.4h0M405.7 272.2h0M411.9 278.1h0M414.3 278.0h0M408.2 269.2h0M414.7 277.0h0M408.8 272.3h0M412.1 276.7h0M412.5 277.2h0M418.5 267.3h0M416.6 273.0h0M409.4 272.8h0M408.8 275.5h0M411.3 274.6h0M417.5 277.2h0M419.1 272.5h0M420.6 280.0h0M406.6 269.7h0M403.4 270.8h0M404.5 272.2h0M407.5 270.3h0M411.5 273.4h0M413.6 274.7h0M413.1 273.2h0M422.0 280.0h0M402.9 271.6h0M420.8 278.7h0M423.3 278.4h0M408.5 275.1h0M419.1 279.8h0M415.0 276.0h0M416.4 278.7h0M419.6 278.9h0M412.3 277.3h0M411.7 277.8h0M412.4 268.5h0M403.6 271.4h0M416.3 273.5h0M415.4 273.1h0M409.3 270.4h0M413.0 276.7h0M407.1 272.3h0M421.1 278.9h0M420.0 277.6h0M409.7 269.1h0M411.1 272.2h0M412.9 267.3h0M419.9 278.2h0M405.4 272.0h0M414.0 279.6h0M412.0 276.6h0M403.3 272.0h0M417.2 280.5h0M402.7 267.5h0M416.2 279.5h0M418.1 275.7h0M417.8 279.7h0M414.4 278.3h0M416.8 279.0h0M412.8 272.7h0M410.8 273.9h0M400.4 269.0h0M421.7 277.0h0M403.2 267.5h0M413.4 275.7h0M401.3 270.2h0M412.2 275.5h0M404.6 273.0h0M415.3 279.8h0M422.6 279.9h0M409.5 270.6h0M414.7 274.9h0M405.5 270.6h0M413.9 278.3h0M419.0 279.8h0M421.4 278.6h0M400.8 270.0h0M420.9 274.9h0M421.4 278.7h0M410.5 273.7h0M402.7 271.7h0M414.3 276.4h0M411.7 271.5h0M403.7 272.4h0M413.7 278.5h0M403.0 267.1h0M424.6 279.9h0M408.5 274.5h0M417.4 278.7h0M411.7 269.5h0M417.4 272.7h0M421.0 276.2h0M414.1 278.4h0M408.0 275.1h0M412.8 278.1h0M417.8 276.3h0M414.2 276.9h0M416.3 279.4h0M415.1 277.8h0M405.4 269.0h0M402.2 268.8h0M403.9 270.6h0M423.5 277.8h0M401.6 268.2h0M408.0 274.2h0M409.4 272.2h0M415.2 275.2h0M406.3 266.6h0M410.5 275.5h0M415.3 278.7h0M424.5 280.1h0M407.4 272.1h0M413.1 276.5h0M419.7 274.9h0M400.8 268.6h0M413.7 279.0h0M416.1 279.7h0M411.6 268.6h0M409.3 275.7h0M411.4 277.1h0M406.7 274.3h0M416.1 276.6h0M407.4 275.3h0M422.5 280.1h0M412.1 276.2h0M418.8 277.8h0M408.2 273.5h0M410.8 274.2h0M408.9 270.8h0M415.9 277.9h0M402.5 270.7h0M404.9 271.9h0M413.2 274.7h0M404.1 271.3h0M410.7 277.6h0M423.7 280.1h0M421.2 278.5h0M402.7 265.0h0M414.3 279.6h0M416.4 279.6h0M420.2 279.8h0M413.7 278.3h0M403.8 269.2h0M409.8 274.8h0M421.9 274.9h0M400.7 267.9h0M418.3 278.7h0M420.4 275.1h0M412.3 276.3h0M415.3 277.8h0M422.5 280.0h0M415.7 275.8h0M417.5 279.4h0M413.6 273.4h0M405.0 271.5h0M417.0 270.7h0M413.3 271.3h0M418.1 275.3h0M414.3 278.8h0M407.5 269.2h0M404.2 271.4h0M413.7 275.9h0M418.5 275.6h0M423.2 278.5h0M406.6 269.8h0M405.3 273.8h0M404.5 272.0h0M419.2 276.1h0M406.9 272.3h0M419.5 276.8h0M417.2 279.3h0M414.5 272.3h0M410.7 277.7h0M402.9 270.9h0M415.1 279.9h0M414.0 277.9h0M410.4 271.6h0M417.3 278.6h0M422.2 279.6h0M416.8 277.0h0M414.1 278.0h0M424.5 280.0h0M420.2 280.1h0M404.4 272.4h0M422.1 279.8h0M423.0 277.6h0M415.3 275.8h0M414.8 269.4h0M411.4 275.6h0M403.0 271.9h0M414.5 276.3h0M412.4 278.7h0M410.2 275.5h0M413.7 273.9h0M402.1 268.7h0M410.9 277.8h0M414.4 277.5h0M414.7 278.1h0M415.1 270.2h0M416.0 273.4h0M416.5 280.3h0M413.7 278.7h0M414.1 277.2h0M415.5 269.9h0M417.9 278.0h0M420.1 276.3h0M407.5 273.0h0M410.3 274.1h0M419.4 278.5h0M420.0 279.4h0M411.4 276.5h0M403.9 270.6h0M415.3 280.0h0M414.1 273.8h0M401.4 266.7h0M414.8 276.1h0M416.5 276.7h0M417.3 269.4h0M419.1 272.8h0M403.5 269.9h0M409.6 276.1h0M416.1 278.3h0M415.5 279.3h0M420.1 275.7h0M406.1 268.9h0M413.2 279.3h0M411.0 272.9h0M414.1 275.2h0M408.1 268.2h0M410.6 277.7h0M421.6 277.2h0M417.2 278.4h0M415.0 277.9h0M417.2 280.1h0M412.1 276.8h0M412.0 274.8h0M401.6 270.6h0M408.8 276.3h0M421.2 277.5h0M404.8 272.7h0M420.2 280.3h0M400.9 267.7h0M414.0 276.7h0M419.2 280.0h0M422.2 277.0h0M410.7 276.3h0M407.5 275.0h0M422.9 279.5h0M408.0 271.8h0M419.0 278.0h0M406.8 274.5h0M422.3 279.7h0M416.6 270.6h0M419.6 279.9h0M412.9 268.7h0M415.8 278.8h0M410.2 270.8h0M411.3 276.0h0M413.2 270.8h0M412.1 276.2h0M416.5 278.6h0M408.4 271.5h0M411.2 269.0h0M420.2 280.0h0M415.1 276.8h0M411.8 272.6h0M417.3 276.4h0M424.0 278.3h0M409.8 275.3h0M419.5 277.8h0M410.8 275.8h0M411.4 273.7h0M419.1 277.9h0M416.9 280.4h0M416.4 277.1h0M407.5 269.5h0M409.9 273.7h0M406.5 271.7h0M407.3 272.3h0M418.5 276.3h0M405.1 271.3h0M412.2 273.7h0M411.7 274.5h0M413.7 276.5h0M412.9 278.3h0M408.1 275.2h0M422.1 279.5h0M406.7 273.6h0M412.3 270.9h0M418.6 280.0h0M411.0 272.6h0M418.9 273.8h0M418.6 273.4h0M416.9 279.6h0M414.1 274.3h0M417.8 278.4h0M402.6 269.8h0M423.6 279.6h0M419.2 280.2h0M417.3 280.1h0M406.9 274.6h0M420.8 280.0h0M413.1 273.4h0M406.5 268.4h0M416.8 280.2h0M417.2 277.4h0M418.0 275.5h0M417.1 277.3h0M401.1 270.2h0M413.4 273.4h0M406.9 273.5h0M415.3 279.7h0M412.5 277.9h0M404.2 268.2h0M418.8 277.4h0M406.2 272.1h0M402.1 266.2h0M401.1 269.3h0M404.0 270.7h0M401.8 269.6h0M416.5 270.7h0M420.3 273.5h0M400.5 269.4h0M408.9 274.4h0M420.1 276.4h0M403.7 272.6h0M415.8 277.4h0M412.7 272.2h0M404.4 272.8h0M407.2 274.6h0M405.6 268.6h0M402.6 270.6h0M413.2 278.4h0M413.5 279.3h0M421.5 279.7h0M413.3 275.7h0M414.8 275.2h0M411.3 269.8h0M404.6 268.5h0M419.1 280.4h0M415.2 278.2h0M411.2 277.3h0M414.5 275.3h0M405.2 269.1h0M413.0 278.8h0M423.0 279.9h0M410.1 277.0h0M407.5 274.9h0M406.6 268.7h0M403.2 271.7h0M415.6 279.7h0M400.6 267.3h0M405.8 273.6h0M414.2 278.3h0M415.5 277.6h0M414.9 279.6h0M421.1 280.0h0M416.2 275.8h0M402.6 266.9h0M408.7 255.9h0M399.6 262.8h0M401.5 261.4h0M403.0 261.1h0M411.0 264.1h0M399.4 266.2h0M401.1 263.2h0M411.3 264.8h0M399.1 263.9h0M398.7 264.2h0M400.6 259.7h0M411.3 267.2h0M408.0 263.8h0M408.0 255.6h0M408.5 253.6h0M406.6 265.4h0M402.5 253.7h0M403.9 259.2h0M400.7 253.1h0M408.4 266.3h0M402.0 254.7h0M407.9 254.3h0M402.9 257.3h0M403.0 255.4h0M405.1 255.2h0M401.4 258.4h0M399.2 258.7h0M411.2 267.0h0M403.7 265.5h0M398.9 266.8h0M399.2 260.8h0M410.4 266.5h0M410.8 261.9h0M400.7 267.2h0M403.2 264.7h0M408.1 254.3h0M406.7 260.8h0M406.8 266.7h0M411.3 264.5h0M405.0 265.0h0M405.5 263.1h0M403.3 266.2h0M398.2 254.1h0M411.6 262.1h0" stroke="#006400" stroke-width="1.70" stroke-linecap="round" fill="none"/>
<path d="M455.2 276.0h0M466.3 265.5h0M454.4 280.4h0M455.5 275.8h0M464.6 271.2h0M458.6 279.9h0M472.3 266.2h0M454.0 276.2h0M460.3 278.2h0M456.7 279.3h0M455.2 278.3h0M451.9 278.8h0M456.3 278.8h0M465.9 268.0h0M453.6 270.5h0M456.0 280.3h0M467.7 267.0h0M466.6 273.2h0M462.1 274.5h0M461.0 273.4h0M458.6 277.8h0M456.4 276.8h0M457.6 279.1h0M462.6 275.0h0M451.5 279.3h0M453.6 277.3h0M476.1 264.5h0M465.5 274.2h0M458.1 276.9h0M451.0 278.7h0M470.2 271.8h0M453.5 275.6h0M467.3 265.6h0M453.0 279.2h0M466.2 270.5h0M474.1 268.0h0M458.3 280.2h0M461.5 272.2h0M464.8 265.8h0M459.6 269.9h0M466.4 268.6h0M464.3 276.1h0M454.3 276.8h0M453.0 279.1h0M462.3 270.3h0M467.2 264.0h0M465.9 275.2h0M458.0 274.8h0M459.9 279.2h0M467.5 273.1h0M461.9 273.8h0M459.7 277.5h0M465.0 274.1h0M454.7 279.6h0M456.1 276.9h0M458.1 280.0h0M447.3 278.9h0M455.5 277.4h0M456.0 272.9h0M454.9 280.3h0M470.8 268.3h0M472.5 261.9h0M457.8 275.3h0M453.6 277.5h0M454.2 278.1h0M457.7 269.5h0M454.2 274.5h0M450.1 279.7h0M462.0 277.2h0M462.5 277.2h0M454.2 276.4h0M463.5 274.1h0M457.0 275.9h0M452.3 279.3h0M475.6 265.9h0M452.6 280.2h0M470.4 261.6h0M456.7 278.9h0M455.9 280.4h0M455.9 269.8h0M467.6 266.0h0M460.7 267.4h0M479.8 263.5h0M454.7 279.3h0M451.6 277.5h0M457.4 271.7h0M467.0 273.4h0M457.9 279.2h0M461.4 278.2h0M465.4 267.7h0M469.2 270.2h0M467.9 261.9h0M465.9 266.7h0M457.3 277.3h0M452.6 275.2h0M452.4 279.0h0M451.4 278.9h0M462.0 277.3h0M480.3 262.9h0M454.5 271.1h0M462.4 265.4h0M458.7 273.6h0M457.3 280.5h0M453.7 276.4h0M458.3 275.6h0M463.7 274.4h0M457.8 270.6h0M460.0 278.5h0M464.6 271.0h0M451.9 272.6h0M461.2 277.1h0M479.9 263.3h0M454.7 279.4h0M458.3 275.2h0M458.3 277.6h0M456.4 279.5h0M459.5 279.4h0M452.1 276.6h0M466.8 268.3h0M449.3 279.3h0M461.2 264.2h0M463.4 264.0h0M469.4 271.9h0M468.9 272.4h0M458.1 280.0h0M458.0 275.5h0M457.3 273.6h0M457.9 279.3h0M452.7 277.3h0M459.2 279.2h0M454.9 271.3h0M456.4 274.4h0M457.5 280.2h0M474.3 268.1h0M459.8 278.6h0M471.4 267.6h0M461.0 269.6h0M474.9 267.1h0M476.0 263.5h0M451.1 279.3h0M464.2 270.7h0M462.6 271.5h0M463.2 271.3h0M460.7 278.7h0M459.3 275.9h0M448.8 278.2h0M458.4 279.5h0M459.0 270.2h0M461.9 276.4h0M459.8 278.2h0M468.7 271.2h0M456.8 280.1h0M460.6 278.8h0M454.7 277.8h0M456.1 280.2h0M460.0 273.7h0M472.4 267.4h0M455.1 276.0h0M457.5 263.1h0M462.9 272.7h0M459.6 278.1h0M458.5 276.4h0M473.3 269.6h0M455.7 271.2h0M466.1 272.5h0M464.6 273.3h0M455.7 280.2h0M453.0 279.8h0M458.8 274.7h0M462.8 275.4h0M451.9 277.3h0M470.9 270.6h0M449.2 277.1h0M456.9 276.8h0M469.0 272.1h0M463.8 270.3h0M459.8 279.0h0M469.4 267.6h0M456.7 279.0h0M458.8 278.4h0M451.8 277.5h0M459.8 266.7h0M451.8 280.4h0M454.7 274.8h0M459.0 278.8h0M470.3 269.2h0M468.7 272.1h0M464.4 275.0h0M473.9 265.2h0M462.5 268.9h0M458.5 271.4h0M461.6 272.3h0M478.6 264.0h0M461.9 278.1h0M460.6 273.5h0M464.7 274.7h0M466.2 273.0h0M473.1 265.1h0M457.2 269.0h0M461.9 271.6h0M466.9 271.9h0M457.1 280.0h0M457.3 267.4h0M466.2 272.5h0M460.3 277.0h0M470.0 265.2h0M455.9 280.3h0M462.2 273.6h0M459.5 277.6h0M454.9 277.2h0M454.0 275.2h0M465.4 268.7h0M463.7 272.2h0M454.2 268.9h0M461.2 270.7h0M454.8 275.0h0M456.1 271.0h0M464.5 276.2h0M455.8 278.7h0M459.4 274.6h0M455.7 277.7h0M460.5 278.1h0M471.4 269.3h0M469.6 269.8h0M459.6 274.6h0M456.0 277.2h0M463.2 275.9h0M460.0 273.2h0M454.5 278.5h0M466.8 270.3h0M454.6 279.8h0M453.7 271.4h0M454.6 270.7h0M450.5 279.5h0M457.4 274.9h0M454.7 279.5h0M466.4 274.4h0M468.4 273.5h0M468.9 266.2h0M459.4 275.7h0M448.3 278.6h0M469.4 263.0h0M453.7 279.0h0M455.1 273.8h0M451.7 280.0h0M470.3 267.7h0M461.4 275.9h0M462.1 271.0h0M469.0 268.6h0M465.8 274.4h0M451.1 278.9h0M452.1 273.3h0M453.7 272.9h0M463.9 265.8h0M465.0 269.3h0M463.1 274.8h0M468.3 270.1h0M476.1 265.1h0M461.0 271.7h0M454.9 280.0h0M459.0 267.2h0M456.7 279.8h0M472.3 263.8h0M456.0 278.0h0M455.3 278.6h0M467.4 266.3h0M455.2 277.3h0M455.5 268.5h0M464.0 268.2h0M456.1 273.1h0M465.6 273.2h0M447.6 280.0h0M459.9 265.2h0M463.1 265.1h0M462.7 275.9h0M456.9 277.1h0M473.7 266.7h0M458.1 279.3h0M451.8 278.0h0M458.4 278.9h0M457.3 265.5h0M464.1 272.8h0M461.8 272.1h0M466.4 268.3h0M459.6 273.8h0M452.7 271.7h0M447.8 280.3h0M448.2 279.2h0M450.0 277.4h0M454.3 273.0h0M457.6 278.2h0M470.1 268.7h0M459.2 276.0h0M472.2 259.3h0M452.0 273.9h0M456.4 275.0h0M460.0 278.9h0M451.1 278.9h0M453.3 277.0h0M464.0 274.7h0M470.1 266.6h0M471.0 268.9h0M470.4 267.7h0M457.9 276.0h0M469.8 270.5h0M454.5 280.3h0M452.5 277.1h0M457.3 272.9h0M449.2 280.0h0M449.2 279.1h0M455.5 271.9h0M458.9 267.8h0M451.3 279.1h0M455.3 278.5h0M463.1 261.8h0M467.7 269.0h0M456.2 276.6h0M460.7 273.3h0M449.9 279.7h0M463.3 269.9h0M458.5 272.2h0M459.4 276.9h0M462.7 271.5h0M475.5 265.5h0M478.8 262.4h0M459.2 275.3h0M471.4 270.7h0M456.6 273.0h0M457.6 278.3h0M466.6 272.6h0M460.7 277.7h0M456.0 278.1h0M452.1 280.3h0M460.6 273.1h0M455.3 273.6h0M452.2 278.4h0M450.9 278.3h0M468.3 270.7h0M456.7 268.9h0M453.8 276.5h0M462.6 270.8h0M469.1 269.1h0M467.5 270.2h0M459.2 275.6h0M464.5 273.0h0M455.0 279.4h0M458.7 279.3h0M455.6 280.5h0M465.5 272.4h0M456.5 277.3h0M457.5 280.2h0M453.0 275.0h0M462.1 276.3h0M454.0 278.8h0M473.0 266.5h0M460.2 274.0h0M465.5 273.1h0M469.4 272.5h0M461.0 272.1h0M466.7 270.2h0M456.0 276.5h0M456.6 276.4h0M457.4 273.8h0M450.8 278.7h0M459.8 278.9h0M458.5 274.5h0M459.0 278.6h0M460.1 277.2h0M470.6 265.3h0M470.4 270.4h0M453.5 277.6h0M453.3 279.7h0M462.6 276.0h0M452.6 278.6h0M451.1 278.5h0M458.4 279.5h0M460.9 272.8h0M459.5 268.7h0M458.2 278.8h0M452.6 280.4h0M452.2 272.3h0M460.3 272.0h0M452.8 278.6h0M479.1 263.3h0M472.4 263.6h0M450.2 279.1h0M452.3 279.4h0M455.7 274.9h0M465.9 275.0h0M454.4 275.3h0M461.7 270.0h0M471.9 267.1h0M479.5 264.1h0M459.6 277.0h0M474.2 267.8h0M460.5 277.3h0M459.3 278.7h0M453.5 275.2h0M466.2 275.3h0M462.3 274.7h0M476.7 263.7h0M462.5 274.0h0M457.4 278.0h0M463.1 271.1h0M464.4 276.1h0M454.9 278.3h0M461.3 269.0h0M454.1 279.0h0M461.5 273.9h0M477.8 263.9h0M466.1 273.7h0M473.4 266.7h0M462.3 272.0h0M464.8 272.6h0M466.1 275.3h0M465.3 275.5h0M453.6 275.8h0M451.8 278.2h0M453.4 279.4h0M456.1 276.9h0M457.4 267.4h0M463.7 269.0h0M461.8 275.3h0M462.7 264.8h0M477.0 263.1h0M465.4 271.8h0M460.5 277.4h0M470.9 271.8h0M458.1 279.4h0M450.6 280.4h0M472.2 270.5h0M452.6 280.3h0M456.1 274.7h0M460.5 278.4h0M465.3 273.4h0M465.9 273.1h0M458.2 278.7h0M458.9 267.5h0M454.1 279.4h0M458.2 278.6h0M460.0 278.3h0M465.6 272.9h0M472.0 270.5h0M460.3 278.5h0M451.6 275.3h0M463.6 267.5h0M446.5 280.3h0M450.8 277.3h0M456.8 278.4h0M452.5 275.3h0M479.8 260.7h0M460.9 272.9h0M449.9 279.3h0M466.9 273.0h0M480.7 262.4h0M461.3 269.7h0M452.8 272.8h0M455.2 279.9h0M460.4 274.2h0M460.6 278.7h0M457.9 274.1h0M460.7 267.5h0M454.0 279.4h0M456.1 278.3h0M463.2 267.4h0M457.6 275.3h0M456.5 279.8h0M459.0 267.9h0M458.1 273.7h0M468.8 268.2h0M468.5 271.2h0M465.9 274.4h0M452.0 280.5h0M455.4 278.7h0M453.8 280.1h0M458.7 276.3h0M458.7 277.7h0M461.1 278.5h0M455.2 275.4h0M458.3 271.8h0M468.3 273.5h0M454.5 279.0h0M458.1 280.3h0M454.6 280.1h0M463.2 276.0h0M465.3 269.1h0M456.6 279.9h0M450.8 278.8h0M475.0 265.7h0M459.0 279.3h0M457.6 266.4h0M469.5 272.7h0M469.7 268.7h0M455.1 278.3h0M460.9 277.5h0M453.6 279.6h0M457.8 274.7h0M468.3 270.2h0M457.8 274.3h0M460.4 278.0h0M472.9 269.0h0M457.2 279.5h0M473.1 265.2h0M454.4 280.4h0M461.0 269.5h0M456.1 279.6h0M472.5 268.0h0M465.6 272.2h0M476.0 266.5h0M452.6 278.5h0M479.2 260.4h0M453.0 278.9h0M460.9 278.1h0M460.2 279.1h0M463.2 276.2h0M461.2 260.7h0M462.7 275.1h0M456.1 273.9h0M465.0 275.3h0M450.3 279.9h0M459.5 278.5h0M477.5 261.8h0M455.3 280.4h0M454.2 276.9h0M455.9 279.0h0M463.0 271.1h0M457.3 277.4h0M457.1 280.1h0M456.9 278.5h0M455.8 279.7h0M460.6 274.6h0M469.8 264.9h0M447.8 279.6h0M469.3 268.4h0M451.2 274.5h0M460.6 278.0h0M461.0 268.9h0M462.2 270.8h0M460.3 268.8h0M468.8 273.0h0M464.8 268.4h0M459.2 276.8h0M464.3 274.9h0M459.1 279.4h0M449.0 279.6h0M463.0 275.4h0M461.9 272.2h0M464.0 273.8h0M461.8 277.2h0M459.4 275.0h0M463.5 276.4h0M468.5 268.5h0M455.3 280.2h0M456.1 275.6h0M453.2 270.0h0M461.6 273.2h0M465.0 271.0h0M450.7 280.2h0M471.0 269.8h0M450.7 277.3h0M451.3 280.2h0M455.6 277.2h0M459.9 273.0h0M465.3 273.6h0M463.1 274.1h0M453.3 274.9h0M471.6 266.5h0M453.1 278.8h0M458.0 279.3h0M463.0 269.2h0M456.7 280.1h0M464.7 274.1h0M459.3 278.2h0M477.2 265.9h0M467.5 266.9h0M456.7 276.3h0M459.2 270.6h0M453.0 280.1h0M464.3 275.7h0M455.6 278.8h0M451.3 277.7h0M447.7 280.2h0M452.1 274.6h0M477.4 265.7h0M457.7 269.6h0M475.1 267.0h0M473.9 268.5h0M463.4 271.3h0M467.3 269.5h0M467.0 268.9h0M449.2 278.8h0M462.4 275.6h0M456.5 278.6h0M453.7 278.5h0M458.1 272.8h0M454.7 279.7h0M451.7 273.9h0M463.1 276.9h0M453.5 278.4h0M460.3 279.1h0M456.1 273.0h0M454.4 273.0h0M457.3 280.1h0M470.8 263.4h0M452.0 279.3h0M458.4 273.8h0M472.4 270.0h0M477.4 264.9h0M468.2 272.6h0M456.0 277.2h0M462.3 273.8h0M469.7 264.0h0M455.6 269.1h0M457.2 273.6h0M452.7 275.2h0M459.7 278.9h0M476.1 260.6h0M456.3 275.5h0M456.8 279.7h0M449.4 280.1h0M472.5 267.9h0M457.6 280.4h0M471.1 269.5h0M455.9 276.3h0M455.2 277.2h0M465.6 265.5h0M458.1 279.0h0M455.9 272.1h0M463.3 272.9h0M448.5 279.3h0M461.5 274.3h0M453.2 277.5h0M458.6 279.5h0M457.3 278.7h0M452.4 279.1h0M473.9 266.8h0M461.1 275.3h0M453.8 279.5h0M456.5 271.8h0M469.0 269.6h0M458.5 279.6h0M461.0 260.5h0M461.6 276.4h0M455.8 278.5h0M462.0 277.0h0M457.2 279.7h0M461.3 268.1h0M469.3 264.5h0M471.4 266.5h0M459.1 271.1h0M462.8 274.3h0M458.8 274.4h0M459.1 278.8h0M458.4 273.4h0M455.0 277.4h0M455.8 277.5h0M458.0 264.7h0M464.3 269.6h0M456.5 275.0h0M466.3 265.7h0M455.4 272.1h0M464.5 270.6h0M457.0 277.4h0M457.2 273.0h0M460.7 278.4h0M456.6 274.1h0M454.3 280.3h0M455.6 277.2h0M452.0 276.3h0M472.1 267.5h0M466.9 268.9h0M470.3 271.4h0M450.4 280.3h0M457.6 277.5h0M452.1 279.9h0M459.4 264.0h0M472.5 266.8h0M467.1 267.6h0M454.2 274.1h0M464.0 276.3h0M464.4 272.7h0M460.7 276.7h0M457.7 277.7h0M467.2 270.6h0M466.5 274.6h0M466.4 271.8h0M469.9 270.0h0M466.2 266.7h0M454.6 272.2h0M459.2 277.7h0M464.8 267.0h0M463.0 274.4h0M462.0 272.3h0M457.7 276.3h0M480.5 263.3h0M457.9 273.6h0M468.9 266.4h0M450.5 278.6h0M463.2 272.4h0M458.5 277.3h0M461.6 274.8h0M457.4 262.8h0M460.1 274.2h0M453.1 279.6h0M472.3 268.2h0M451.8 280.2h0M458.2 279.7h0M467.3 270.5h0M469.0 273.0h0M454.3 277.5h0M452.8 275.3h0M472.2 270.1h0M467.9 272.4h0M455.9 274.4h0M459.8 276.0h0M451.3 279.7h0M461.4 276.7h0M459.4 274.1h0M463.3 272.3h0M469.2 266.0h0M470.5 270.6h0M461.1 277.3h0M461.3 271.0h0M456.9 277.1h0M459.0 277.8h0M457.4 276.5h0M457.8 269.2h0M467.8 271.7h0M454.8 278.2h0M457.0 267.5h0M457.2 279.3h0M466.0 273.1h0M470.0 272.1h0M454.4 273.8h0M468.3 262.2h0M460.3 278.8h0M473.4 264.0h0M478.6 264.3h0M467.0 267.9h0M466.1 274.8h0M456.5 278.2h0M462.2 273.5h0M458.2 270.7h0M465.7 272.1h0M470.1 271.0h0M458.8 275.3h0M464.4 276.3h0M467.0 271.6h0M458.0 280.4h0M471.7 269.6h0M474.5 266.5h0M459.5 268.4h0M465.6 270.5h0M466.0 274.8h0M460.1 277.7h0M454.0 276.8h0M460.4 278.6h0M456.5 270.2h0M453.4 278.0h0M457.1 277.6h0M473.8 268.9h0M455.5 279.1h0M475.7 263.6h0M457.9 271.1h0M461.3 274.1h0M460.8 275.1h0M460.6 276.8h0M468.6 271.9h0M455.9 275.7h0M451.5 279.3h0M461.6 270.1h0M452.0 275.9h0M462.2 272.9h0M468.0 271.5h0M459.4 279.6h0M449.4 278.8h0M457.6 278.3h0M465.4 270.6h0M452.6 278.2h0M458.3 275.0h0M459.9 277.4h0M470.9 271.0h0M470.0 270.4h0M461.3 275.7h0M454.3 271.3h0M462.6 264.2h0M461.1 272.3h0M452.6 278.5h0M467.6 267.9h0M454.0 279.9h0M460.3 277.1h0M461.6 270.1h0M455.8 278.3h0M458.0 267.2h0M474.0 267.8h0M460.0 276.3h0M475.9 263.2h0M456.0 277.4h0M465.9 271.6h0M461.6 277.9h0M458.4 279.5h0M453.7 280.1h0M461.1 259.9h0M464.2 244.8h0M465.6 247.2h0M474.3 245.3h0M473.7 258.4h0M474.4 261.3h0M479.3 259.2h0M481.7 253.8h0M477.8 260.3h0M472.3 247.3h0M474.8 262.2h0M478.0 246.9h0M463.8 255.8h0M472.3 252.4h0M476.3 252.4h0M477.2 256.0h0M464.8 245.9h0M468.3 259.0h0M473.1 249.9h0M470.9 243.7h0M481.4 260.3h0M466.9 257.9h0M459.0 259.2h0M465.3 255.1h0M471.7 249.9h0M470.4 249.9h0M464.0 256.0h0M479.1 243.7h0M479.3 255.4h0M480.9 251.0h0M480.9 261.5h0M465.5 257.0h0M475.0 261.4h0M471.3 252.7h0M478.8 258.6h0M460.2 262.1h0M459.9 252.9h0M463.1 260.7h0M472.1 262.2h0M475.7 257.6h0M473.8 257.3h0M478.1 257.7h0M476.4 258.5h0M466.1 250.0h0M465.1 247.1h0M475.4 260.4h0M461.4 262.4h0M476.0 262.2h0M462.3 256.5h0M472.8 248.0h0M480.7 245.6h0M475.2 248.0h0M474.5 256.3h0M481.4 256.9h0M472.0 248.9h0M478.8 252.6h0M471.9 256.4h0M478.6 260.1h0M475.1 258.8h0M465.8 259.2h0" stroke="#ff0000" stroke-width="1.70" stroke-linecap="round" fill="none"/>
<path d="M516.0 32.3h0M511.0 38.4h0M501.0 129.3h0M506.9 129.8h0M488.9 184.8h0M502.2 181.6h0M477.0 191.7h0M509.4 196.2h0M515.5 202.3h0M496.6 202.3h0M486.0 215.3h0M494.0 215.3h0M498.0 214.2h0M508.0 215.6h0M502.0 224.1h0M500.6 229.9h0M470.1 231.5h0M473.6 233.9h0M485.0 234.7h0M488.9 235.5h0M496.9 233.9h0M494.8 237.8h0M493.5 240.8h0M466.9 238.1h0M472.2 240.0h0M474.9 242.6h0M481.5 245.3h0M486.8 244.0h0M466.9 245.3h0M482.8 250.6h0M477.5 253.2h0M480.2 257.2h0M484.2 253.2h0M489.5 249.3h0M492.5 240.3h0M464.7 245.1h0M479.1 251.8h0M483.9 253.8h0M467.6 249.9h0M466.6 255.7h0M473.3 256.6h0" stroke="#d0203c" stroke-width="1.7" stroke-linecap="round" fill="none"/>
<path d="M327.0 75.1h0M349.7 193.2h0M369.7 230.6h0M393.0 235.2h0M400.0 240.6h0M400.0 242.8h0M381.5 243.6h0M379.3 245.1h0M382.7 248.3h0M386.2 252.7h0M389.9 254.3h0M401.4 247.3h0M402.9 247.3h0M406.3 248.7h0M398.5 249.5h0M395.5 251.7h0M404.4 251.2h0M402.2 253.2h0M397.0 253.9h0M396.0 256.1h0M412.5 257.6h0" stroke="#0e4e0e" stroke-width="1.7" stroke-linecap="round" fill="none"/>
<line x1="317.5" y1="280.5" x2="525.5" y2="280.5" stroke="#dc2040" stroke-width="1.1" stroke-dasharray="2.4 1.7"/>
<line x1="317.5" y1="19.7" x2="525.5" y2="19.7" stroke="#8a8a8a" stroke-width="1.8"/>
<line x1="525.5" y1="18.9" x2="525.5" y2="302.0" stroke="#4a4a4a" stroke-width="1.5"/>
<line x1="317.5" y1="18.9" x2="317.5" y2="301.2" stroke="#808080" stroke-width="1.6"/>
<line x1="316.5" y1="301.2" x2="526.2" y2="301.2" stroke="#4a4a4a" stroke-width="1.8"/>
<line x1="324.0" y1="301.2" x2="324.0" y2="303.7" stroke="#333" stroke-width="1.1"/>
<text x="323.0" y="314.8" text-anchor="middle" class="tk">-4</text>
<line x1="380.0" y1="301.2" x2="380.0" y2="303.7" stroke="#333" stroke-width="1.1"/>
<text x="379.0" y="314.8" text-anchor="middle" class="tk">-2</text>
<line x1="436.0" y1="301.2" x2="436.0" y2="303.7" stroke="#333" stroke-width="1.1"/>
<text x="435.7" y="314.8" text-anchor="middle" class="tk">0</text>
<line x1="492.0" y1="301.2" x2="492.0" y2="303.7" stroke="#333" stroke-width="1.1"/>
<text x="491.7" y="314.8" text-anchor="middle" class="tk">2</text>
<line x1="315.0" y1="288.3" x2="317.5" y2="288.3" stroke="#333" stroke-width="1.1"/>
<text x="312.9" y="292.3" text-anchor="end" class="tk">0</text>
<line x1="315.0" y1="228.1" x2="317.5" y2="228.1" stroke="#333" stroke-width="1.1"/>
<text x="312.9" y="232.1" text-anchor="end" class="tk">10</text>
<line x1="315.0" y1="167.9" x2="317.5" y2="167.9" stroke="#333" stroke-width="1.1"/>
<text x="312.9" y="171.9" text-anchor="end" class="tk">20</text>
<line x1="315.0" y1="107.7" x2="317.5" y2="107.7" stroke="#333" stroke-width="1.1"/>
<text x="312.9" y="111.7" text-anchor="end" class="tk">30</text>
<line x1="315.0" y1="47.5" x2="317.5" y2="47.5" stroke="#333" stroke-width="1.1"/>
<text x="312.9" y="51.5" text-anchor="end" class="tk">40</text>
<rect x="491.8" y="112.4" width="27.9" height="15.3" fill="#fff"/>
<rect x="478.0" y="130.1" width="44.7" height="15.3" fill="#fff"/>
<rect x="464.3" y="167.2" width="37.0" height="15.3" fill="#fff"/>
<rect x="507.2" y="178.6" width="41.1" height="15.3" fill="#fff"/>
<rect x="450.7" y="194.0" width="42.0" height="15.3" fill="#fff"/>
<rect x="349.5" y="212.1" width="36.3" height="15.3" fill="#fff"/>
<rect x="402.7" y="231.2" width="32.5" height="15.3" fill="#fff"/>
<text transform="translate(494.1 124.3) scale(1.13 1)" class="lb">Ttc7</text>
<text transform="translate(480.3 142.0) scale(1.13 1)" class="lb">Phlpp2</text>
<text transform="translate(466.6 179.1) scale(1.13 1)" class="lb">Ikbkg</text>
<text transform="translate(509.5 190.5) scale(1.065 1)" class="lb">Gsdmc</text>
<text transform="translate(453.0 205.9) scale(1.13 1)" class="lb">Sumo3</text>
<text transform="translate(351.8 224.0) scale(1.13 1)" class="lb">Egr-2</text>
<text transform="translate(405.0 243.1) scale(1.13 1)" class="lb">Bak1</text>
<text x="281.7" y="16.8" class="pl">B</text>
<text x="424" y="11.8" text-anchor="middle" class="ttl">DXM+GM enema vs ARP mice</text>
<text x="418.2" y="328.6" text-anchor="middle" class="ax">log2 (fold change)</text>
<text transform="translate(292 164) rotate(-90)" text-anchor="middle" class="ax">-log10 (p value)</text>
<!-- Legend -->
<text x="545.3" y="126.8" class="lgt">Different Expressed Gene</text>
<circle cx="550.3" cy="139.2" r="0.8" fill="#f00000"/>
<circle cx="550.3" cy="156" r="0.8" fill="#006400"/>
<circle cx="550.3" cy="171.8" r="0.8" fill="#0000ee"/>
<text x="556.8" y="144.4" class="lg">Up</text>
<text x="556.8" y="160.1" class="lg">Down</text>
<text x="556.8" y="175.7" class="lg">Not significant</text>
</svg>
</body></html>
